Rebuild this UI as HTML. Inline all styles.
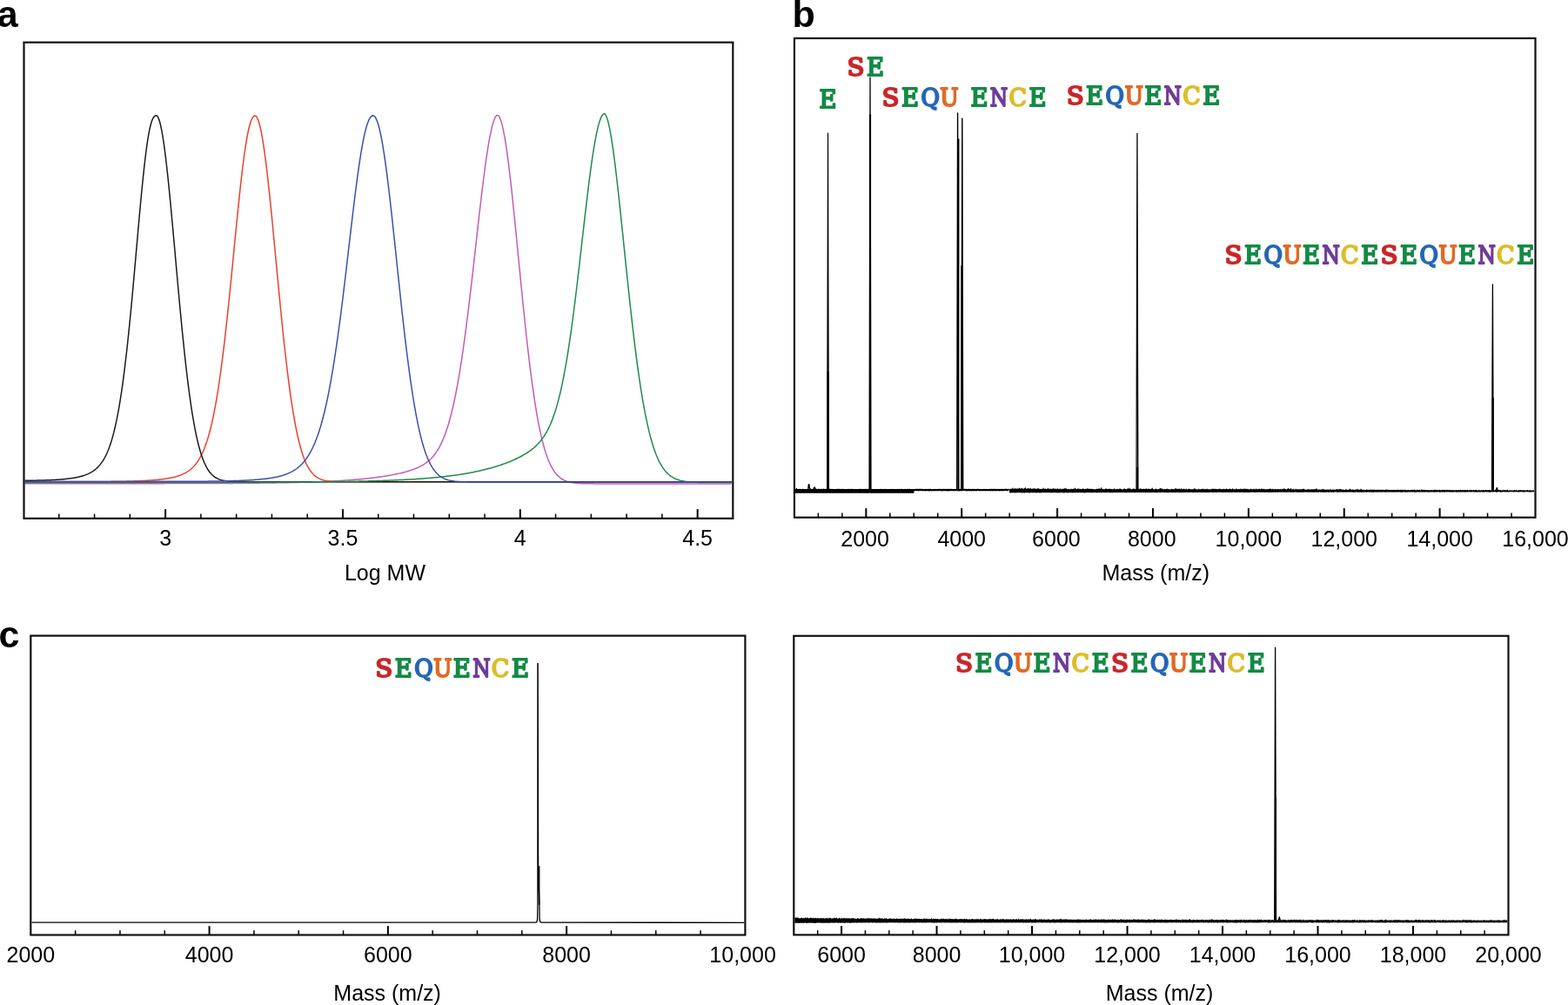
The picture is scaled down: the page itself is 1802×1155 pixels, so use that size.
<!DOCTYPE html>
<html><head><meta charset="utf-8"><title>Figure</title>
<style>html,body{margin:0;padding:0;background:#fff;width:1802px;height:1155px;overflow:hidden}svg{display:block}</style>
</head><body>
<svg width="1802" height="1155" viewBox="0 0 1802 1155"><text x="-3.2" y="30.8" font-family="'Liberation Sans', Arial, Helvetica, sans-serif" font-size="43" font-weight="bold" fill="#000">a</text>
<text x="910.5" y="30.8" font-family="'Liberation Sans', Arial, Helvetica, sans-serif" font-size="43" font-weight="bold" fill="#000">b</text>
<text x="-1.6" y="744" font-family="'Liberation Sans', Arial, Helvetica, sans-serif" font-size="43" font-weight="bold" fill="#000">c</text>
<path d="M28.7 555.7 L29.7 555.7 L30.7 555.7 L31.7 555.7 L32.7 555.7 L33.7 555.7 L34.7 555.7 L35.7 555.7 L36.7 555.7 L37.7 555.7 L38.7 555.7 L39.7 555.7 L40.7 555.7 L41.7 555.7 L42.7 555.7 L43.7 555.7 L44.7 555.69 L45.7 555.69 L46.7 555.69 L47.7 555.69 L48.7 555.69 L49.7 555.69 L50.7 555.69 L51.7 555.69 L52.7 555.69 L53.7 555.69 L54.7 555.69 L55.7 555.69 L56.7 555.69 L57.7 555.69 L58.7 555.69 L59.7 555.69 L60.7 555.69 L61.7 555.69 L62.7 555.69 L63.7 555.69 L64.7 555.69 L65.7 555.69 L66.7 555.69 L67.7 555.69 L68.7 555.69 L69.7 555.69 L70.7 555.69 L71.7 555.69 L72.7 555.69 L73.7 555.69 L74.7 555.69 L75.7 555.69 L76.7 555.69 L77.7 555.69 L78.7 555.69 L79.7 555.69 L80.7 555.69 L81.7 555.69 L82.7 555.69 L83.7 555.69 L84.7 555.69 L85.7 555.69 L86.7 555.69 L87.7 555.69 L88.7 555.69 L89.7 555.69 L90.7 555.69 L91.7 555.69 L92.7 555.69 L93.7 555.69 L94.7 555.69 L95.7 555.69 L96.7 555.69 L97.7 555.69 L98.7 555.69 L99.7 555.69 L100.7 555.69 L101.7 555.69 L102.7 555.69 L103.7 555.68 L104.7 555.68 L105.7 555.68 L106.7 555.68 L107.7 555.68 L108.7 555.68 L109.7 555.68 L110.7 555.68 L111.7 555.68 L112.7 555.68 L113.7 555.68 L114.7 555.68 L115.7 555.68 L116.7 555.68 L117.7 555.68 L118.7 555.68 L119.7 555.68 L120.7 555.68 L121.7 555.68 L122.7 555.68 L123.7 555.68 L124.7 555.68 L125.7 555.68 L126.7 555.68 L127.7 555.68 L128.7 555.68 L129.7 555.68 L130.7 555.67 L131.7 555.67 L132.7 555.67 L133.7 555.67 L134.7 555.67 L135.7 555.67 L136.7 555.67 L137.7 555.67 L138.7 555.67 L139.7 555.67 L140.7 555.67 L141.7 555.67 L142.7 555.67 L143.7 555.67 L144.7 555.67 L145.7 555.67 L146.7 555.67 L147.7 555.67 L148.7 555.66 L149.7 555.66 L150.7 555.66 L151.7 555.66 L152.7 555.66 L153.7 555.66 L154.7 555.66 L155.7 555.66 L156.7 555.66 L157.7 555.66 L158.7 555.66 L159.7 555.66 L160.7 555.66 L161.7 555.66 L162.7 555.65 L163.7 555.65 L164.7 555.65 L165.7 555.65 L166.7 555.65 L167.7 555.65 L168.7 555.65 L169.7 555.65 L170.7 555.65 L171.7 555.65 L172.7 555.65 L173.7 555.64 L174.7 555.64 L175.7 555.64 L176.7 555.64 L177.7 555.64 L178.7 555.64 L179.7 555.64 L180.7 555.64 L181.7 555.63 L182.7 555.63 L183.7 555.63 L184.7 555.63 L185.7 555.63 L186.7 555.63 L187.7 555.63 L188.7 555.63 L189.7 555.62 L190.7 555.62 L191.7 555.62 L192.7 555.62 L193.7 555.62 L194.7 555.62 L195.7 555.62 L196.7 555.61 L197.7 555.61 L198.7 555.61 L199.7 555.61 L200.7 555.61 L201.7 555.61 L202.7 555.6 L203.7 555.6 L204.7 555.6 L205.7 555.6 L206.7 555.6 L207.7 555.59 L208.7 555.59 L209.7 555.59 L210.7 555.59 L211.7 555.59 L212.7 555.58 L213.7 555.58 L214.7 555.58 L215.7 555.58 L216.7 555.57 L217.7 555.57 L218.7 555.57 L219.7 555.57 L220.7 555.57 L221.7 555.56 L222.7 555.56 L223.7 555.56 L224.7 555.55 L225.7 555.55 L226.7 555.55 L227.7 555.55 L228.7 555.54 L229.7 555.54 L230.7 555.54 L231.7 555.53 L232.7 555.53 L233.7 555.53 L234.7 555.52 L235.7 555.52 L236.7 555.52 L237.7 555.51 L238.7 555.51 L239.7 555.51 L240.7 555.5 L241.7 555.5 L242.7 555.5 L243.7 555.49 L244.7 555.49 L245.7 555.48 L246.7 555.48 L247.7 555.48 L248.7 555.47 L249.7 555.47 L250.7 555.46 L251.7 555.46 L252.7 555.45 L253.7 555.45 L254.7 555.45 L255.7 555.44 L256.7 555.44 L257.7 555.43 L258.7 555.43 L259.7 555.42 L260.7 555.42 L261.7 555.41 L262.7 555.4 L263.7 555.4 L264.7 555.39 L265.7 555.39 L266.7 555.38 L267.7 555.38 L268.7 555.37 L269.7 555.36 L270.7 555.36 L271.7 555.35 L272.7 555.34 L273.7 555.34 L274.7 555.33 L275.7 555.32 L276.7 555.32 L277.7 555.31 L278.7 555.3 L279.7 555.29 L280.7 555.29 L281.7 555.28 L282.7 555.27 L283.7 555.26 L284.7 555.25 L285.7 555.25 L286.7 555.24 L287.7 555.23 L288.7 555.22 L289.7 555.21 L290.7 555.2 L291.7 555.19 L292.7 555.18 L293.7 555.17 L294.7 555.16 L295.7 555.15 L296.7 555.14 L297.7 555.13 L298.7 555.12 L299.7 555.11 L300.7 555.1 L301.7 555.09 L302.7 555.08 L303.7 555.06 L304.7 555.05 L305.7 555.04 L306.7 555.03 L307.7 555.01 L308.7 555 L309.7 554.99 L310.7 554.97 L311.7 554.96 L312.7 554.95 L313.7 554.93 L314.7 554.92 L315.7 554.9 L316.7 554.89 L317.7 554.87 L318.7 554.86 L319.7 554.84 L320.7 554.83 L321.7 554.81 L322.7 554.79 L323.7 554.78 L324.7 554.76 L325.7 554.74 L326.7 554.72 L327.7 554.7 L328.7 554.69 L329.7 554.67 L330.7 554.65 L331.7 554.63 L332.7 554.61 L333.7 554.59 L334.7 554.56 L335.7 554.54 L336.7 554.52 L337.7 554.5 L338.7 554.48 L339.7 554.45 L340.7 554.43 L341.7 554.41 L342.7 554.38 L343.7 554.36 L344.7 554.33 L345.7 554.31 L346.7 554.28 L347.7 554.25 L348.7 554.23 L349.7 554.2 L350.7 554.17 L351.7 554.14 L352.7 554.11 L353.7 554.08 L354.7 554.05 L355.7 554.02 L356.7 553.99 L357.7 553.95 L358.7 553.92 L359.7 553.89 L360.7 553.85 L361.7 553.82 L362.7 553.78 L363.7 553.75 L364.7 553.71 L365.7 553.67 L366.7 553.64 L367.7 553.6 L368.7 553.56 L369.7 553.52 L370.7 553.47 L371.7 553.43 L372.7 553.39 L373.7 553.35 L374.7 553.3 L375.7 553.26 L376.7 553.21 L377.7 553.16 L378.7 553.12 L379.7 553.07 L380.7 553.02 L381.7 552.97 L382.7 552.92 L383.7 552.86 L384.7 552.81 L385.7 552.75 L386.7 552.7 L387.7 552.64 L388.7 552.59 L389.7 552.53 L390.7 552.47 L391.7 552.41 L392.7 552.34 L393.7 552.28 L394.7 552.22 L395.7 552.15 L396.7 552.08 L397.7 552.01 L398.7 551.95 L399.7 551.87 L400.7 551.8 L401.7 551.73 L402.7 551.65 L403.7 551.58 L404.7 551.5 L405.7 551.42 L406.7 551.34 L407.7 551.26 L408.7 551.17 L409.7 551.09 L410.7 551 L411.7 550.91 L412.7 550.82 L413.7 550.73 L414.7 550.64 L415.7 550.54 L416.7 550.44 L417.7 550.34 L418.7 550.24 L419.7 550.14 L420.7 550.04 L421.7 549.93 L422.7 549.82 L423.7 549.71 L424.7 549.6 L425.7 549.48 L426.7 549.36 L427.7 549.24 L428.7 549.12 L429.7 549 L430.7 548.87 L431.7 548.74 L432.7 548.61 L433.7 548.48 L434.7 548.34 L435.7 548.2 L436.7 548.06 L437.7 547.91 L438.7 547.77 L439.7 547.62 L440.7 547.46 L441.7 547.31 L442.7 547.15 L443.7 546.99 L444.7 546.82 L445.7 546.65 L446.7 546.48 L447.7 546.31 L448.7 546.13 L449.7 545.94 L450.7 545.76 L451.7 545.57 L452.7 545.37 L453.7 545.17 L454.7 544.97 L455.7 544.76 L456.7 544.55 L457.7 544.33 L458.7 544.11 L459.7 543.88 L460.7 543.65 L461.7 543.41 L462.7 543.17 L463.7 542.92 L464.7 542.66 L465.7 542.4 L466.7 542.12 L467.7 541.84 L468.7 541.55 L469.7 541.26 L470.7 540.95 L471.7 540.63 L472.7 540.3 L473.7 539.96 L474.7 539.61 L475.7 539.24 L476.7 538.86 L477.7 538.46 L478.7 538.05 L479.7 537.62 L480.7 537.17 L481.7 536.69 L482.7 536.2 L483.7 535.68 L484.7 535.14 L485.7 534.56 L486.7 533.96 L487.7 533.32 L488.7 532.65 L489.7 531.94 L490.7 531.19 L491.7 530.39 L492.7 529.55 L493.7 528.66 L494.7 527.71 L495.7 526.7 L496.7 525.63 L497.7 524.5 L498.7 523.29 L499.7 522.01 L500.7 520.64 L501.7 519.19 L502.7 517.65 L503.7 516.01 L504.7 514.26 L505.7 512.41 L506.7 510.44 L507.7 508.34 L508.7 506.12 L509.7 503.77 L510.7 501.27 L511.7 498.62 L512.7 495.82 L513.7 492.85 L514.7 489.72 L515.7 486.41 L516.7 482.92 L517.7 479.24 L518.7 475.37 L519.7 471.29 L520.7 467.01 L521.7 462.52 L522.7 457.81 L523.7 452.89 L524.7 447.74 L525.7 442.37 L526.7 436.76 L527.7 430.93 L528.7 424.87 L529.7 418.59 L530.7 412.07 L531.7 405.33 L532.7 398.37 L533.7 391.19 L534.7 383.81 L535.7 376.22 L536.7 368.44 L537.7 360.48 L538.7 352.34 L539.7 344.05 L540.7 335.61 L541.7 327.05 L542.7 318.37 L543.7 309.6 L544.7 300.76 L545.7 291.87 L546.7 282.96 L547.7 274.03 L548.7 265.13 L549.7 256.28 L550.7 247.5 L551.7 238.83 L552.7 230.28 L553.7 221.9 L554.7 213.71 L555.7 205.73 L556.7 198.01 L557.7 190.57 L558.7 183.45 L559.7 176.66 L560.7 170.25 L561.7 164.24 L562.7 158.65 L563.7 153.53 L564.7 148.89 L565.7 144.76 L566.7 141.17 L567.7 138.15 L568.7 135.72 L569.7 133.91 L570.7 132.78 L571.7 132.4 L572.7 132.89 L573.7 134.14 L574.7 136.11 L575.7 138.79 L576.7 142.15 L577.7 146.17 L578.7 150.82 L579.7 156.08 L580.7 161.91 L581.7 168.28 L582.7 175.17 L583.7 182.54 L584.7 190.36 L585.7 198.58 L586.7 207.17 L587.7 216.1 L588.7 225.32 L589.7 234.8 L590.7 244.49 L591.7 254.37 L592.7 264.39 L593.7 274.52 L594.7 284.72 L595.7 294.96 L596.7 305.2 L597.7 315.41 L598.7 325.56 L599.7 335.63 L600.7 345.58 L601.7 355.39 L602.7 365.03 L603.7 374.49 L604.7 383.75 L605.7 392.78 L606.7 401.58 L607.7 410.12 L608.7 418.4 L609.7 426.41 L610.7 434.14 L611.7 441.58 L612.7 448.72 L613.7 455.58 L614.7 462.13 L615.7 468.39 L616.7 474.36 L617.7 480.03 L618.7 485.42 L619.7 490.52 L620.7 495.35 L621.7 499.9 L622.7 504.19 L623.7 508.22 L624.7 512 L625.7 515.54 L626.7 518.85 L627.7 521.95 L628.7 524.83 L629.7 527.5 L630.7 529.99 L631.7 532.29 L632.7 534.42 L633.7 536.39 L634.7 538.21 L635.7 539.87 L636.7 541.41 L637.7 542.81 L638.7 544.1 L639.7 545.28 L640.7 546.35 L641.7 547.33 L642.7 548.22 L643.7 549.02 L644.7 549.75 L645.7 550.41 L646.7 551.01 L647.7 551.55 L648.7 552.04 L649.7 552.47 L650.7 552.86 L651.7 553.21 L652.7 553.53 L653.7 553.81 L654.7 554.06 L655.7 554.28 L656.7 554.48 L657.7 554.65 L658.7 554.81 L659.7 554.95 L660.7 555.07 L661.7 555.17 L662.7 555.27 L663.7 555.35 L664.7 555.42 L665.7 555.49 L666.7 555.54 L667.7 555.59 L668.7 555.63 L669.7 555.67 L670.7 555.7 L671.7 555.73 L672.7 555.75 L673.7 555.78 L674.7 555.79 L675.7 555.81 L676.7 555.82 L677.7 555.83 L678.7 555.84 L679.7 555.85 L680.7 555.86 L681.7 555.87 L682.7 555.87 L683.7 555.88 L684.7 555.88 L685.7 555.88 L686.7 555.89 L687.7 555.89 L688.7 555.89 L689.7 555.89 L690.7 555.89 L691.7 555.89 L692.7 555.9 L693.7 555.9 L694.7 555.9 L695.7 555.9 L696.7 555.9 L697.7 555.9 L698.7 555.9 L699.7 555.9 L700.7 555.9 L701.7 555.9 L702.7 555.9 L703.7 555.9 L704.7 555.9 L705.7 555.9 L706.7 555.9 L707.7 555.9 L708.7 555.9 L709.7 555.9 L710.7 555.9 L711.7 555.9 L712.7 555.9 L713.7 555.9 L714.7 555.9 L715.7 555.9 L716.7 555.9 L717.7 555.9 L718.7 555.9 L719.7 555.9 L720.7 555.9 L721.7 555.9 L722.7 555.9 L723.7 555.9 L724.7 555.9 L725.7 555.9 L726.7 555.9 L727.7 555.9 L728.7 555.9 L729.7 555.9 L730.7 555.9 L731.7 555.9 L732.7 555.9 L733.7 555.9 L734.7 555.9 L735.7 555.9 L736.7 555.9 L737.7 555.9 L738.7 555.9 L739.7 555.9 L740.7 555.9 L741.7 555.9 L742.7 555.9 L743.7 555.9 L744.7 555.9 L745.7 555.9 L746.7 555.9 L747.7 555.9 L748.7 555.9 L749.7 555.9 L750.7 555.9 L751.7 555.9 L752.7 555.9 L753.7 555.9 L754.7 555.9 L755.7 555.9 L756.7 555.9 L757.7 555.9 L758.7 555.9 L759.7 555.9 L760.7 555.9 L761.7 555.9 L762.7 555.9 L763.7 555.9 L764.7 555.9 L765.7 555.9 L766.7 555.9 L767.7 555.9 L768.7 555.9 L769.7 555.9 L770.7 555.9 L771.7 555.9 L772.7 555.9 L773.7 555.9 L774.7 555.9 L775.7 555.9 L776.7 555.9 L777.7 555.9 L778.7 555.9 L779.7 555.9 L780.7 555.9 L781.7 555.9 L782.7 555.9 L783.7 555.9 L784.7 555.9 L785.7 555.9 L786.7 555.9 L787.7 555.9 L788.7 555.9 L789.7 555.9 L790.7 555.9 L791.7 555.9 L792.7 555.9 L793.7 555.9 L794.7 555.9 L795.7 555.9 L796.7 555.9 L797.7 555.9 L798.7 555.9 L799.7 555.9 L800.7 555.9 L801.7 555.9 L802.7 555.9 L803.7 555.9 L804.7 555.9 L805.7 555.9 L806.7 555.9 L807.7 555.9 L808.7 555.9 L809.7 555.9 L810.7 555.9 L811.7 555.9 L812.7 555.9 L813.7 555.9 L814.7 555.9 L815.7 555.9 L816.7 555.9 L817.7 555.9 L818.7 555.9 L819.7 555.9 L820.7 555.9 L821.7 555.9 L822.7 555.9 L823.7 555.9 L824.7 555.9 L825.7 555.9 L826.7 555.9 L827.7 555.9 L828.7 555.9 L829.7 555.9 L830.7 555.9 L831.7 555.9 L832.7 555.9 L833.7 555.9 L834.7 555.9 L835.7 555.9 L836.7 555.9 L837.7 555.9 L838.7 555.9 L839.7 555.9 L840.7 555.9" fill="none" stroke="#c35bb5" stroke-width="1.5" stroke-linejoin="round" />
<path d="M28.7 553.6 L29.7 553.6 L30.7 553.6 L31.7 553.6 L32.7 553.6 L33.7 553.6 L34.7 553.6 L35.7 553.6 L36.7 553.6 L37.7 553.6 L38.7 553.59 L39.7 553.59 L40.7 553.59 L41.7 553.59 L42.7 553.59 L43.7 553.59 L44.7 553.59 L45.7 553.59 L46.7 553.59 L47.7 553.59 L48.7 553.59 L49.7 553.59 L50.7 553.59 L51.7 553.59 L52.7 553.59 L53.7 553.59 L54.7 553.59 L55.7 553.59 L56.7 553.59 L57.7 553.59 L58.7 553.59 L59.7 553.59 L60.7 553.59 L61.7 553.59 L62.7 553.59 L63.7 553.59 L64.7 553.58 L65.7 553.58 L66.7 553.58 L67.7 553.58 L68.7 553.58 L69.7 553.58 L70.7 553.58 L71.7 553.58 L72.7 553.58 L73.7 553.58 L74.7 553.58 L75.7 553.58 L76.7 553.57 L77.7 553.57 L78.7 553.57 L79.7 553.57 L80.7 553.57 L81.7 553.57 L82.7 553.57 L83.7 553.56 L84.7 553.56 L85.7 553.56 L86.7 553.56 L87.7 553.56 L88.7 553.56 L89.7 553.55 L90.7 553.55 L91.7 553.55 L92.7 553.55 L93.7 553.55 L94.7 553.54 L95.7 553.54 L96.7 553.54 L97.7 553.54 L98.7 553.53 L99.7 553.53 L100.7 553.53 L101.7 553.52 L102.7 553.52 L103.7 553.52 L104.7 553.51 L105.7 553.51 L106.7 553.51 L107.7 553.5 L108.7 553.5 L109.7 553.49 L110.7 553.49 L111.7 553.48 L112.7 553.48 L113.7 553.47 L114.7 553.47 L115.7 553.46 L116.7 553.46 L117.7 553.45 L118.7 553.44 L119.7 553.44 L120.7 553.43 L121.7 553.42 L122.7 553.41 L123.7 553.41 L124.7 553.4 L125.7 553.39 L126.7 553.38 L127.7 553.37 L128.7 553.36 L129.7 553.35 L130.7 553.34 L131.7 553.33 L132.7 553.32 L133.7 553.3 L134.7 553.29 L135.7 553.28 L136.7 553.26 L137.7 553.25 L138.7 553.23 L139.7 553.22 L140.7 553.2 L141.7 553.18 L142.7 553.16 L143.7 553.15 L144.7 553.13 L145.7 553.11 L146.7 553.08 L147.7 553.06 L148.7 553.04 L149.7 553.01 L150.7 552.99 L151.7 552.96 L152.7 552.93 L153.7 552.9 L154.7 552.87 L155.7 552.84 L156.7 552.81 L157.7 552.77 L158.7 552.74 L159.7 552.7 L160.7 552.66 L161.7 552.62 L162.7 552.58 L163.7 552.53 L164.7 552.49 L165.7 552.44 L166.7 552.39 L167.7 552.33 L168.7 552.28 L169.7 552.22 L170.7 552.16 L171.7 552.1 L172.7 552.03 L173.7 551.96 L174.7 551.89 L175.7 551.81 L176.7 551.74 L177.7 551.65 L178.7 551.57 L179.7 551.48 L180.7 551.38 L181.7 551.29 L182.7 551.18 L183.7 551.08 L184.7 550.96 L185.7 550.85 L186.7 550.72 L187.7 550.59 L188.7 550.46 L189.7 550.32 L190.7 550.17 L191.7 550.01 L192.7 549.85 L193.7 549.67 L194.7 549.49 L195.7 549.3 L196.7 549.1 L197.7 548.89 L198.7 548.66 L199.7 548.43 L200.7 548.18 L201.7 547.91 L202.7 547.64 L203.7 547.34 L204.7 547.03 L205.7 546.69 L206.7 546.34 L207.7 545.97 L208.7 545.57 L209.7 545.14 L210.7 544.69 L211.7 544.2 L212.7 543.69 L213.7 543.13 L214.7 542.54 L215.7 541.91 L216.7 541.23 L217.7 540.51 L218.7 539.73 L219.7 538.89 L220.7 538 L221.7 537.04 L222.7 536 L223.7 534.89 L224.7 533.7 L225.7 532.42 L226.7 531.04 L227.7 529.56 L228.7 527.97 L229.7 526.26 L230.7 524.43 L231.7 522.47 L232.7 520.36 L233.7 518.1 L234.7 515.68 L235.7 513.09 L236.7 510.33 L237.7 507.37 L238.7 504.22 L239.7 500.85 L240.7 497.27 L241.7 493.46 L242.7 489.41 L243.7 485.11 L244.7 480.55 L245.7 475.73 L246.7 470.64 L247.7 465.27 L248.7 459.61 L249.7 453.65 L250.7 447.41 L251.7 440.86 L252.7 434.01 L253.7 426.86 L254.7 419.41 L255.7 411.66 L256.7 403.63 L257.7 395.31 L258.7 386.71 L259.7 377.86 L260.7 368.75 L261.7 359.42 L262.7 349.88 L263.7 340.14 L264.7 330.25 L265.7 320.21 L266.7 310.07 L267.7 299.86 L268.7 289.6 L269.7 279.34 L270.7 269.12 L271.7 258.97 L272.7 248.94 L273.7 239.08 L274.7 229.42 L275.7 220.01 L276.7 210.89 L277.7 202.12 L278.7 193.73 L279.7 185.76 L280.7 178.26 L281.7 171.26 L282.7 164.79 L283.7 158.88 L284.7 153.56 L285.7 148.85 L286.7 144.76 L287.7 141.29 L288.7 138.44 L289.7 136.21 L290.7 134.58 L291.7 133.53 L292.7 133.03 L293.7 133.18 L294.7 134.05 L295.7 135.64 L296.7 137.94 L297.7 140.95 L298.7 144.64 L299.7 148.99 L300.7 153.99 L301.7 159.6 L302.7 165.81 L303.7 172.58 L304.7 179.87 L305.7 187.66 L306.7 195.9 L307.7 204.56 L308.7 213.59 L309.7 222.96 L310.7 232.63 L311.7 242.55 L312.7 252.69 L313.7 263 L314.7 273.43 L315.7 283.96 L316.7 294.54 L317.7 305.13 L318.7 315.71 L319.7 326.22 L320.7 336.64 L321.7 346.95 L322.7 357.1 L323.7 367.08 L324.7 376.86 L325.7 386.41 L326.7 395.72 L327.7 404.77 L328.7 413.54 L329.7 422.02 L330.7 430.21 L331.7 438.08 L332.7 445.64 L333.7 452.88 L334.7 459.8 L335.7 466.39 L336.7 472.66 L337.7 478.61 L338.7 484.25 L339.7 489.57 L340.7 494.59 L341.7 499.31 L342.7 503.74 L343.7 507.88 L344.7 511.76 L345.7 515.38 L346.7 518.74 L347.7 521.87 L348.7 524.77 L349.7 527.45 L350.7 529.92 L351.7 532.2 L352.7 534.29 L353.7 536.21 L354.7 537.97 L355.7 539.58 L356.7 541.05 L357.7 542.38 L358.7 543.6 L359.7 544.7 L360.7 545.69 L361.7 546.59 L362.7 547.4 L363.7 548.13 L364.7 548.78 L365.7 549.37 L366.7 549.9 L367.7 550.36 L368.7 550.78 L369.7 551.15 L370.7 551.48 L371.7 551.77 L372.7 552.03 L373.7 552.26 L374.7 552.46 L375.7 552.64 L376.7 552.79 L377.7 552.93 L378.7 553.05 L379.7 553.15 L380.7 553.24 L381.7 553.32 L382.7 553.39 L383.7 553.45 L384.7 553.5 L385.7 553.54 L386.7 553.58 L387.7 553.61 L388.7 553.64 L389.7 553.67 L390.7 553.69 L391.7 553.7 L392.7 553.72 L393.7 553.73 L394.7 553.74 L395.7 553.75 L396.7 553.76 L397.7 553.77 L398.7 553.77 L399.7 553.78 L400.7 553.78 L401.7 553.78 L402.7 553.79 L403.7 553.79 L404.7 553.79 L405.7 553.79 L406.7 553.79 L407.7 553.79 L408.7 553.8 L409.7 553.8 L410.7 553.8 L411.7 553.8 L412.7 553.8 L413.7 553.8 L414.7 553.8 L415.7 553.8 L416.7 553.8 L417.7 553.8 L418.7 553.8 L419.7 553.8 L420.7 553.8 L421.7 553.8 L422.7 553.8 L423.7 553.8 L424.7 553.8 L425.7 553.8 L426.7 553.8 L427.7 553.8 L428.7 553.8 L429.7 553.8 L430.7 553.8 L431.7 553.8 L432.7 553.8 L433.7 553.8 L434.7 553.8 L435.7 553.8 L436.7 553.8 L437.7 553.8 L438.7 553.8 L439.7 553.8 L440.7 553.8 L441.7 553.8 L442.7 553.8 L443.7 553.8 L444.7 553.8 L445.7 553.8 L446.7 553.8 L447.7 553.8 L448.7 553.8 L449.7 553.8 L450.7 553.8 L451.7 553.8 L452.7 553.8 L453.7 553.8 L454.7 553.8 L455.7 553.8 L456.7 553.8 L457.7 553.8 L458.7 553.8 L459.7 553.8 L460.7 553.8 L461.7 553.8 L462.7 553.8 L463.7 553.8 L464.7 553.8 L465.7 553.8 L466.7 553.8 L467.7 553.8 L468.7 553.8 L469.7 553.8 L470.7 553.8 L471.7 553.8 L472.7 553.8 L473.7 553.8 L474.7 553.8 L475.7 553.8 L476.7 553.8 L477.7 553.8 L478.7 553.8 L479.7 553.8 L480.7 553.8 L481.7 553.8 L482.7 553.8 L483.7 553.8 L484.7 553.8 L485.7 553.8 L486.7 553.8 L487.7 553.8 L488.7 553.8 L489.7 553.8 L490.7 553.8 L491.7 553.8 L492.7 553.8 L493.7 553.8 L494.7 553.8 L495.7 553.8 L496.7 553.8 L497.7 553.8 L498.7 553.8 L499.7 553.8 L500.7 553.8 L501.7 553.8 L502.7 553.8 L503.7 553.8 L504.7 553.8 L505.7 553.8 L506.7 553.8 L507.7 553.8 L508.7 553.8 L509.7 553.8 L510.7 553.8 L511.7 553.8 L512.7 553.8 L513.7 553.8 L514.7 553.8 L515.7 553.8 L516.7 553.8 L517.7 553.8 L518.7 553.8 L519.7 553.8 L520.7 553.8 L521.7 553.8 L522.7 553.8 L523.7 553.8 L524.7 553.8 L525.7 553.8 L526.7 553.8 L527.7 553.8 L528.7 553.8 L529.7 553.8 L530.7 553.8 L531.7 553.8 L532.7 553.8 L533.7 553.8 L534.7 553.8 L535.7 553.8 L536.7 553.8 L537.7 553.8 L538.7 553.8 L539.7 553.8 L540.7 553.8 L541.7 553.8 L542.7 553.8 L543.7 553.8 L544.7 553.8 L545.7 553.8 L546.7 553.8 L547.7 553.8 L548.7 553.8 L549.7 553.8 L550.7 553.8 L551.7 553.8 L552.7 553.8 L553.7 553.8 L554.7 553.8 L555.7 553.8 L556.7 553.8 L557.7 553.8 L558.7 553.8 L559.7 553.8 L560.7 553.8 L561.7 553.8 L562.7 553.8 L563.7 553.8 L564.7 553.8 L565.7 553.8 L566.7 553.8 L567.7 553.8 L568.7 553.8 L569.7 553.8 L570.7 553.8 L571.7 553.8 L572.7 553.8 L573.7 553.8 L574.7 553.8 L575.7 553.8 L576.7 553.8 L577.7 553.8 L578.7 553.8 L579.7 553.8 L580.7 553.8 L581.7 553.8 L582.7 553.8 L583.7 553.8 L584.7 553.8 L585.7 553.8 L586.7 553.8 L587.7 553.8 L588.7 553.8 L589.7 553.8 L590.7 553.8 L591.7 553.8 L592.7 553.8 L593.7 553.8 L594.7 553.8 L595.7 553.8 L596.7 553.8 L597.7 553.8 L598.7 553.8 L599.7 553.8 L600.7 553.8 L601.7 553.8 L602.7 553.8 L603.7 553.8 L604.7 553.8 L605.7 553.8 L606.7 553.8 L607.7 553.8 L608.7 553.8 L609.7 553.8 L610.7 553.8 L611.7 553.8 L612.7 553.8 L613.7 553.8 L614.7 553.8 L615.7 553.8 L616.7 553.8 L617.7 553.8 L618.7 553.8 L619.7 553.8 L620.7 553.8 L621.7 553.8 L622.7 553.8 L623.7 553.8 L624.7 553.8 L625.7 553.8 L626.7 553.8 L627.7 553.8 L628.7 553.8 L629.7 553.8 L630.7 553.8 L631.7 553.8 L632.7 553.8 L633.7 553.8 L634.7 553.8 L635.7 553.8 L636.7 553.8 L637.7 553.8 L638.7 553.8 L639.7 553.8 L640.7 553.8 L641.7 553.8 L642.7 553.8 L643.7 553.8 L644.7 553.8 L645.7 553.8 L646.7 553.8 L647.7 553.8 L648.7 553.8 L649.7 553.8 L650.7 553.8 L651.7 553.8 L652.7 553.8 L653.7 553.8 L654.7 553.8 L655.7 553.8 L656.7 553.8 L657.7 553.8 L658.7 553.8 L659.7 553.8 L660.7 553.8 L661.7 553.8 L662.7 553.8 L663.7 553.8 L664.7 553.8 L665.7 553.8 L666.7 553.8 L667.7 553.8 L668.7 553.8 L669.7 553.8 L670.7 553.8 L671.7 553.8 L672.7 553.8 L673.7 553.8 L674.7 553.8 L675.7 553.8 L676.7 553.8 L677.7 553.8 L678.7 553.8 L679.7 553.8 L680.7 553.8 L681.7 553.8 L682.7 553.8 L683.7 553.8 L684.7 553.8 L685.7 553.8 L686.7 553.8 L687.7 553.8 L688.7 553.8 L689.7 553.8 L690.7 553.8 L691.7 553.8 L692.7 553.8 L693.7 553.8 L694.7 553.8 L695.7 553.8 L696.7 553.8 L697.7 553.8 L698.7 553.8 L699.7 553.8 L700.7 553.8 L701.7 553.8 L702.7 553.8 L703.7 553.8 L704.7 553.8 L705.7 553.8 L706.7 553.8 L707.7 553.8 L708.7 553.8 L709.7 553.8 L710.7 553.8 L711.7 553.8 L712.7 553.8 L713.7 553.8 L714.7 553.8 L715.7 553.8 L716.7 553.8 L717.7 553.8 L718.7 553.8 L719.7 553.8 L720.7 553.8 L721.7 553.8 L722.7 553.8 L723.7 553.8 L724.7 553.8 L725.7 553.8 L726.7 553.8 L727.7 553.8 L728.7 553.8 L729.7 553.8 L730.7 553.8 L731.7 553.8 L732.7 553.8 L733.7 553.8 L734.7 553.8 L735.7 553.8 L736.7 553.8 L737.7 553.8 L738.7 553.8 L739.7 553.8 L740.7 553.8 L741.7 553.8 L742.7 553.8 L743.7 553.8 L744.7 553.8 L745.7 553.8 L746.7 553.8 L747.7 553.8 L748.7 553.8 L749.7 553.8 L750.7 553.8 L751.7 553.8 L752.7 553.8 L753.7 553.8 L754.7 553.8 L755.7 553.8 L756.7 553.8 L757.7 553.8 L758.7 553.8 L759.7 553.8 L760.7 553.8 L761.7 553.8 L762.7 553.8 L763.7 553.8 L764.7 553.8 L765.7 553.8 L766.7 553.8 L767.7 553.8 L768.7 553.8 L769.7 553.8 L770.7 553.8 L771.7 553.8 L772.7 553.8 L773.7 553.8 L774.7 553.8 L775.7 553.8 L776.7 553.8 L777.7 553.8 L778.7 553.8 L779.7 553.8 L780.7 553.8 L781.7 553.8 L782.7 553.8 L783.7 553.8 L784.7 553.8 L785.7 553.8 L786.7 553.8 L787.7 553.8 L788.7 553.8 L789.7 553.8 L790.7 553.8 L791.7 553.8 L792.7 553.8 L793.7 553.8 L794.7 553.8 L795.7 553.8 L796.7 553.8 L797.7 553.8 L798.7 553.8 L799.7 553.8 L800.7 553.8 L801.7 553.8 L802.7 553.8 L803.7 553.8 L804.7 553.8 L805.7 553.8 L806.7 553.8 L807.7 553.8 L808.7 553.8 L809.7 553.8 L810.7 553.8 L811.7 553.8 L812.7 553.8 L813.7 553.8 L814.7 553.8 L815.7 553.8 L816.7 553.8 L817.7 553.8 L818.7 553.8 L819.7 553.8 L820.7 553.8 L821.7 553.8 L822.7 553.8 L823.7 553.8 L824.7 553.8 L825.7 553.8 L826.7 553.8 L827.7 553.8 L828.7 553.8 L829.7 553.8 L830.7 553.8 L831.7 553.8 L832.7 553.8 L833.7 553.8 L834.7 553.8 L835.7 553.8 L836.7 553.8 L837.7 553.8 L838.7 553.8 L839.7 553.8 L840.7 553.8" fill="none" stroke="#e8412c" stroke-width="1.5" stroke-linejoin="round" />
<path d="M28.7 552.31 L29.7 552.3 L30.7 552.28 L31.7 552.27 L32.7 552.26 L33.7 552.25 L34.7 552.24 L35.7 552.22 L36.7 552.21 L37.7 552.19 L38.7 552.18 L39.7 552.16 L40.7 552.15 L41.7 552.13 L42.7 552.11 L43.7 552.09 L44.7 552.07 L45.7 552.04 L46.7 552.02 L47.7 552 L48.7 551.97 L49.7 551.94 L50.7 551.91 L51.7 551.88 L52.7 551.85 L53.7 551.82 L54.7 551.78 L55.7 551.75 L56.7 551.71 L57.7 551.67 L58.7 551.63 L59.7 551.58 L60.7 551.53 L61.7 551.48 L62.7 551.43 L63.7 551.38 L64.7 551.32 L65.7 551.26 L66.7 551.19 L67.7 551.13 L68.7 551.06 L69.7 550.98 L70.7 550.9 L71.7 550.82 L72.7 550.73 L73.7 550.64 L74.7 550.55 L75.7 550.45 L76.7 550.34 L77.7 550.23 L78.7 550.11 L79.7 549.98 L80.7 549.85 L81.7 549.71 L82.7 549.57 L83.7 549.41 L84.7 549.25 L85.7 549.08 L86.7 548.9 L87.7 548.7 L88.7 548.5 L89.7 548.29 L90.7 548.06 L91.7 547.82 L92.7 547.56 L93.7 547.29 L94.7 547 L95.7 546.69 L96.7 546.36 L97.7 546.02 L98.7 545.65 L99.7 545.25 L100.7 544.83 L101.7 544.38 L102.7 543.89 L103.7 543.38 L104.7 542.82 L105.7 542.23 L106.7 541.59 L107.7 540.9 L108.7 540.17 L109.7 539.37 L110.7 538.52 L111.7 537.6 L112.7 536.61 L113.7 535.54 L114.7 534.39 L115.7 533.15 L116.7 531.81 L117.7 530.36 L118.7 528.8 L119.7 527.11 L120.7 525.29 L121.7 523.33 L122.7 521.21 L123.7 518.93 L124.7 516.48 L125.7 513.83 L126.7 510.98 L127.7 507.92 L128.7 504.64 L129.7 501.11 L130.7 497.33 L131.7 493.29 L132.7 488.97 L133.7 484.36 L134.7 479.44 L135.7 474.21 L136.7 468.64 L137.7 462.75 L138.7 456.5 L139.7 449.9 L140.7 442.95 L141.7 435.62 L142.7 427.94 L143.7 419.88 L144.7 411.46 L145.7 402.69 L146.7 393.56 L147.7 384.1 L148.7 374.31 L149.7 364.22 L150.7 353.85 L151.7 343.23 L152.7 332.39 L153.7 321.36 L154.7 310.19 L155.7 298.91 L156.7 287.57 L157.7 276.23 L158.7 264.94 L159.7 253.75 L160.7 242.73 L161.7 231.93 L162.7 221.43 L163.7 211.28 L164.7 201.55 L165.7 192.3 L166.7 183.59 L167.7 175.47 L168.7 167.99 L169.7 161.2 L170.7 155.13 L171.7 149.82 L172.7 145.26 L173.7 141.48 L174.7 138.44 L175.7 136.13 L176.7 134.5 L177.7 133.46 L178.7 132.94 L179.7 132.81 L180.7 133.39 L181.7 134.89 L182.7 137.27 L183.7 140.48 L184.7 144.51 L185.7 149.31 L186.7 154.85 L187.7 161.1 L188.7 168.01 L189.7 175.54 L190.7 183.65 L191.7 192.28 L192.7 201.4 L193.7 210.95 L194.7 220.88 L195.7 231.14 L196.7 241.68 L197.7 252.45 L198.7 263.4 L199.7 274.48 L200.7 285.65 L201.7 296.85 L202.7 308.05 L203.7 319.2 L204.7 330.26 L205.7 341.2 L206.7 351.98 L207.7 362.57 L208.7 372.93 L209.7 383.06 L210.7 392.91 L211.7 402.48 L212.7 411.74 L213.7 420.68 L214.7 429.28 L215.7 437.54 L216.7 445.45 L217.7 453.01 L218.7 460.21 L219.7 467.06 L220.7 473.55 L221.7 479.69 L222.7 485.48 L223.7 490.94 L224.7 496.06 L225.7 500.86 L226.7 505.35 L227.7 509.54 L228.7 513.44 L229.7 517.06 L230.7 520.41 L231.7 523.52 L232.7 526.38 L233.7 529.02 L234.7 531.44 L235.7 533.66 L236.7 535.69 L237.7 537.54 L238.7 539.23 L239.7 540.77 L240.7 542.16 L241.7 543.42 L242.7 544.56 L243.7 545.59 L244.7 546.52 L245.7 547.35 L246.7 548.09 L247.7 548.76 L248.7 549.36 L249.7 549.89 L250.7 550.36 L251.7 550.77 L252.7 551.15 L253.7 551.47 L254.7 551.76 L255.7 552.02 L256.7 552.24 L257.7 552.44 L258.7 552.61 L259.7 552.76 L260.7 552.89 L261.7 553 L262.7 553.1 L263.7 553.19 L264.7 553.26 L265.7 553.33 L266.7 553.38 L267.7 553.43 L268.7 553.47 L269.7 553.51 L270.7 553.54 L271.7 553.56 L272.7 553.58 L273.7 553.6 L274.7 553.62 L275.7 553.63 L276.7 553.64 L277.7 553.65 L278.7 553.66 L279.7 553.67 L280.7 553.67 L281.7 553.68 L282.7 553.68 L283.7 553.68 L284.7 553.69 L285.7 553.69 L286.7 553.69 L287.7 553.69 L288.7 553.69 L289.7 553.7 L290.7 553.7 L291.7 553.7 L292.7 553.7 L293.7 553.7 L294.7 553.7 L295.7 553.7 L296.7 553.7 L297.7 553.7 L298.7 553.7 L299.7 553.7 L300.7 553.7 L301.7 553.7 L302.7 553.7 L303.7 553.7 L304.7 553.7 L305.7 553.7 L306.7 553.7 L307.7 553.7 L308.7 553.7 L309.7 553.7 L310.7 553.7 L311.7 553.7 L312.7 553.7 L313.7 553.7 L314.7 553.7 L315.7 553.7 L316.7 553.7 L317.7 553.7 L318.7 553.7 L319.7 553.7 L320.7 553.7 L321.7 553.7 L322.7 553.7 L323.7 553.7 L324.7 553.7 L325.7 553.7 L326.7 553.7 L327.7 553.7 L328.7 553.7 L329.7 553.7 L330.7 553.7 L331.7 553.7 L332.7 553.7 L333.7 553.7 L334.7 553.7 L335.7 553.7 L336.7 553.7 L337.7 553.7 L338.7 553.7 L339.7 553.7 L340.7 553.7 L341.7 553.7 L342.7 553.7 L343.7 553.7 L344.7 553.7 L345.7 553.7 L346.7 553.7 L347.7 553.7 L348.7 553.7 L349.7 553.7 L350.7 553.7 L351.7 553.7 L352.7 553.7 L353.7 553.7 L354.7 553.7 L355.7 553.7 L356.7 553.7 L357.7 553.7 L358.7 553.7 L359.7 553.7 L360.7 553.7 L361.7 553.7 L362.7 553.7 L363.7 553.7 L364.7 553.7 L365.7 553.7 L366.7 553.7 L367.7 553.7 L368.7 553.7 L369.7 553.7 L370.7 553.7 L371.7 553.7 L372.7 553.7 L373.7 553.7 L374.7 553.7 L375.7 553.7 L376.7 553.7 L377.7 553.7 L378.7 553.7 L379.7 553.7 L380.7 553.7 L381.7 553.7 L382.7 553.7 L383.7 553.7 L384.7 553.7 L385.7 553.7 L386.7 553.7 L387.7 553.7 L388.7 553.7 L389.7 553.7 L390.7 553.7 L391.7 553.7 L392.7 553.7 L393.7 553.7 L394.7 553.7 L395.7 553.7 L396.7 553.7 L397.7 553.7 L398.7 553.7 L399.7 553.7 L400.7 553.7 L401.7 553.7 L402.7 553.7 L403.7 553.7 L404.7 553.7 L405.7 553.7 L406.7 553.7 L407.7 553.7 L408.7 553.7 L409.7 553.7 L410.7 553.7 L411.7 553.7 L412.7 553.7 L413.7 553.7 L414.7 553.7 L415.7 553.7 L416.7 553.7 L417.7 553.7 L418.7 553.7 L419.7 553.7 L420.7 553.7 L421.7 553.7 L422.7 553.7 L423.7 553.7 L424.7 553.7 L425.7 553.7 L426.7 553.7 L427.7 553.7 L428.7 553.7 L429.7 553.7 L430.7 553.7 L431.7 553.7 L432.7 553.7 L433.7 553.7 L434.7 553.7 L435.7 553.7 L436.7 553.7 L437.7 553.7 L438.7 553.7 L439.7 553.7 L440.7 553.7 L441.7 553.7 L442.7 553.7 L443.7 553.7 L444.7 553.7 L445.7 553.7 L446.7 553.7 L447.7 553.7 L448.7 553.7 L449.7 553.7 L450.7 553.7 L451.7 553.7 L452.7 553.7 L453.7 553.7 L454.7 553.7 L455.7 553.7 L456.7 553.7 L457.7 553.7 L458.7 553.7 L459.7 553.7 L460.7 553.7 L461.7 553.7 L462.7 553.7 L463.7 553.7 L464.7 553.7 L465.7 553.7 L466.7 553.7 L467.7 553.7 L468.7 553.7 L469.7 553.7 L470.7 553.7 L471.7 553.7 L472.7 553.7 L473.7 553.7 L474.7 553.7 L475.7 553.7 L476.7 553.7 L477.7 553.7 L478.7 553.7 L479.7 553.7 L480.7 553.7 L481.7 553.7 L482.7 553.7 L483.7 553.7 L484.7 553.7 L485.7 553.7 L486.7 553.7 L487.7 553.7 L488.7 553.7 L489.7 553.7 L490.7 553.7 L491.7 553.7 L492.7 553.7 L493.7 553.7 L494.7 553.7 L495.7 553.7 L496.7 553.7 L497.7 553.7 L498.7 553.7 L499.7 553.7 L500.7 553.7 L501.7 553.7 L502.7 553.7 L503.7 553.7 L504.7 553.7 L505.7 553.7 L506.7 553.7 L507.7 553.7 L508.7 553.7 L509.7 553.7 L510.7 553.7 L511.7 553.7 L512.7 553.7 L513.7 553.7 L514.7 553.7 L515.7 553.7 L516.7 553.7 L517.7 553.7 L518.7 553.7 L519.7 553.7 L520.7 553.7 L521.7 553.7 L522.7 553.7 L523.7 553.7 L524.7 553.7 L525.7 553.7 L526.7 553.7 L527.7 553.7 L528.7 553.7 L529.7 553.7 L530.7 553.7 L531.7 553.7 L532.7 553.7 L533.7 553.7 L534.7 553.7 L535.7 553.7 L536.7 553.7 L537.7 553.7 L538.7 553.7 L539.7 553.7 L540.7 553.7 L541.7 553.7 L542.7 553.7 L543.7 553.7 L544.7 553.7 L545.7 553.7 L546.7 553.7 L547.7 553.7 L548.7 553.7 L549.7 553.7 L550.7 553.7 L551.7 553.7 L552.7 553.7 L553.7 553.7 L554.7 553.7 L555.7 553.7 L556.7 553.7 L557.7 553.7 L558.7 553.7 L559.7 553.7 L560.7 553.7 L561.7 553.7 L562.7 553.7 L563.7 553.7 L564.7 553.7 L565.7 553.7 L566.7 553.7 L567.7 553.7 L568.7 553.7 L569.7 553.7 L570.7 553.7 L571.7 553.7 L572.7 553.7 L573.7 553.7 L574.7 553.7 L575.7 553.7 L576.7 553.7 L577.7 553.7 L578.7 553.7 L579.7 553.7 L580.7 553.7 L581.7 553.7 L582.7 553.7 L583.7 553.7 L584.7 553.7 L585.7 553.7 L586.7 553.7 L587.7 553.7 L588.7 553.7 L589.7 553.7 L590.7 553.7 L591.7 553.7 L592.7 553.7 L593.7 553.7 L594.7 553.7 L595.7 553.7 L596.7 553.7 L597.7 553.7 L598.7 553.7 L599.7 553.7 L600.7 553.7 L601.7 553.7 L602.7 553.7 L603.7 553.7 L604.7 553.7 L605.7 553.7 L606.7 553.7 L607.7 553.7 L608.7 553.7 L609.7 553.7 L610.7 553.7 L611.7 553.7 L612.7 553.7 L613.7 553.7 L614.7 553.7 L615.7 553.7 L616.7 553.7 L617.7 553.7 L618.7 553.7 L619.7 553.7 L620.7 553.7 L621.7 553.7 L622.7 553.7 L623.7 553.7 L624.7 553.7 L625.7 553.7 L626.7 553.7 L627.7 553.7 L628.7 553.7 L629.7 553.7 L630.7 553.7 L631.7 553.7 L632.7 553.7 L633.7 553.7 L634.7 553.7 L635.7 553.7 L636.7 553.7 L637.7 553.7 L638.7 553.7 L639.7 553.7 L640.7 553.7 L641.7 553.7 L642.7 553.7 L643.7 553.7 L644.7 553.7 L645.7 553.7 L646.7 553.7 L647.7 553.7 L648.7 553.7 L649.7 553.7 L650.7 553.7 L651.7 553.7 L652.7 553.7 L653.7 553.7 L654.7 553.7 L655.7 553.7 L656.7 553.7 L657.7 553.7 L658.7 553.7 L659.7 553.7 L660.7 553.7 L661.7 553.7 L662.7 553.7 L663.7 553.7 L664.7 553.7 L665.7 553.7 L666.7 553.7 L667.7 553.7 L668.7 553.7 L669.7 553.7 L670.7 553.7 L671.7 553.7 L672.7 553.7 L673.7 553.7 L674.7 553.7 L675.7 553.7 L676.7 553.7 L677.7 553.7 L678.7 553.7 L679.7 553.7 L680.7 553.7 L681.7 553.7 L682.7 553.7 L683.7 553.7 L684.7 553.7 L685.7 553.7 L686.7 553.7 L687.7 553.7 L688.7 553.7 L689.7 553.7 L690.7 553.7 L691.7 553.7 L692.7 553.7 L693.7 553.7 L694.7 553.7 L695.7 553.7 L696.7 553.7 L697.7 553.7 L698.7 553.7 L699.7 553.7 L700.7 553.7 L701.7 553.7 L702.7 553.7 L703.7 553.7 L704.7 553.7 L705.7 553.7 L706.7 553.7 L707.7 553.7 L708.7 553.7 L709.7 553.7 L710.7 553.7 L711.7 553.7 L712.7 553.7 L713.7 553.7 L714.7 553.7 L715.7 553.7 L716.7 553.7 L717.7 553.7 L718.7 553.7 L719.7 553.7 L720.7 553.7 L721.7 553.7 L722.7 553.7 L723.7 553.7 L724.7 553.7 L725.7 553.7 L726.7 553.7 L727.7 553.7 L728.7 553.7 L729.7 553.7 L730.7 553.7 L731.7 553.7 L732.7 553.7 L733.7 553.7 L734.7 553.7 L735.7 553.7 L736.7 553.7 L737.7 553.7 L738.7 553.7 L739.7 553.7 L740.7 553.7 L741.7 553.7 L742.7 553.7 L743.7 553.7 L744.7 553.7 L745.7 553.7 L746.7 553.7 L747.7 553.7 L748.7 553.7 L749.7 553.7 L750.7 553.7 L751.7 553.7 L752.7 553.7 L753.7 553.7 L754.7 553.7 L755.7 553.7 L756.7 553.7 L757.7 553.7 L758.7 553.7 L759.7 553.7 L760.7 553.7 L761.7 553.7 L762.7 553.7 L763.7 553.7 L764.7 553.7 L765.7 553.7 L766.7 553.7 L767.7 553.7 L768.7 553.7 L769.7 553.7 L770.7 553.7 L771.7 553.7 L772.7 553.7 L773.7 553.7 L774.7 553.7 L775.7 553.7 L776.7 553.7 L777.7 553.7 L778.7 553.7 L779.7 553.7 L780.7 553.7 L781.7 553.7 L782.7 553.7 L783.7 553.7 L784.7 553.7 L785.7 553.7 L786.7 553.7 L787.7 553.7 L788.7 553.7 L789.7 553.7 L790.7 553.7 L791.7 553.7 L792.7 553.7 L793.7 553.7 L794.7 553.7 L795.7 553.7 L796.7 553.7 L797.7 553.7 L798.7 553.7 L799.7 553.7 L800.7 553.7 L801.7 553.7 L802.7 553.7 L803.7 553.7 L804.7 553.7 L805.7 553.7 L806.7 553.7 L807.7 553.7 L808.7 553.7 L809.7 553.7 L810.7 553.7 L811.7 553.7 L812.7 553.7 L813.7 553.7 L814.7 553.7 L815.7 553.7 L816.7 553.7 L817.7 553.7 L818.7 553.7 L819.7 553.7 L820.7 553.7 L821.7 553.7 L822.7 553.7 L823.7 553.7 L824.7 553.7 L825.7 553.7 L826.7 553.7 L827.7 553.7 L828.7 553.7 L829.7 553.7 L830.7 553.7 L831.7 553.7 L832.7 553.7 L833.7 553.7 L834.7 553.7 L835.7 553.7 L836.7 553.7 L837.7 553.7 L838.7 553.7 L839.7 553.7 L840.7 553.7" fill="none" stroke="#1a1a1a" stroke-width="1.5" stroke-linejoin="round" />
<path d="M28.7 554.4 L29.7 554.4 L30.7 554.4 L31.7 554.4 L32.7 554.4 L33.7 554.4 L34.7 554.4 L35.7 554.4 L36.7 554.4 L37.7 554.4 L38.7 554.4 L39.7 554.4 L40.7 554.4 L41.7 554.4 L42.7 554.4 L43.7 554.4 L44.7 554.4 L45.7 554.4 L46.7 554.4 L47.7 554.4 L48.7 554.4 L49.7 554.4 L50.7 554.4 L51.7 554.4 L52.7 554.4 L53.7 554.4 L54.7 554.4 L55.7 554.4 L56.7 554.4 L57.7 554.4 L58.7 554.4 L59.7 554.4 L60.7 554.4 L61.7 554.4 L62.7 554.4 L63.7 554.4 L64.7 554.4 L65.7 554.4 L66.7 554.4 L67.7 554.4 L68.7 554.4 L69.7 554.4 L70.7 554.4 L71.7 554.4 L72.7 554.4 L73.7 554.4 L74.7 554.4 L75.7 554.4 L76.7 554.4 L77.7 554.4 L78.7 554.4 L79.7 554.4 L80.7 554.4 L81.7 554.4 L82.7 554.4 L83.7 554.4 L84.7 554.4 L85.7 554.39 L86.7 554.39 L87.7 554.39 L88.7 554.39 L89.7 554.39 L90.7 554.39 L91.7 554.39 L92.7 554.39 L93.7 554.39 L94.7 554.39 L95.7 554.39 L96.7 554.39 L97.7 554.39 L98.7 554.39 L99.7 554.39 L100.7 554.39 L101.7 554.39 L102.7 554.39 L103.7 554.39 L104.7 554.39 L105.7 554.39 L106.7 554.39 L107.7 554.39 L108.7 554.39 L109.7 554.39 L110.7 554.39 L111.7 554.39 L112.7 554.39 L113.7 554.39 L114.7 554.39 L115.7 554.39 L116.7 554.39 L117.7 554.39 L118.7 554.39 L119.7 554.39 L120.7 554.39 L121.7 554.39 L122.7 554.39 L123.7 554.39 L124.7 554.39 L125.7 554.39 L126.7 554.39 L127.7 554.39 L128.7 554.39 L129.7 554.39 L130.7 554.39 L131.7 554.39 L132.7 554.39 L133.7 554.39 L134.7 554.39 L135.7 554.39 L136.7 554.39 L137.7 554.39 L138.7 554.39 L139.7 554.39 L140.7 554.39 L141.7 554.39 L142.7 554.39 L143.7 554.39 L144.7 554.39 L145.7 554.39 L146.7 554.39 L147.7 554.39 L148.7 554.39 L149.7 554.39 L150.7 554.38 L151.7 554.38 L152.7 554.38 L153.7 554.38 L154.7 554.38 L155.7 554.38 L156.7 554.38 L157.7 554.38 L158.7 554.38 L159.7 554.38 L160.7 554.38 L161.7 554.38 L162.7 554.38 L163.7 554.38 L164.7 554.38 L165.7 554.38 L166.7 554.38 L167.7 554.38 L168.7 554.38 L169.7 554.38 L170.7 554.38 L171.7 554.38 L172.7 554.38 L173.7 554.38 L174.7 554.38 L175.7 554.38 L176.7 554.38 L177.7 554.38 L178.7 554.38 L179.7 554.38 L180.7 554.37 L181.7 554.37 L182.7 554.37 L183.7 554.37 L184.7 554.37 L185.7 554.37 L186.7 554.37 L187.7 554.37 L188.7 554.37 L189.7 554.37 L190.7 554.37 L191.7 554.37 L192.7 554.37 L193.7 554.37 L194.7 554.37 L195.7 554.37 L196.7 554.37 L197.7 554.37 L198.7 554.37 L199.7 554.37 L200.7 554.36 L201.7 554.36 L202.7 554.36 L203.7 554.36 L204.7 554.36 L205.7 554.36 L206.7 554.36 L207.7 554.36 L208.7 554.36 L209.7 554.36 L210.7 554.36 L211.7 554.36 L212.7 554.36 L213.7 554.36 L214.7 554.36 L215.7 554.35 L216.7 554.35 L217.7 554.35 L218.7 554.35 L219.7 554.35 L220.7 554.35 L221.7 554.35 L222.7 554.35 L223.7 554.35 L224.7 554.35 L225.7 554.35 L226.7 554.35 L227.7 554.34 L228.7 554.34 L229.7 554.34 L230.7 554.34 L231.7 554.34 L232.7 554.34 L233.7 554.34 L234.7 554.34 L235.7 554.34 L236.7 554.34 L237.7 554.33 L238.7 554.33 L239.7 554.33 L240.7 554.33 L241.7 554.33 L242.7 554.33 L243.7 554.33 L244.7 554.33 L245.7 554.32 L246.7 554.32 L247.7 554.32 L248.7 554.32 L249.7 554.32 L250.7 554.32 L251.7 554.32 L252.7 554.31 L253.7 554.31 L254.7 554.31 L255.7 554.31 L256.7 554.31 L257.7 554.31 L258.7 554.31 L259.7 554.3 L260.7 554.3 L261.7 554.3 L262.7 554.3 L263.7 554.3 L264.7 554.3 L265.7 554.29 L266.7 554.29 L267.7 554.29 L268.7 554.29 L269.7 554.29 L270.7 554.28 L271.7 554.28 L272.7 554.28 L273.7 554.28 L274.7 554.28 L275.7 554.27 L276.7 554.27 L277.7 554.27 L278.7 554.27 L279.7 554.27 L280.7 554.26 L281.7 554.26 L282.7 554.26 L283.7 554.26 L284.7 554.25 L285.7 554.25 L286.7 554.25 L287.7 554.25 L288.7 554.24 L289.7 554.24 L290.7 554.24 L291.7 554.24 L292.7 554.23 L293.7 554.23 L294.7 554.23 L295.7 554.22 L296.7 554.22 L297.7 554.22 L298.7 554.21 L299.7 554.21 L300.7 554.21 L301.7 554.2 L302.7 554.2 L303.7 554.2 L304.7 554.19 L305.7 554.19 L306.7 554.19 L307.7 554.18 L308.7 554.18 L309.7 554.18 L310.7 554.17 L311.7 554.17 L312.7 554.16 L313.7 554.16 L314.7 554.16 L315.7 554.15 L316.7 554.15 L317.7 554.14 L318.7 554.14 L319.7 554.14 L320.7 554.13 L321.7 554.13 L322.7 554.12 L323.7 554.12 L324.7 554.11 L325.7 554.11 L326.7 554.1 L327.7 554.1 L328.7 554.09 L329.7 554.09 L330.7 554.08 L331.7 554.08 L332.7 554.07 L333.7 554.06 L334.7 554.06 L335.7 554.05 L336.7 554.05 L337.7 554.04 L338.7 554.04 L339.7 554.03 L340.7 554.02 L341.7 554.02 L342.7 554.01 L343.7 554 L344.7 554 L345.7 553.99 L346.7 553.98 L347.7 553.98 L348.7 553.97 L349.7 553.96 L350.7 553.95 L351.7 553.95 L352.7 553.94 L353.7 553.93 L354.7 553.92 L355.7 553.91 L356.7 553.91 L357.7 553.9 L358.7 553.89 L359.7 553.88 L360.7 553.87 L361.7 553.86 L362.7 553.85 L363.7 553.84 L364.7 553.83 L365.7 553.82 L366.7 553.81 L367.7 553.8 L368.7 553.79 L369.7 553.78 L370.7 553.77 L371.7 553.76 L372.7 553.75 L373.7 553.74 L374.7 553.73 L375.7 553.72 L376.7 553.71 L377.7 553.69 L378.7 553.68 L379.7 553.67 L380.7 553.66 L381.7 553.64 L382.7 553.63 L383.7 553.62 L384.7 553.61 L385.7 553.59 L386.7 553.58 L387.7 553.56 L388.7 553.55 L389.7 553.54 L390.7 553.52 L391.7 553.51 L392.7 553.49 L393.7 553.47 L394.7 553.46 L395.7 553.44 L396.7 553.43 L397.7 553.41 L398.7 553.39 L399.7 553.38 L400.7 553.36 L401.7 553.34 L402.7 553.32 L403.7 553.3 L404.7 553.29 L405.7 553.27 L406.7 553.25 L407.7 553.23 L408.7 553.21 L409.7 553.19 L410.7 553.17 L411.7 553.15 L412.7 553.12 L413.7 553.1 L414.7 553.08 L415.7 553.06 L416.7 553.03 L417.7 553.01 L418.7 552.99 L419.7 552.96 L420.7 552.94 L421.7 552.91 L422.7 552.89 L423.7 552.86 L424.7 552.84 L425.7 552.81 L426.7 552.78 L427.7 552.75 L428.7 552.73 L429.7 552.7 L430.7 552.67 L431.7 552.64 L432.7 552.61 L433.7 552.58 L434.7 552.55 L435.7 552.52 L436.7 552.48 L437.7 552.45 L438.7 552.42 L439.7 552.38 L440.7 552.35 L441.7 552.32 L442.7 552.28 L443.7 552.24 L444.7 552.21 L445.7 552.17 L446.7 552.13 L447.7 552.09 L448.7 552.05 L449.7 552.01 L450.7 551.97 L451.7 551.93 L452.7 551.89 L453.7 551.85 L454.7 551.8 L455.7 551.76 L456.7 551.71 L457.7 551.67 L458.7 551.62 L459.7 551.57 L460.7 551.53 L461.7 551.48 L462.7 551.43 L463.7 551.38 L464.7 551.32 L465.7 551.27 L466.7 551.22 L467.7 551.16 L468.7 551.11 L469.7 551.05 L470.7 551 L471.7 550.94 L472.7 550.88 L473.7 550.82 L474.7 550.76 L475.7 550.69 L476.7 550.63 L477.7 550.57 L478.7 550.5 L479.7 550.44 L480.7 550.37 L481.7 550.3 L482.7 550.23 L483.7 550.16 L484.7 550.09 L485.7 550.01 L486.7 549.94 L487.7 549.86 L488.7 549.78 L489.7 549.7 L490.7 549.62 L491.7 549.54 L492.7 549.46 L493.7 549.38 L494.7 549.29 L495.7 549.2 L496.7 549.11 L497.7 549.02 L498.7 548.93 L499.7 548.84 L500.7 548.74 L501.7 548.65 L502.7 548.55 L503.7 548.45 L504.7 548.35 L505.7 548.24 L506.7 548.14 L507.7 548.03 L508.7 547.92 L509.7 547.81 L510.7 547.7 L511.7 547.59 L512.7 547.47 L513.7 547.35 L514.7 547.23 L515.7 547.11 L516.7 546.99 L517.7 546.86 L518.7 546.73 L519.7 546.6 L520.7 546.47 L521.7 546.33 L522.7 546.19 L523.7 546.05 L524.7 545.91 L525.7 545.77 L526.7 545.62 L527.7 545.47 L528.7 545.32 L529.7 545.16 L530.7 545 L531.7 544.84 L532.7 544.68 L533.7 544.51 L534.7 544.35 L535.7 544.17 L536.7 544 L537.7 543.82 L538.7 543.64 L539.7 543.46 L540.7 543.27 L541.7 543.08 L542.7 542.89 L543.7 542.69 L544.7 542.49 L545.7 542.29 L546.7 542.08 L547.7 541.87 L548.7 541.66 L549.7 541.44 L550.7 541.22 L551.7 541 L552.7 540.77 L553.7 540.53 L554.7 540.3 L555.7 540.06 L556.7 539.81 L557.7 539.56 L558.7 539.31 L559.7 539.05 L560.7 538.79 L561.7 538.52 L562.7 538.25 L563.7 537.98 L564.7 537.7 L565.7 537.41 L566.7 537.12 L567.7 536.83 L568.7 536.53 L569.7 536.22 L570.7 535.91 L571.7 535.6 L572.7 535.28 L573.7 534.95 L574.7 534.62 L575.7 534.28 L576.7 533.93 L577.7 533.58 L578.7 533.23 L579.7 532.86 L580.7 532.5 L581.7 532.12 L582.7 531.74 L583.7 531.35 L584.7 530.95 L585.7 530.55 L586.7 530.14 L587.7 529.72 L588.7 529.29 L589.7 528.86 L590.7 528.41 L591.7 527.96 L592.7 527.5 L593.7 527.02 L594.7 526.54 L595.7 526.05 L596.7 525.55 L597.7 525.03 L598.7 524.51 L599.7 523.97 L600.7 523.41 L601.7 522.84 L602.7 522.26 L603.7 521.66 L604.7 521.04 L605.7 520.41 L606.7 519.75 L607.7 519.08 L608.7 518.38 L609.7 517.65 L610.7 516.9 L611.7 516.12 L612.7 515.31 L613.7 514.47 L614.7 513.59 L615.7 512.67 L616.7 511.71 L617.7 510.71 L618.7 509.65 L619.7 508.55 L620.7 507.39 L621.7 506.17 L622.7 504.88 L623.7 503.53 L624.7 502.1 L625.7 500.58 L626.7 498.99 L627.7 497.3 L628.7 495.51 L629.7 493.62 L630.7 491.61 L631.7 489.49 L632.7 487.25 L633.7 484.87 L634.7 482.35 L635.7 479.68 L636.7 476.85 L637.7 473.87 L638.7 470.71 L639.7 467.37 L640.7 463.85 L641.7 460.13 L642.7 456.22 L643.7 452.1 L644.7 447.76 L645.7 443.21 L646.7 438.43 L647.7 433.43 L648.7 428.19 L649.7 422.72 L650.7 417.01 L651.7 411.06 L652.7 404.88 L653.7 398.46 L654.7 391.81 L655.7 384.93 L656.7 377.83 L657.7 370.51 L658.7 362.98 L659.7 355.26 L660.7 347.35 L661.7 339.27 L662.7 331.03 L663.7 322.65 L664.7 314.15 L665.7 305.55 L666.7 296.86 L667.7 288.12 L668.7 279.35 L669.7 270.57 L670.7 261.81 L671.7 253.09 L672.7 244.45 L673.7 235.92 L674.7 227.53 L675.7 219.3 L676.7 211.26 L677.7 203.46 L678.7 195.91 L679.7 188.65 L680.7 181.71 L681.7 175.11 L682.7 168.88 L683.7 163.05 L684.7 157.64 L685.7 152.68 L686.7 148.18 L687.7 144.16 L688.7 140.64 L689.7 137.63 L690.7 135.15 L691.7 133.2 L692.7 131.8 L693.7 130.96 L694.7 130.71 L695.7 131.51 L696.7 133.29 L697.7 135.91 L698.7 139.31 L699.7 143.41 L700.7 148.16 L701.7 153.53 L702.7 159.45 L703.7 165.9 L704.7 172.82 L705.7 180.18 L706.7 187.94 L707.7 196.06 L708.7 204.5 L709.7 213.22 L710.7 222.18 L711.7 231.35 L712.7 240.69 L713.7 250.17 L714.7 259.75 L715.7 269.4 L716.7 279.1 L717.7 288.81 L718.7 298.51 L719.7 308.16 L720.7 317.75 L721.7 327.25 L722.7 336.64 L723.7 345.89 L724.7 355 L725.7 363.94 L726.7 372.7 L727.7 381.27 L728.7 389.62 L729.7 397.77 L730.7 405.68 L731.7 413.36 L732.7 420.8 L733.7 428 L734.7 434.95 L735.7 441.64 L736.7 448.08 L737.7 454.27 L738.7 460.21 L739.7 465.9 L740.7 471.33 L741.7 476.52 L742.7 481.47 L743.7 486.18 L744.7 490.66 L745.7 494.91 L746.7 498.94 L747.7 502.75 L748.7 506.36 L749.7 509.76 L750.7 512.97 L751.7 515.99 L752.7 518.83 L753.7 521.49 L754.7 523.99 L755.7 526.33 L756.7 528.52 L757.7 530.57 L758.7 532.48 L759.7 534.25 L760.7 535.91 L761.7 537.45 L762.7 538.87 L763.7 540.2 L764.7 541.42 L765.7 542.56 L766.7 543.61 L767.7 544.57 L768.7 545.46 L769.7 546.28 L770.7 547.04 L771.7 547.73 L772.7 548.37 L773.7 548.95 L774.7 549.48 L775.7 549.97 L776.7 550.42 L777.7 550.82 L778.7 551.19 L779.7 551.53 L780.7 551.84 L781.7 552.12 L782.7 552.37 L783.7 552.6 L784.7 552.8 L785.7 552.99 L786.7 553.16 L787.7 553.31 L788.7 553.45 L789.7 553.57 L790.7 553.69 L791.7 553.79 L792.7 553.88 L793.7 553.96 L794.7 554.03 L795.7 554.09 L796.7 554.15 L797.7 554.2 L798.7 554.25 L799.7 554.29 L800.7 554.33 L801.7 554.36 L802.7 554.39 L803.7 554.41 L804.7 554.43 L805.7 554.45 L806.7 554.47 L807.7 554.49 L808.7 554.5 L809.7 554.51 L810.7 554.52 L811.7 554.53 L812.7 554.54 L813.7 554.55 L814.7 554.56 L815.7 554.56 L816.7 554.57 L817.7 554.57 L818.7 554.58 L819.7 554.58 L820.7 554.58 L821.7 554.58 L822.7 554.59 L823.7 554.59 L824.7 554.59 L825.7 554.59 L826.7 554.59 L827.7 554.59 L828.7 554.59 L829.7 554.6 L830.7 554.6 L831.7 554.6 L832.7 554.6 L833.7 554.6 L834.7 554.6 L835.7 554.6 L836.7 554.6 L837.7 554.6 L838.7 554.6 L839.7 554.6 L840.7 554.6" fill="none" stroke="#1f8a4c" stroke-width="1.5" stroke-linejoin="round" />
<path d="M28.7 553.4 L29.7 553.4 L30.7 553.4 L31.7 553.4 L32.7 553.4 L33.7 553.4 L34.7 553.4 L35.7 553.4 L36.7 553.4 L37.7 553.4 L38.7 553.4 L39.7 553.4 L40.7 553.4 L41.7 553.4 L42.7 553.4 L43.7 553.4 L44.7 553.4 L45.7 553.4 L46.7 553.4 L47.7 553.4 L48.7 553.4 L49.7 553.4 L50.7 553.4 L51.7 553.4 L52.7 553.4 L53.7 553.4 L54.7 553.4 L55.7 553.4 L56.7 553.4 L57.7 553.4 L58.7 553.4 L59.7 553.4 L60.7 553.4 L61.7 553.4 L62.7 553.4 L63.7 553.4 L64.7 553.4 L65.7 553.4 L66.7 553.4 L67.7 553.4 L68.7 553.4 L69.7 553.4 L70.7 553.4 L71.7 553.4 L72.7 553.4 L73.7 553.4 L74.7 553.4 L75.7 553.4 L76.7 553.4 L77.7 553.4 L78.7 553.4 L79.7 553.4 L80.7 553.4 L81.7 553.4 L82.7 553.4 L83.7 553.4 L84.7 553.4 L85.7 553.4 L86.7 553.4 L87.7 553.4 L88.7 553.4 L89.7 553.4 L90.7 553.4 L91.7 553.4 L92.7 553.4 L93.7 553.4 L94.7 553.4 L95.7 553.4 L96.7 553.4 L97.7 553.4 L98.7 553.4 L99.7 553.4 L100.7 553.4 L101.7 553.4 L102.7 553.4 L103.7 553.4 L104.7 553.4 L105.7 553.4 L106.7 553.4 L107.7 553.4 L108.7 553.4 L109.7 553.4 L110.7 553.4 L111.7 553.4 L112.7 553.4 L113.7 553.4 L114.7 553.4 L115.7 553.4 L116.7 553.4 L117.7 553.4 L118.7 553.4 L119.7 553.4 L120.7 553.4 L121.7 553.4 L122.7 553.4 L123.7 553.4 L124.7 553.4 L125.7 553.4 L126.7 553.4 L127.7 553.4 L128.7 553.4 L129.7 553.4 L130.7 553.39 L131.7 553.39 L132.7 553.39 L133.7 553.39 L134.7 553.39 L135.7 553.39 L136.7 553.39 L137.7 553.39 L138.7 553.39 L139.7 553.39 L140.7 553.39 L141.7 553.39 L142.7 553.39 L143.7 553.39 L144.7 553.39 L145.7 553.39 L146.7 553.39 L147.7 553.39 L148.7 553.39 L149.7 553.39 L150.7 553.39 L151.7 553.39 L152.7 553.39 L153.7 553.39 L154.7 553.39 L155.7 553.39 L156.7 553.39 L157.7 553.39 L158.7 553.39 L159.7 553.39 L160.7 553.38 L161.7 553.38 L162.7 553.38 L163.7 553.38 L164.7 553.38 L165.7 553.38 L166.7 553.38 L167.7 553.38 L168.7 553.38 L169.7 553.38 L170.7 553.38 L171.7 553.38 L172.7 553.38 L173.7 553.38 L174.7 553.37 L175.7 553.37 L176.7 553.37 L177.7 553.37 L178.7 553.37 L179.7 553.37 L180.7 553.37 L181.7 553.37 L182.7 553.37 L183.7 553.36 L184.7 553.36 L185.7 553.36 L186.7 553.36 L187.7 553.36 L188.7 553.36 L189.7 553.36 L190.7 553.35 L191.7 553.35 L192.7 553.35 L193.7 553.35 L194.7 553.35 L195.7 553.34 L196.7 553.34 L197.7 553.34 L198.7 553.34 L199.7 553.34 L200.7 553.33 L201.7 553.33 L202.7 553.33 L203.7 553.33 L204.7 553.32 L205.7 553.32 L206.7 553.32 L207.7 553.31 L208.7 553.31 L209.7 553.31 L210.7 553.3 L211.7 553.3 L212.7 553.3 L213.7 553.29 L214.7 553.29 L215.7 553.28 L216.7 553.28 L217.7 553.28 L218.7 553.27 L219.7 553.27 L220.7 553.26 L221.7 553.26 L222.7 553.25 L223.7 553.24 L224.7 553.24 L225.7 553.23 L226.7 553.23 L227.7 553.22 L228.7 553.21 L229.7 553.21 L230.7 553.2 L231.7 553.19 L232.7 553.18 L233.7 553.18 L234.7 553.17 L235.7 553.16 L236.7 553.15 L237.7 553.14 L238.7 553.13 L239.7 553.12 L240.7 553.11 L241.7 553.1 L242.7 553.09 L243.7 553.08 L244.7 553.06 L245.7 553.05 L246.7 553.04 L247.7 553.02 L248.7 553.01 L249.7 553 L250.7 552.98 L251.7 552.96 L252.7 552.95 L253.7 552.93 L254.7 552.91 L255.7 552.9 L256.7 552.88 L257.7 552.86 L258.7 552.84 L259.7 552.82 L260.7 552.79 L261.7 552.77 L262.7 552.75 L263.7 552.72 L264.7 552.7 L265.7 552.67 L266.7 552.64 L267.7 552.62 L268.7 552.59 L269.7 552.56 L270.7 552.52 L271.7 552.49 L272.7 552.46 L273.7 552.42 L274.7 552.39 L275.7 552.35 L276.7 552.31 L277.7 552.27 L278.7 552.22 L279.7 552.18 L280.7 552.13 L281.7 552.09 L282.7 552.04 L283.7 551.98 L284.7 551.93 L285.7 551.88 L286.7 551.82 L287.7 551.76 L288.7 551.7 L289.7 551.63 L290.7 551.56 L291.7 551.49 L292.7 551.42 L293.7 551.35 L294.7 551.27 L295.7 551.19 L296.7 551.1 L297.7 551.01 L298.7 550.92 L299.7 550.82 L300.7 550.73 L301.7 550.62 L302.7 550.51 L303.7 550.4 L304.7 550.28 L305.7 550.16 L306.7 550.03 L307.7 549.9 L308.7 549.76 L309.7 549.61 L310.7 549.46 L311.7 549.3 L312.7 549.14 L313.7 548.96 L314.7 548.78 L315.7 548.59 L316.7 548.39 L317.7 548.18 L318.7 547.96 L319.7 547.73 L320.7 547.49 L321.7 547.24 L322.7 546.97 L323.7 546.69 L324.7 546.4 L325.7 546.09 L326.7 545.76 L327.7 545.42 L328.7 545.06 L329.7 544.67 L330.7 544.27 L331.7 543.84 L332.7 543.39 L333.7 542.92 L334.7 542.42 L335.7 541.89 L336.7 541.33 L337.7 540.73 L338.7 540.1 L339.7 539.44 L340.7 538.74 L341.7 537.99 L342.7 537.2 L343.7 536.36 L344.7 535.48 L345.7 534.54 L346.7 533.54 L347.7 532.49 L348.7 531.37 L349.7 530.19 L350.7 528.94 L351.7 527.61 L352.7 526.2 L353.7 524.72 L354.7 523.14 L355.7 521.48 L356.7 519.71 L357.7 517.85 L358.7 515.88 L359.7 513.8 L360.7 511.6 L361.7 509.29 L362.7 506.84 L363.7 504.26 L364.7 501.55 L365.7 498.69 L366.7 495.68 L367.7 492.52 L368.7 489.2 L369.7 485.71 L370.7 482.06 L371.7 478.23 L372.7 474.21 L373.7 470.02 L374.7 465.63 L375.7 461.06 L376.7 456.29 L377.7 451.31 L378.7 446.14 L379.7 440.76 L380.7 435.18 L381.7 429.39 L382.7 423.4 L383.7 417.2 L384.7 410.79 L385.7 404.19 L386.7 397.39 L387.7 390.39 L388.7 383.21 L389.7 375.84 L390.7 368.3 L391.7 360.6 L392.7 352.74 L393.7 344.74 L394.7 336.61 L395.7 328.36 L396.7 320.01 L397.7 311.58 L398.7 303.08 L399.7 294.53 L400.7 285.96 L401.7 277.38 L402.7 268.82 L403.7 260.3 L404.7 251.85 L405.7 243.5 L406.7 235.26 L407.7 227.16 L408.7 219.24 L409.7 211.53 L410.7 204.04 L411.7 196.8 L412.7 189.85 L413.7 183.21 L414.7 176.9 L415.7 170.95 L416.7 165.38 L417.7 160.22 L418.7 155.47 L419.7 151.15 L420.7 147.29 L421.7 143.88 L422.7 140.93 L423.7 138.45 L424.7 136.42 L425.7 134.85 L426.7 133.73 L427.7 133.04 L428.7 132.8 L429.7 133.13 L430.7 134.01 L431.7 135.44 L432.7 137.43 L433.7 139.98 L434.7 143.07 L435.7 146.69 L436.7 150.82 L437.7 155.47 L438.7 160.6 L439.7 166.2 L440.7 172.25 L441.7 178.72 L442.7 185.59 L443.7 192.83 L444.7 200.43 L445.7 208.34 L446.7 216.55 L447.7 225.02 L448.7 233.72 L449.7 242.63 L450.7 251.71 L451.7 260.93 L452.7 270.28 L453.7 279.7 L454.7 289.19 L455.7 298.71 L456.7 308.22 L457.7 317.72 L458.7 327.17 L459.7 336.54 L460.7 345.82 L461.7 354.99 L462.7 364.01 L463.7 372.89 L464.7 381.59 L465.7 390.11 L466.7 398.42 L467.7 406.52 L468.7 414.4 L469.7 422.04 L470.7 429.44 L471.7 436.59 L472.7 443.49 L473.7 450.12 L474.7 456.5 L475.7 462.62 L476.7 468.47 L477.7 474.06 L478.7 479.4 L479.7 484.47 L480.7 489.29 L481.7 493.86 L482.7 498.19 L483.7 502.28 L484.7 506.14 L485.7 509.78 L486.7 513.19 L487.7 516.4 L488.7 519.4 L489.7 522.21 L490.7 524.83 L491.7 527.28 L492.7 529.55 L493.7 531.66 L494.7 533.62 L495.7 535.43 L496.7 537.11 L497.7 538.66 L498.7 540.08 L499.7 541.39 L500.7 542.6 L501.7 543.7 L502.7 544.71 L503.7 545.63 L504.7 546.47 L505.7 547.24 L506.7 547.94 L507.7 548.57 L508.7 549.15 L509.7 549.67 L510.7 550.13 L511.7 550.56 L512.7 550.94 L513.7 551.28 L514.7 551.59 L515.7 551.87 L516.7 552.11 L517.7 552.34 L518.7 552.53 L519.7 552.71 L520.7 552.86 L521.7 553 L522.7 553.13 L523.7 553.24 L524.7 553.33 L525.7 553.42 L526.7 553.49 L527.7 553.56 L528.7 553.62 L529.7 553.67 L530.7 553.71 L531.7 553.75 L532.7 553.78 L533.7 553.81 L534.7 553.84 L535.7 553.86 L536.7 553.88 L537.7 553.9 L538.7 553.91 L539.7 553.93 L540.7 553.94 L541.7 553.95 L542.7 553.95 L543.7 553.96 L544.7 553.97 L545.7 553.97 L546.7 553.98 L547.7 553.98 L548.7 553.98 L549.7 553.99 L550.7 553.99 L551.7 553.99 L552.7 553.99 L553.7 553.99 L554.7 553.99 L555.7 553.99 L556.7 554 L557.7 554 L558.7 554 L559.7 554 L560.7 554 L561.7 554 L562.7 554 L563.7 554 L564.7 554 L565.7 554 L566.7 554 L567.7 554 L568.7 554 L569.7 554 L570.7 554 L571.7 554 L572.7 554 L573.7 554 L574.7 554 L575.7 554 L576.7 554 L577.7 554 L578.7 554 L579.7 554 L580.7 554 L581.7 554 L582.7 554 L583.7 554 L584.7 554 L585.7 554 L586.7 554 L587.7 554 L588.7 554 L589.7 554 L590.7 554 L591.7 554 L592.7 554 L593.7 554 L594.7 554 L595.7 554 L596.7 554 L597.7 554 L598.7 554 L599.7 554 L600.7 554 L601.7 554 L602.7 554 L603.7 554 L604.7 554 L605.7 554 L606.7 554 L607.7 554 L608.7 554 L609.7 554 L610.7 554 L611.7 554 L612.7 554 L613.7 554 L614.7 554 L615.7 554 L616.7 554 L617.7 554 L618.7 554 L619.7 554 L620.7 554 L621.7 554 L622.7 554 L623.7 554 L624.7 554 L625.7 554 L626.7 554 L627.7 554 L628.7 554 L629.7 554 L630.7 554 L631.7 554 L632.7 554 L633.7 554 L634.7 554 L635.7 554 L636.7 554 L637.7 554 L638.7 554 L639.7 554 L640.7 554 L641.7 554 L642.7 554 L643.7 554 L644.7 554 L645.7 554 L646.7 554 L647.7 554 L648.7 554 L649.7 554 L650.7 554 L651.7 554 L652.7 554 L653.7 554 L654.7 554 L655.7 554 L656.7 554 L657.7 554 L658.7 554 L659.7 554 L660.7 554 L661.7 554 L662.7 554 L663.7 554 L664.7 554 L665.7 554 L666.7 554 L667.7 554 L668.7 554 L669.7 554 L670.7 554 L671.7 554 L672.7 554 L673.7 554 L674.7 554 L675.7 554 L676.7 554 L677.7 554 L678.7 554 L679.7 554 L680.7 554 L681.7 554 L682.7 554 L683.7 554 L684.7 554 L685.7 554 L686.7 554 L687.7 554 L688.7 554 L689.7 554 L690.7 554 L691.7 554 L692.7 554 L693.7 554 L694.7 554 L695.7 554 L696.7 554 L697.7 554 L698.7 554 L699.7 554 L700.7 554 L701.7 554 L702.7 554 L703.7 554 L704.7 554 L705.7 554 L706.7 554 L707.7 554 L708.7 554 L709.7 554 L710.7 554 L711.7 554 L712.7 554 L713.7 554 L714.7 554 L715.7 554 L716.7 554 L717.7 554 L718.7 554 L719.7 554 L720.7 554 L721.7 554 L722.7 554 L723.7 554 L724.7 554 L725.7 554 L726.7 554 L727.7 554 L728.7 554 L729.7 554 L730.7 554 L731.7 554 L732.7 554 L733.7 554 L734.7 554 L735.7 554 L736.7 554 L737.7 554 L738.7 554 L739.7 554 L740.7 554 L741.7 554 L742.7 554 L743.7 554 L744.7 554 L745.7 554 L746.7 554 L747.7 554 L748.7 554 L749.7 554 L750.7 554 L751.7 554 L752.7 554 L753.7 554 L754.7 554 L755.7 554 L756.7 554 L757.7 554 L758.7 554 L759.7 554 L760.7 554 L761.7 554 L762.7 554 L763.7 554 L764.7 554 L765.7 554 L766.7 554 L767.7 554 L768.7 554 L769.7 554 L770.7 554 L771.7 554 L772.7 554 L773.7 554 L774.7 554 L775.7 554 L776.7 554 L777.7 554 L778.7 554 L779.7 554 L780.7 554 L781.7 554 L782.7 554 L783.7 554 L784.7 554 L785.7 554 L786.7 554 L787.7 554 L788.7 554 L789.7 554 L790.7 554 L791.7 554 L792.7 554 L793.7 554 L794.7 554 L795.7 554 L796.7 554 L797.7 554 L798.7 554 L799.7 554 L800.7 554 L801.7 554 L802.7 554 L803.7 554 L804.7 554 L805.7 554 L806.7 554 L807.7 554 L808.7 554 L809.7 554 L810.7 554 L811.7 554 L812.7 554 L813.7 554 L814.7 554 L815.7 554 L816.7 554 L817.7 554 L818.7 554 L819.7 554 L820.7 554 L821.7 554 L822.7 554 L823.7 554 L824.7 554 L825.7 554 L826.7 554 L827.7 554 L828.7 554 L829.7 554 L830.7 554 L831.7 554 L832.7 554 L833.7 554 L834.7 554 L835.7 554 L836.7 554 L837.7 554 L838.7 554 L839.7 554 L840.7 554" fill="none" stroke="#3a4fa8" stroke-width="1.5" stroke-linejoin="round" />
<rect x="27.5" y="48.7" width="814.8" height="547.1" fill="none" stroke="#111" stroke-width="2.2"/>
<line x1="67.79" y1="595.8" x2="67.79" y2="590.6" stroke="#000" stroke-width="1.5"/>
<line x1="108.56" y1="595.8" x2="108.56" y2="590.6" stroke="#000" stroke-width="1.5"/>
<line x1="149.33" y1="595.8" x2="149.33" y2="590.6" stroke="#000" stroke-width="1.5"/>
<line x1="190.1" y1="595.8" x2="190.1" y2="585.2" stroke="#000" stroke-width="2.0"/>
<line x1="230.87" y1="595.8" x2="230.87" y2="590.6" stroke="#000" stroke-width="1.5"/>
<line x1="271.64" y1="595.8" x2="271.64" y2="590.6" stroke="#000" stroke-width="1.5"/>
<line x1="312.41" y1="595.8" x2="312.41" y2="590.6" stroke="#000" stroke-width="1.5"/>
<line x1="353.18" y1="595.8" x2="353.18" y2="590.6" stroke="#000" stroke-width="1.5"/>
<line x1="393.95" y1="595.8" x2="393.95" y2="585.2" stroke="#000" stroke-width="2.0"/>
<line x1="434.72" y1="595.8" x2="434.72" y2="590.6" stroke="#000" stroke-width="1.5"/>
<line x1="475.49" y1="595.8" x2="475.49" y2="590.6" stroke="#000" stroke-width="1.5"/>
<line x1="516.26" y1="595.8" x2="516.26" y2="590.6" stroke="#000" stroke-width="1.5"/>
<line x1="557.03" y1="595.8" x2="557.03" y2="590.6" stroke="#000" stroke-width="1.5"/>
<line x1="597.8" y1="595.8" x2="597.8" y2="585.2" stroke="#000" stroke-width="2.0"/>
<line x1="638.57" y1="595.8" x2="638.57" y2="590.6" stroke="#000" stroke-width="1.5"/>
<line x1="679.34" y1="595.8" x2="679.34" y2="590.6" stroke="#000" stroke-width="1.5"/>
<line x1="720.11" y1="595.8" x2="720.11" y2="590.6" stroke="#000" stroke-width="1.5"/>
<line x1="760.88" y1="595.8" x2="760.88" y2="590.6" stroke="#000" stroke-width="1.5"/>
<line x1="801.65" y1="595.8" x2="801.65" y2="585.2" stroke="#000" stroke-width="2.0"/>
<text transform="translate(190.1,627.4) scale(1,1.035)" font-family="'Liberation Sans', Arial, Helvetica, sans-serif" font-size="25" font-weight="normal" text-anchor="middle" fill="#000">3</text>
<text transform="translate(393.95,627.4) scale(1,1.035)" font-family="'Liberation Sans', Arial, Helvetica, sans-serif" font-size="25" font-weight="normal" text-anchor="middle" fill="#000">3.5</text>
<text transform="translate(597.8,627.4) scale(1,1.035)" font-family="'Liberation Sans', Arial, Helvetica, sans-serif" font-size="25" font-weight="normal" text-anchor="middle" fill="#000">4</text>
<text transform="translate(801.65,627.4) scale(1,1.035)" font-family="'Liberation Sans', Arial, Helvetica, sans-serif" font-size="25" font-weight="normal" text-anchor="middle" fill="#000">4.5</text>
<text transform="translate(442.5,667.1) scale(1,1.035)" font-family="'Liberation Sans', Arial, Helvetica, sans-serif" font-size="25" font-weight="normal" text-anchor="middle" fill="#000">Log MW</text>
<rect x="912.9" y="44" width="851.6" height="550.7" fill="none" stroke="#111" stroke-width="2.2"/>
<line x1="940.37" y1="594.7" x2="940.37" y2="589.5" stroke="#000" stroke-width="1.5"/>
<line x1="967.84" y1="594.7" x2="967.84" y2="589.5" stroke="#000" stroke-width="1.5"/>
<line x1="995.31" y1="594.7" x2="995.31" y2="584.1" stroke="#000" stroke-width="2.0"/>
<line x1="1022.78" y1="594.7" x2="1022.78" y2="589.5" stroke="#000" stroke-width="1.5"/>
<line x1="1050.25" y1="594.7" x2="1050.25" y2="589.5" stroke="#000" stroke-width="1.5"/>
<line x1="1077.73" y1="594.7" x2="1077.73" y2="589.5" stroke="#000" stroke-width="1.5"/>
<line x1="1105.2" y1="594.7" x2="1105.2" y2="584.1" stroke="#000" stroke-width="2.0"/>
<line x1="1132.67" y1="594.7" x2="1132.67" y2="589.5" stroke="#000" stroke-width="1.5"/>
<line x1="1160.14" y1="594.7" x2="1160.14" y2="589.5" stroke="#000" stroke-width="1.5"/>
<line x1="1187.61" y1="594.7" x2="1187.61" y2="589.5" stroke="#000" stroke-width="1.5"/>
<line x1="1215.08" y1="594.7" x2="1215.08" y2="584.1" stroke="#000" stroke-width="2.0"/>
<line x1="1242.55" y1="594.7" x2="1242.55" y2="589.5" stroke="#000" stroke-width="1.5"/>
<line x1="1270.02" y1="594.7" x2="1270.02" y2="589.5" stroke="#000" stroke-width="1.5"/>
<line x1="1297.49" y1="594.7" x2="1297.49" y2="589.5" stroke="#000" stroke-width="1.5"/>
<line x1="1324.96" y1="594.7" x2="1324.96" y2="584.1" stroke="#000" stroke-width="2.0"/>
<line x1="1352.44" y1="594.7" x2="1352.44" y2="589.5" stroke="#000" stroke-width="1.5"/>
<line x1="1379.91" y1="594.7" x2="1379.91" y2="589.5" stroke="#000" stroke-width="1.5"/>
<line x1="1407.38" y1="594.7" x2="1407.38" y2="589.5" stroke="#000" stroke-width="1.5"/>
<line x1="1434.85" y1="594.7" x2="1434.85" y2="584.1" stroke="#000" stroke-width="2.0"/>
<line x1="1462.32" y1="594.7" x2="1462.32" y2="589.5" stroke="#000" stroke-width="1.5"/>
<line x1="1489.79" y1="594.7" x2="1489.79" y2="589.5" stroke="#000" stroke-width="1.5"/>
<line x1="1517.26" y1="594.7" x2="1517.26" y2="589.5" stroke="#000" stroke-width="1.5"/>
<line x1="1544.73" y1="594.7" x2="1544.73" y2="584.1" stroke="#000" stroke-width="2.0"/>
<line x1="1572.2" y1="594.7" x2="1572.2" y2="589.5" stroke="#000" stroke-width="1.5"/>
<line x1="1599.67" y1="594.7" x2="1599.67" y2="589.5" stroke="#000" stroke-width="1.5"/>
<line x1="1627.15" y1="594.7" x2="1627.15" y2="589.5" stroke="#000" stroke-width="1.5"/>
<line x1="1654.62" y1="594.7" x2="1654.62" y2="584.1" stroke="#000" stroke-width="2.0"/>
<line x1="1682.09" y1="594.7" x2="1682.09" y2="589.5" stroke="#000" stroke-width="1.5"/>
<line x1="1709.56" y1="594.7" x2="1709.56" y2="589.5" stroke="#000" stroke-width="1.5"/>
<line x1="1737.03" y1="594.7" x2="1737.03" y2="589.5" stroke="#000" stroke-width="1.5"/>
<text transform="translate(994.11,627.5) scale(1,1.035)" font-family="'Liberation Sans', Arial, Helvetica, sans-serif" font-size="25" font-weight="normal" text-anchor="middle" fill="#000">2000</text>
<text transform="translate(1105.2,627.5) scale(1,1.035)" font-family="'Liberation Sans', Arial, Helvetica, sans-serif" font-size="25" font-weight="normal" text-anchor="middle" fill="#000">4000</text>
<text transform="translate(1213.88,627.5) scale(1,1.035)" font-family="'Liberation Sans', Arial, Helvetica, sans-serif" font-size="25" font-weight="normal" text-anchor="middle" fill="#000">6000</text>
<text transform="translate(1323.76,627.5) scale(1,1.035)" font-family="'Liberation Sans', Arial, Helvetica, sans-serif" font-size="25" font-weight="normal" text-anchor="middle" fill="#000">8000</text>
<text transform="translate(1434.85,627.5) scale(1,1.035)" font-family="'Liberation Sans', Arial, Helvetica, sans-serif" font-size="25" font-weight="normal" text-anchor="middle" fill="#000">10,000</text>
<text transform="translate(1544.73,627.5) scale(1,1.035)" font-family="'Liberation Sans', Arial, Helvetica, sans-serif" font-size="25" font-weight="normal" text-anchor="middle" fill="#000">12,000</text>
<text transform="translate(1654.62,627.5) scale(1,1.035)" font-family="'Liberation Sans', Arial, Helvetica, sans-serif" font-size="25" font-weight="normal" text-anchor="middle" fill="#000">14,000</text>
<text transform="translate(1764.5,627.5) scale(1,1.035)" font-family="'Liberation Sans', Arial, Helvetica, sans-serif" font-size="25" font-weight="normal" text-anchor="middle" fill="#000">16,000</text>
<text transform="translate(1328.2,667.1) scale(1,1.035)" font-family="'Liberation Sans', Arial, Helvetica, sans-serif" font-size="25" font-weight="normal" text-anchor="middle" fill="#000">Mass (m/z)</text>
<rect x="35.3" y="730.6" width="821.1" height="343.9" fill="none" stroke="#111" stroke-width="2.2"/>
<line x1="86.62" y1="1074.5" x2="86.62" y2="1069.3" stroke="#000" stroke-width="1.5"/>
<line x1="137.94" y1="1074.5" x2="137.94" y2="1069.3" stroke="#000" stroke-width="1.5"/>
<line x1="189.26" y1="1074.5" x2="189.26" y2="1069.3" stroke="#000" stroke-width="1.5"/>
<line x1="240.57" y1="1074.5" x2="240.57" y2="1064.2" stroke="#000" stroke-width="2.0"/>
<line x1="291.89" y1="1074.5" x2="291.89" y2="1069.3" stroke="#000" stroke-width="1.5"/>
<line x1="343.21" y1="1074.5" x2="343.21" y2="1069.3" stroke="#000" stroke-width="1.5"/>
<line x1="394.53" y1="1074.5" x2="394.53" y2="1069.3" stroke="#000" stroke-width="1.5"/>
<line x1="445.85" y1="1074.5" x2="445.85" y2="1064.2" stroke="#000" stroke-width="2.0"/>
<line x1="497.17" y1="1074.5" x2="497.17" y2="1069.3" stroke="#000" stroke-width="1.5"/>
<line x1="548.49" y1="1074.5" x2="548.49" y2="1069.3" stroke="#000" stroke-width="1.5"/>
<line x1="599.81" y1="1074.5" x2="599.81" y2="1069.3" stroke="#000" stroke-width="1.5"/>
<line x1="651.12" y1="1074.5" x2="651.12" y2="1064.2" stroke="#000" stroke-width="2.0"/>
<line x1="702.44" y1="1074.5" x2="702.44" y2="1069.3" stroke="#000" stroke-width="1.5"/>
<line x1="753.76" y1="1074.5" x2="753.76" y2="1069.3" stroke="#000" stroke-width="1.5"/>
<line x1="805.08" y1="1074.5" x2="805.08" y2="1069.3" stroke="#000" stroke-width="1.5"/>
<text transform="translate(35.3,1106.2) scale(1,1.035)" font-family="'Liberation Sans', Arial, Helvetica, sans-serif" font-size="25" font-weight="normal" text-anchor="middle" fill="#000">2000</text>
<text transform="translate(240.57,1106.2) scale(1,1.035)" font-family="'Liberation Sans', Arial, Helvetica, sans-serif" font-size="25" font-weight="normal" text-anchor="middle" fill="#000">4000</text>
<text transform="translate(445.85,1106.2) scale(1,1.035)" font-family="'Liberation Sans', Arial, Helvetica, sans-serif" font-size="25" font-weight="normal" text-anchor="middle" fill="#000">6000</text>
<text transform="translate(651.12,1106.2) scale(1,1.035)" font-family="'Liberation Sans', Arial, Helvetica, sans-serif" font-size="25" font-weight="normal" text-anchor="middle" fill="#000">8000</text>
<text transform="translate(853.6,1106.2) scale(1,1.035)" font-family="'Liberation Sans', Arial, Helvetica, sans-serif" font-size="25" font-weight="normal" text-anchor="middle" fill="#000">10,000</text>
<text transform="translate(445.1,1149.5) scale(1,1.035)" font-family="'Liberation Sans', Arial, Helvetica, sans-serif" font-size="25" font-weight="normal" text-anchor="middle" fill="#000">Mass (m/z)</text>
<rect x="912.3" y="730.8" width="821.2" height="343.6" fill="none" stroke="#111" stroke-width="2.2"/>
<line x1="939.67" y1="1074.4" x2="939.67" y2="1069.2" stroke="#000" stroke-width="1.5"/>
<line x1="967.05" y1="1074.4" x2="967.05" y2="1064.1" stroke="#000" stroke-width="2.0"/>
<line x1="994.42" y1="1074.4" x2="994.42" y2="1069.2" stroke="#000" stroke-width="1.5"/>
<line x1="1021.79" y1="1074.4" x2="1021.79" y2="1069.2" stroke="#000" stroke-width="1.5"/>
<line x1="1049.17" y1="1074.4" x2="1049.17" y2="1069.2" stroke="#000" stroke-width="1.5"/>
<line x1="1076.54" y1="1074.4" x2="1076.54" y2="1064.1" stroke="#000" stroke-width="2.0"/>
<line x1="1103.91" y1="1074.4" x2="1103.91" y2="1069.2" stroke="#000" stroke-width="1.5"/>
<line x1="1131.29" y1="1074.4" x2="1131.29" y2="1069.2" stroke="#000" stroke-width="1.5"/>
<line x1="1158.66" y1="1074.4" x2="1158.66" y2="1069.2" stroke="#000" stroke-width="1.5"/>
<line x1="1186.03" y1="1074.4" x2="1186.03" y2="1064.1" stroke="#000" stroke-width="2.0"/>
<line x1="1213.41" y1="1074.4" x2="1213.41" y2="1069.2" stroke="#000" stroke-width="1.5"/>
<line x1="1240.78" y1="1074.4" x2="1240.78" y2="1069.2" stroke="#000" stroke-width="1.5"/>
<line x1="1268.15" y1="1074.4" x2="1268.15" y2="1069.2" stroke="#000" stroke-width="1.5"/>
<line x1="1295.53" y1="1074.4" x2="1295.53" y2="1064.1" stroke="#000" stroke-width="2.0"/>
<line x1="1322.9" y1="1074.4" x2="1322.9" y2="1069.2" stroke="#000" stroke-width="1.5"/>
<line x1="1350.27" y1="1074.4" x2="1350.27" y2="1069.2" stroke="#000" stroke-width="1.5"/>
<line x1="1377.65" y1="1074.4" x2="1377.65" y2="1069.2" stroke="#000" stroke-width="1.5"/>
<line x1="1405.02" y1="1074.4" x2="1405.02" y2="1064.1" stroke="#000" stroke-width="2.0"/>
<line x1="1432.39" y1="1074.4" x2="1432.39" y2="1069.2" stroke="#000" stroke-width="1.5"/>
<line x1="1459.77" y1="1074.4" x2="1459.77" y2="1069.2" stroke="#000" stroke-width="1.5"/>
<line x1="1487.14" y1="1074.4" x2="1487.14" y2="1069.2" stroke="#000" stroke-width="1.5"/>
<line x1="1514.51" y1="1074.4" x2="1514.51" y2="1064.1" stroke="#000" stroke-width="2.0"/>
<line x1="1541.89" y1="1074.4" x2="1541.89" y2="1069.2" stroke="#000" stroke-width="1.5"/>
<line x1="1569.26" y1="1074.4" x2="1569.26" y2="1069.2" stroke="#000" stroke-width="1.5"/>
<line x1="1596.63" y1="1074.4" x2="1596.63" y2="1069.2" stroke="#000" stroke-width="1.5"/>
<line x1="1624.01" y1="1074.4" x2="1624.01" y2="1064.1" stroke="#000" stroke-width="2.0"/>
<line x1="1651.38" y1="1074.4" x2="1651.38" y2="1069.2" stroke="#000" stroke-width="1.5"/>
<line x1="1678.75" y1="1074.4" x2="1678.75" y2="1069.2" stroke="#000" stroke-width="1.5"/>
<line x1="1706.13" y1="1074.4" x2="1706.13" y2="1069.2" stroke="#000" stroke-width="1.5"/>
<text transform="translate(967.05,1106.2) scale(1,1.035)" font-family="'Liberation Sans', Arial, Helvetica, sans-serif" font-size="25" font-weight="normal" text-anchor="middle" fill="#000">6000</text>
<text transform="translate(1076.54,1106.2) scale(1,1.035)" font-family="'Liberation Sans', Arial, Helvetica, sans-serif" font-size="25" font-weight="normal" text-anchor="middle" fill="#000">8000</text>
<text transform="translate(1186.03,1106.2) scale(1,1.035)" font-family="'Liberation Sans', Arial, Helvetica, sans-serif" font-size="25" font-weight="normal" text-anchor="middle" fill="#000">10,000</text>
<text transform="translate(1295.53,1106.2) scale(1,1.035)" font-family="'Liberation Sans', Arial, Helvetica, sans-serif" font-size="25" font-weight="normal" text-anchor="middle" fill="#000">12,000</text>
<text transform="translate(1405.02,1106.2) scale(1,1.035)" font-family="'Liberation Sans', Arial, Helvetica, sans-serif" font-size="25" font-weight="normal" text-anchor="middle" fill="#000">14,000</text>
<text transform="translate(1514.51,1106.2) scale(1,1.035)" font-family="'Liberation Sans', Arial, Helvetica, sans-serif" font-size="25" font-weight="normal" text-anchor="middle" fill="#000">16,000</text>
<text transform="translate(1624.01,1106.2) scale(1,1.035)" font-family="'Liberation Sans', Arial, Helvetica, sans-serif" font-size="25" font-weight="normal" text-anchor="middle" fill="#000">18,000</text>
<text transform="translate(1733.5,1106.2) scale(1,1.035)" font-family="'Liberation Sans', Arial, Helvetica, sans-serif" font-size="25" font-weight="normal" text-anchor="middle" fill="#000">20,000</text>
<text transform="translate(1332.5,1149.5) scale(1,1.035)" font-family="'Liberation Sans', Arial, Helvetica, sans-serif" font-size="25" font-weight="normal" text-anchor="middle" fill="#000">Mass (m/z)</text>
<line x1="914" y1="564.95" x2="1050.4" y2="564.95" stroke="#000" stroke-width="3.7"/>
<path d="M914.1 563.35 L914.6 563.68 L915.1 563.53 L915.6 562.87 L916.1 562.96 L916.6 563.65 L917.1 562.61 L917.6 563.59 L918.1 563.56 L918.6 563.16 L919.1 562.96 L919.6 562.93 L920.1 562.91 L920.6 563.13 L921.1 563.21 L921.6 563.26 L922.1 563.79 L922.6 563.55 L923.1 563.35 L923.6 563.79 L924.1 562.86 L924.6 562.79 L925.1 563.34 L925.6 562.65 L926.1 562.64 L926.6 563.22 L927.1 563.16 L927.6 563.7 L928.1 563.36 L928.6 563.22 L929.1 563.2 L929.6 562.9 L930.1 562.61 L930.6 562.83 L931.1 563.43 L931.6 562.84 L932.1 563.04 L932.6 562.6 L933.1 563.6 L933.6 562.79 L934.1 562.92 L934.6 563.66 L935.1 563.21 L935.6 563.62 L936.1 563.37 L936.6 563.49 L937.1 562.71 L937.6 563.25 L938.1 563.21 L938.6 563.65 L939.1 563.03 L939.6 563.32 L940.1 562.67 L940.6 563.07 L941.1 562.99 L941.6 562.78 L942.1 563.58 L942.6 563.06 L943.1 563.77 L943.6 563.31 L944.1 563.33 L944.6 563.37 L945.1 563.41 L945.6 562.78 L946.1 563.13 L946.6 562.89 L947.1 563.08 L947.6 562.72 L948.1 563.76 L948.6 562.86 L949.1 563.41 L949.6 562.96 L950.1 563.65 L950.6 563.39 L951.1 562.76 L951.6 563.61 L952.1 563.73 L952.6 563.68 L953.1 563.28 L953.6 562.77 L954.1 562.83 L954.6 563.71 L955.1 563.26 L955.6 562.82 L956.1 563.66 L956.6 563.37 L957.1 563.28 L957.6 563.05 L958.1 563.09 L958.6 562.89 L959.1 562.65 L959.6 563.65 L960.1 563.16 L960.6 563.26 L961.1 562.99 L961.6 563.5 L962.1 562.63 L962.6 563.05 L963.1 562.64 L963.6 562.75 L964.1 563.76 L964.6 563.39 L965.1 563.11 L965.6 563.23 L966.1 563.65 L966.6 563.01 L967.1 563.31 L967.6 563.42 L968.1 563.03 L968.6 563.22 L969.1 563.52 L969.6 563.69 L970.1 562.78 L970.6 563.72 L971.1 562.61 L971.6 563.5 L972.1 563.57 L972.6 562.76 L973.1 563.1 L973.6 563.58 L974.1 562.62 L974.6 563.35 L975.1 563.55 L975.6 563.22 L976.1 563.47 L976.6 562.87 L977.1 562.84 L977.6 563.04 L978.1 562.82 L978.6 563.02 L979.1 563.74 L979.6 563.29 L980.1 563.01 L980.6 562.93 L981.1 563.74 L981.6 563.13 L982.1 563.78 L982.6 563.22 L983.1 563.23 L983.6 563.68 L984.1 563.49 L984.6 563.3 L985.1 563.11 L985.6 563.65 L986.1 563.09 L986.6 563.71 L987.1 562.68 L987.6 563.12 L988.1 563.22 L988.6 563.74 L989.1 562.9 L989.6 563.57 L990.1 563.41 L990.6 563.46 L991.1 563.36 L991.6 563.77 L992.1 563 L992.6 563.08 L993.1 562.84 L993.6 562.66 L994.1 562.86 L994.6 563.7 L995.1 563.61 L995.6 562.73 L996.1 563.32 L996.6 563.18 L997.1 563.31 L997.6 563.39 L998.1 562.97 L998.6 563.75 L999.1 563.16 L999.6 563.35 L1000.1 563.36 L1000.6 562.82 L1001.1 562.67 L1001.6 563.09 L1002.1 563.52 L1002.6 563.58 L1003.1 563.48 L1003.6 562.74 L1004.1 563.7 L1004.6 563.56 L1005.1 563.65 L1005.6 563.23 L1006.1 563.7 L1006.6 562.66 L1007.1 562.64 L1007.6 562.62 L1008.1 562.9 L1008.6 562.9 L1009.1 562.83 L1009.6 563.28 L1010.1 562.65 L1010.6 563.31 L1011.1 562.8 L1011.6 563.41 L1012.1 562.63 L1012.6 562.97 L1013.1 563.73 L1013.6 563.25 L1014.1 563.57 L1014.6 563.39 L1015.1 563.33 L1015.6 562.83 L1016.1 563.29 L1016.6 562.65 L1017.1 563.56 L1017.6 563.75 L1018.1 563.62 L1018.6 562.66 L1019.1 563.01 L1019.6 562.98 L1020.1 562.74 L1020.6 563.35 L1021.1 563.56 L1021.6 562.98 L1022.1 563.64 L1022.6 563.56 L1023.1 562.75 L1023.6 563.52 L1024.1 563.66 L1024.6 562.84 L1025.1 563.29 L1025.6 563.37 L1026.1 563.33 L1026.6 562.72 L1027.1 563.39 L1027.6 563.36 L1028.1 563.59 L1028.6 563.56 L1029.1 562.99 L1029.6 563.47 L1030.1 563.64 L1030.6 563.67 L1031.1 562.79 L1031.6 562.63 L1032.1 563.38 L1032.6 562.86 L1033.1 563.28 L1033.6 563.73 L1034.1 563.06 L1034.6 562.9 L1035.1 563.15 L1035.6 563.39 L1036.1 562.72 L1036.6 563.06 L1037.1 562.76 L1037.6 563.39 L1038.1 563.6 L1038.6 563.05 L1039.1 563.05 L1039.6 563.25 L1040.1 562.86 L1040.6 562.9 L1041.1 563 L1041.6 563.15 L1042.1 562.7 L1042.6 563.5 L1043.1 563.29 L1043.6 562.96 L1044.1 562.69 L1044.6 563.52 L1045.1 562.76 L1045.6 562.76 L1046.1 562.76 L1046.6 562.7 L1047.1 563.69 L1047.6 562.92 L1048.1 562.97 L1048.6 563.6 L1049.1 563.34 L1049.6 562.82 L1050.1 563.12" fill="none" stroke="#000" stroke-width="1.4" stroke-linejoin="round" />
<path d="M914.1 563.29 L914.6 563.04 L915.1 563.21 L915.6 562.9 L916.1 563.21 L916.6 563.24 L917.1 563.26 L917.6 563.19 L918.1 563.04 L918.6 562.88 L919.1 563.11 L919.6 563.23 L920.1 562.95 L920.6 562.98 L921.1 563.12 L921.6 563.22 L922.1 563.3 L922.6 562.91 L923.1 562.94 L923.6 563.25 L924.1 563.17 L924.6 563.21 L925.1 563.35 L925.6 563.32 L926.1 563.27 L926.6 563.24 L927.1 563.05 L927.6 563.17 L928.1 562.94 L928.6 563.23 L929.1 563.23 L929.6 563.21 L930.1 563.07 L930.6 563.04 L931.1 563.06 L931.6 562.87 L932.1 563.27 L932.6 563.12 L933.1 563.04 L933.6 563.12 L934.1 563.21 L934.6 563.04 L935.1 563.27 L935.6 563.31 L936.1 563.04 L936.6 562.92 L937.1 563.23 L937.6 563.35 L938.1 562.92 L938.6 563.21 L939.1 563.26 L939.6 563.31 L940.1 562.91 L940.6 562.9 L941.1 563.34 L941.6 562.91 L942.1 562.94 L942.6 563.14 L943.1 563.07 L943.6 563.23 L944.1 562.95 L944.6 563.31 L945.1 562.96 L945.6 563.23 L946.1 562.88 L946.6 563.09 L947.1 562.87 L947.6 563.01 L948.1 563.01 L948.6 563.21 L949.1 563.08 L949.6 562.88 L950.1 563.35 L950.6 563.29 L951.1 563.31 L951.6 562.97 L952.1 563.05 L952.6 562.96 L953.1 562.91 L953.6 562.87 L954.1 563.1 L954.6 562.91 L955.1 562.94 L955.6 563.28 L956.1 563.09 L956.6 562.94 L957.1 563.18 L957.6 562.98 L958.1 563.11 L958.6 562.99 L959.1 563.11 L959.6 563.16 L960.1 563.12 L960.6 563.05 L961.1 563.25 L961.6 563.29 L962.1 562.94 L962.6 562.92 L963.1 562.91 L963.6 563.34 L964.1 563.32 L964.6 562.97 L965.1 563.33 L965.6 562.95 L966.1 563.1 L966.6 563.1 L967.1 563.31 L967.6 562.87 L968.1 563.01 L968.6 563.15 L969.1 562.88 L969.6 562.97 L970.1 563.08 L970.6 563.29 L971.1 563.23 L971.6 563.26 L972.1 563.23 L972.6 563.2 L973.1 563.27 L973.6 563.19 L974.1 563.22 L974.6 563 L975.1 562.93 L975.6 563.23 L976.1 562.93 L976.6 563.31 L977.1 563.15 L977.6 563.01 L978.1 563.32 L978.6 562.93 L979.1 563.11 L979.6 562.9 L980.1 563.33 L980.6 563.14 L981.1 563.25 L981.6 562.99 L982.1 563.25 L982.6 563.2 L983.1 563.17 L983.6 563.33 L984.1 563.07 L984.6 563.06 L985.1 563.2 L985.6 563.27 L986.1 563.02 L986.6 563.18 L987.1 562.95 L987.6 563.13 L988.1 563.23 L988.6 562.88 L989.1 563.21 L989.6 562.86 L990.1 563.33 L990.6 563.08 L991.1 563.05 L991.6 563.21 L992.1 563.11 L992.6 563.22 L993.1 562.89 L993.6 563.13 L994.1 563.13 L994.6 563.32 L995.1 562.87 L995.6 563.08 L996.1 563.17 L996.6 563.13 L997.1 562.89 L997.6 563.15 L998.1 562.96 L998.6 562.95 L999.1 563.29 L999.6 562.95 L1000.1 563.08 L1000.6 563.23 L1001.1 563.2 L1001.6 563.13 L1002.1 563.25 L1002.6 563.08 L1003.1 563.16 L1003.6 563.26 L1004.1 563.19 L1004.6 563.17 L1005.1 563.05 L1005.6 563.13 L1006.1 563.05 L1006.6 563.22 L1007.1 563.04 L1007.6 563.08 L1008.1 563.23 L1008.6 563.1 L1009.1 563.02 L1009.6 563.26 L1010.1 563.04 L1010.6 563.27 L1011.1 563.24 L1011.6 563.07 L1012.1 563.21 L1012.6 562.87 L1013.1 563.04 L1013.6 563.28 L1014.1 563.14 L1014.6 563.13 L1015.1 563.18 L1015.6 563.19 L1016.1 563.14 L1016.6 563.06 L1017.1 562.94 L1017.6 563 L1018.1 563 L1018.6 563.07 L1019.1 563.35 L1019.6 563.03 L1020.1 563.07 L1020.6 563.04 L1021.1 563.14 L1021.6 563.32 L1022.1 563.29 L1022.6 563.04 L1023.1 562.98 L1023.6 563.29 L1024.1 563.1 L1024.6 563.19 L1025.1 562.89 L1025.6 563.28 L1026.1 563.01 L1026.6 563.1 L1027.1 562.95 L1027.6 563.06 L1028.1 563.26 L1028.6 563.26 L1029.1 563.09 L1029.6 563.23 L1030.1 563.08 L1030.6 563.04 L1031.1 563.12 L1031.6 562.95 L1032.1 563.01 L1032.6 563.2 L1033.1 563.24 L1033.6 562.88 L1034.1 563.22 L1034.6 563.26 L1035.1 563.07 L1035.6 562.88 L1036.1 563.19 L1036.6 562.97 L1037.1 563.17 L1037.6 563.04 L1038.1 563.17 L1038.6 562.98 L1039.1 563.09 L1039.6 563.11 L1040.1 563.17 L1040.6 562.95 L1041.1 563.33 L1041.6 562.99 L1042.1 563 L1042.6 562.98 L1043.1 562.88 L1043.6 563.06 L1044.1 563.24 L1044.6 563.2 L1045.1 562.95 L1045.6 562.92 L1046.1 563.01 L1046.6 563.23 L1047.1 563.09 L1047.6 563.31 L1048.1 563.18 L1048.6 563.16 L1049.1 563.23 L1049.6 563.23 L1050.1 563.02 L1050.6 562.98 L1051.1 563.07 L1051.6 563.09 L1052.1 562.92 L1052.6 563.07 L1053.1 563.17 L1053.6 562.92 L1054.1 562.92 L1054.6 562.94 L1055.1 562.99 L1055.6 563.33 L1056.1 562.86 L1056.6 562.94 L1057.1 562.93 L1057.6 563.09 L1058.1 562.86 L1058.6 563.08 L1059.1 562.93 L1059.6 562.98 L1060.1 563.25 L1060.6 562.94 L1061.1 563.16 L1061.6 563.05 L1062.1 563.06 L1062.6 563.26 L1063.1 562.93 L1063.6 563.31 L1064.1 563.3 L1064.6 563.18 L1065.1 562.87 L1065.6 563.18 L1066.1 563.15 L1066.6 563.24 L1067.1 562.96 L1067.6 563.33 L1068.1 563.29 L1068.6 562.91 L1069.1 563.01 L1069.6 562.87 L1070.1 563.27 L1070.6 563.31 L1071.1 563.34 L1071.6 563.16 L1072.1 563.18 L1072.6 563.19 L1073.1 563.14 L1073.6 563.33 L1074.1 563.15 L1074.6 563.02 L1075.1 563.11 L1075.6 562.86 L1076.1 563.21 L1076.6 563.2 L1077.1 563.06 L1077.6 563.28 L1078.1 563.23 L1078.6 563.02 L1079.1 562.89 L1079.6 562.92 L1080.1 562.94 L1080.6 563 L1081.1 563.07 L1081.6 563.31 L1082.1 562.99 L1082.6 563.3 L1083.1 563.19 L1083.6 563.28 L1084.1 563.05 L1084.6 562.85 L1085.1 563.24 L1085.6 562.97 L1086.1 562.92 L1086.6 563.25 L1087.1 563.19 L1087.6 562.96 L1088.1 562.98 L1088.6 563.32 L1089.1 562.98 L1089.6 563.2 L1090.1 562.91 L1090.6 563.26 L1091.1 562.91 L1091.6 563.11 L1092.1 562.87 L1092.6 563.13 L1093.1 563.27 L1093.6 562.89 L1094.1 562.99 L1094.6 563.23 L1095.1 563.15 L1095.6 563.01 L1096.1 563.16 L1096.6 563.08 L1097.1 563.28 L1097.6 563 L1098.1 563.23 L1098.6 563.17 L1099.1 563.22 L1099.6 563.04 L1100.1 563.21 L1100.6 563.2 L1101.1 563.04 L1101.6 562.86 L1102.1 563.33 L1102.6 563.21 L1103.1 562.95 L1103.6 563.22 L1104.1 562.99 L1104.6 563.08 L1105.1 563.28 L1105.6 563.07 L1106.1 562.99 L1106.6 563 L1107.1 562.89 L1107.6 562.96 L1108.1 562.99 L1108.6 562.94 L1109.1 562.88 L1109.6 563.08 L1110.1 562.96 L1110.6 563.22 L1111.1 563.31 L1111.6 562.99 L1112.1 563.14 L1112.6 563.1 L1113.1 562.89 L1113.6 562.91 L1114.1 563.29 L1114.6 563.09 L1115.1 563.25 L1115.6 562.88 L1116.1 563.15 L1116.6 563.28 L1117.1 563.28 L1117.6 562.85 L1118.1 563.11 L1118.6 563.03 L1119.1 563.23 L1119.6 562.89 L1120.1 562.98 L1120.6 563.26 L1121.1 563.08 L1121.6 563.08 L1122.1 563.33 L1122.6 563.01 L1123.1 562.87 L1123.6 563.05 L1124.1 562.93 L1124.6 562.89 L1125.1 563.13 L1125.6 563.33 L1126.1 563.14 L1126.6 563.17 L1127.1 563.01 L1127.6 563.14 L1128.1 563.23 L1128.6 563.14 L1129.1 563.25 L1129.6 563.13 L1130.1 562.95 L1130.6 563.14 L1131.1 563.1 L1131.6 562.93 L1132.1 563.16 L1132.6 563.26 L1133.1 562.92 L1133.6 563.12 L1134.1 563.22 L1134.6 563.05 L1135.1 562.99 L1135.6 563.04 L1136.1 563.12 L1136.6 563.19 L1137.1 563.13 L1137.6 562.9 L1138.1 563.26 L1138.6 563.31 L1139.1 562.9 L1139.6 562.97 L1140.1 562.94 L1140.6 563.27 L1141.1 563.31 L1141.6 562.87 L1142.1 563.02 L1142.6 562.95 L1143.1 563.08 L1143.6 563.31 L1144.1 562.89 L1144.6 562.94 L1145.1 563.09 L1145.6 563.11 L1146.1 563.22 L1146.6 563.07 L1147.1 562.92 L1147.6 563.03 L1148.1 563.34 L1148.6 563.23 L1149.1 562.91 L1149.6 563.25 L1150.1 563.01 L1150.6 563.24 L1151.1 562.86 L1151.6 563.29 L1152.1 562.93 L1152.6 563.08 L1153.1 563.18 L1153.6 563.1 L1154.1 562.93 L1154.6 562.92 L1155.1 562.99 L1155.6 562.88 L1156.1 562.96 L1156.6 562.92 L1157.1 563.08 L1157.6 563.03 L1158.1 563.14 L1158.6 562.99 L1159.1 562.87 L1159.6 563.02" fill="none" stroke="#000" stroke-width="2.2" stroke-linejoin="round" />
<path d="M1160 561.95 L1160.5 561.94 L1161 561.73 L1161.5 561.92 L1162 561.6 L1162.5 561.94 L1163 560.99 L1163.5 561.67 L1164 559.86 L1164.5 561.97 L1165 561.81 L1165.5 561.54 L1166 561.38 L1166.5 561 L1167 561.86 L1167.5 561.19 L1168 561.81 L1168.5 561.95 L1169 560.6 L1169.5 561.44 L1170 562 L1170.5 561.59 L1171 560.69 L1171.5 560.26 L1172 561.47 L1172.5 561.6 L1173 561.48 L1173.5 561.54 L1174 560.81 L1174.5 560.64 L1175 561.42 L1175.5 561.85 L1176 561.51 L1176.5 561.63 L1177 561.28 L1177.5 560.21 L1178 561.8 L1178.5 558.92 L1179 561.55 L1179.5 561.81 L1180 561.87 L1180.5 560.7 L1181 561.98 L1181.5 560.76 L1182 561.48 L1182.5 561.33 L1183 561.06 L1183.5 561.79 L1184 561.6 L1184.5 560.38 L1185 561.56 L1185.5 562.1 L1186 561.88 L1186.5 562.12 L1187 560.47 L1187.5 562.19 L1188 561.1 L1188.5 560.71 L1189 561.88 L1189.5 561.86 L1190 560.92 L1190.5 562.09 L1191 562.01 L1191.5 562.06 L1192 561.03 L1192.5 560.78 L1193 562.17 L1193.5 561.17 L1194 560.73 L1194.5 562.02 L1195 562.2 L1195.5 561.64 L1196 562.21 L1196.5 561.72 L1197 561.8 L1197.5 561.65 L1198 562.27 L1198.5 561.43 L1199 560.02 L1199.5 561.42 L1200 561.91 L1200.5 561.58 L1201 561.63 L1201.5 561.31 L1202 561.91 L1202.5 562.31 L1203 561.48 L1203.5 561.5 L1204 561.93 L1204.5 560.5 L1205 561.08 L1205.5 562 L1206 562.24 L1206.5 562.21 L1207 560.82 L1207.5 561.97 L1208 561.68 L1208.5 561.9 L1209 562.32 L1209.5 561.62 L1210 561.85 L1210.5 560.84 L1211 561.38 L1211.5 561.7 L1212 561.14 L1212.5 562.21 L1213 561.39 L1213.5 561.99 L1214 561.59 L1214.5 561.88 L1215 562.27 L1215.5 560.25 L1216 561.74 L1216.5 561.97 L1217 562.33 L1217.5 562.13 L1218 561.36 L1218.5 561.99 L1219 560.91 L1219.5 562.17 L1220 562.4 L1220.5 562.31 L1221 561.28 L1221.5 562.14 L1222 561.72 L1222.5 561.47 L1223 561.67 L1223.5 560.63 L1224 561.75 L1224.5 560.2 L1225 562.28 L1225.5 560.9 L1226 561.63 L1226.5 562.32 L1227 562.03 L1227.5 561.79 L1228 562.05 L1228.5 562.16 L1229 562.18 L1229.5 562.31 L1230 562.31 L1230.5 561.46 L1231 562.4 L1231.5 561.68 L1232 561.61 L1232.5 562.22 L1233 561.86 L1233.5 561.53 L1234 562.27 L1234.5 561.54 L1235 561.48 L1235.5 560.5 L1236 560.74 L1236.5 562.24 L1237 561.81 L1237.5 562.32 L1238 562.34 L1238.5 561.15 L1239 561.34 L1239.5 561.56 L1240 562.38 L1240.5 561.27 L1241 562.27 L1241.5 561.87 L1242 562.2 L1242.5 561.82 L1243 562.4 L1243.5 562.03 L1244 562 L1244.5 560.69 L1245 561.7 L1245.5 561.86 L1246 562.31 L1246.5 562.37 L1247 561.59 L1247.5 562.06 L1248 561.86 L1248.5 562.28 L1249 561.47 L1249.5 561.31 L1250 561.47 L1250.5 561.92 L1251 561.55 L1251.5 561.42 L1252 562.36 L1252.5 561.39 L1253 562.15 L1253.5 561.69 L1254 561.48 L1254.5 562.1 L1255 562.11 L1255.5 561.87 L1256 561.93 L1256.5 562.16 L1257 562.41 L1257.5 562.01 L1258 562.05 L1258.5 562.39 L1259 562.42 L1259.5 561.99 L1260 562.11 L1260.5 561.57 L1261 562.27 L1261.5 561.75 L1262 561.5 L1262.5 561.98 L1263 560.67 L1263.5 561.8 L1264 561.81 L1264.5 562.2 L1265 561 L1265.5 559.43 L1266 560.93 L1266.5 561.69 L1267 561.93 L1267.5 561.84 L1268 561.88 L1268.5 562.39 L1269 562.1 L1269.5 561.95 L1270 562.39 L1270.5 561.66 L1271 560.71 L1271.5 561.96 L1272 561.66 L1272.5 561.72 L1273 562.28 L1273.5 561.77 L1274 562.17 L1274.5 561.76 L1275 561.76 L1275.5 561.26 L1276 562.43 L1276.5 562.08 L1277 561.68 L1277.5 562.35 L1278 561.66 L1278.5 562.44 L1279 562.39 L1279.5 562.02 L1280 561.66 L1280.5 560.44 L1281 562.28 L1281.5 562.34 L1282 562.4 L1282.5 561.79 L1283 561.69 L1283.5 562.16 L1284 562.12 L1284.5 561.85 L1285 562.19 L1285.5 562.17 L1286 562.15 L1286.5 560.96 L1287 562.19 L1287.5 561.15 L1288 561.75 L1288.5 561.98 L1289 562.18 L1289.5 562.14 L1290 562.42 L1290.5 562.43 L1291 562.26 L1291.5 561.14 L1292 562.3 L1292.5 560.84 L1293 562.2 L1293.5 561.94 L1294 561.95 L1294.5 562.31 L1295 562.27 L1295.5 561.43 L1296 561.2 L1296.5 561.7 L1297 560.99 L1297.5 561.77 L1298 559.73 L1298.5 561.71 L1299 562 L1299.5 561.49 L1300 562.26 L1300.5 562.25 L1301 562.43 L1301.5 562.07 L1302 561.21 L1302.5 562.34 L1303 560.83 L1303.5 561.78 L1304 562.06 L1304.5 562.3 L1305 561.88 L1305.5 562.45 L1306 561.23 L1306.5 561.06 L1307 562.27 L1307.5 561.85 L1308 562.23 L1308.5 561.92 L1309 562.29 L1309.5 561.5 L1310 562.4 L1310.5 560.74 L1311 561.67 L1311.5 561.69 L1312 561.86 L1312.5 562.2 L1313 561.77 L1313.5 561.9 L1314 561.99 L1314.5 561.86 L1315 561.87 L1315.5 562.22 L1316 561.69 L1316.5 561.39 L1317 561.99 L1317.5 560.9 L1318 561.96 L1318.5 562.04 L1319 562.15 L1319.5 561.16 L1320 561.66 L1320.5 561.68 L1321 561.88 L1321.5 561.67 L1322 561.96 L1322.5 561.82 L1323 562.42 L1323.5 561.36 L1324 560.35 L1324.5 560.79 L1325 561.71 L1325.5 562.31 L1326 562.34 L1326.5 562.38 L1327 562.31 L1327.5 562.35 L1328 561.7 L1328.5 560.99 L1329 562.5 L1329.5 562 L1330 562.41 L1330.5 562.34 L1331 561.86 L1331.5 562.05 L1332 561.94 L1332.5 562.26 L1333 560.54 L1333.5 561.07 L1334 560.88 L1334.5 561.48 L1335 562.29 L1335.5 560.74 L1336 561.96 L1336.5 562.35 L1337 562.36 L1337.5 562.13 L1338 562.36 L1338.5 562.12 L1339 561.99 L1339.5 562.23 L1340 562.2 L1340.5 561.67 L1341 562.47 L1341.5 561.11 L1342 562.38 L1342.5 561.78 L1343 562.26 L1343.5 562.16 L1344 562.26 L1344.5 562.47 L1345 562.42 L1345.5 562.3 L1346 561.98 L1346.5 561.76 L1347 561.58 L1347.5 562.49 L1348 561.99 L1348.5 562.18 L1349 562.05 L1349.5 562.4 L1350 562.02 L1350.5 560.39 L1351 561.98 L1351.5 560.94 L1352 562.01 L1352.5 561.13 L1353 562.49 L1353.5 561.79 L1354 562.07 L1354.5 561.59 L1355 561.99 L1355.5 561.29 L1356 562.3 L1356.5 562.52 L1357 561.79 L1357.5 560.83 L1358 561.63 L1358.5 562.43 L1359 562.28 L1359.5 562.1 L1360 562.1 L1360.5 561.17 L1361 562.49 L1361.5 561.87 L1362 562.48 L1362.5 562.46 L1363 560.92 L1363.5 561.94 L1364 562.44 L1364.5 562.42 L1365 562.23 L1365.5 561.81 L1366 562.19 L1366.5 561.97 L1367 561.41 L1367.5 561.9 L1368 562.16 L1368.5 562.5 L1369 561.84 L1369.5 562.28 L1370 562.51 L1370.5 562.19 L1371 562.13 L1371.5 562.36 L1372 561.29 L1372.5 561.75 L1373 561.43 L1373.5 561.04 L1374 562.31 L1374.5 562.39 L1375 562.28 L1375.5 561.99 L1376 562.5 L1376.5 562.54 L1377 562.48 L1377.5 561.26 L1378 562.44 L1378.5 561.96 L1379 562.17 L1379.5 562.39 L1380 562.11 L1380.5 561.93 L1381 562.21 L1381.5 561.92 L1382 561.75 L1382.5 561.77 L1383 561.6 L1383.5 562.45 L1384 562.43 L1384.5 561.99 L1385 561.62 L1385.5 562.4 L1386 562.19 L1386.5 562.3 L1387 561.37 L1387.5 561.95 L1388 562.53 L1388.5 561.95 L1389 561.88 L1389.5 562.5 L1390 562.42 L1390.5 561.99 L1391 562.28 L1391.5 562.38 L1392 562.14 L1392.5 561.37 L1393 562.53 L1393.5 561.55 L1394 561.98 L1394.5 561.58 L1395 561.75 L1395.5 561.68 L1396 562.4 L1396.5 561.54 L1397 562.12 L1397.5 561.71 L1398 562.32 L1398.5 562.1 L1399 562.33 L1399.5 562.37 L1400 562.13 L1400.5 561.77 L1401 561.75 L1401.5 561.77 L1402 561.65 L1402.5 562.12 L1403 561.54 L1403.5 562.47 L1404 562.35 L1404.5 562.31 L1405 561.96 L1405.5 562.32 L1406 561.95 L1406.5 561.6 L1407 562.12 L1407.5 562.42 L1408 561.95 L1408.5 561.86 L1409 562.34 L1409.5 560.94 L1410 562.12 L1410.5 562.26 L1411 561.92 L1411.5 562.44 L1412 561.78 L1412.5 562.25 L1413 561.82 L1413.5 561.23 L1414 562.27 L1414.5 561.76 L1415 562.41 L1415.5 562.29 L1416 562.11 L1416.5 560.44 L1417 562.25 L1417.5 561.96 L1418 562.46 L1418.5 562.07 L1419 562.16 L1419.5 562.36 L1420 562.51 L1420.5 560.72 L1421 562.11 L1421.5 561.67 L1422 562.54 L1422.5 562.49 L1423 562.1 L1423.5 561.99 L1424 561.75 L1424.5 562.36 L1425 562.19 L1425.5 562.23 L1426 560.74 L1426.5 562.2 L1427 561.67 L1427.5 562.31 L1428 561.89 L1428.5 561.59 L1429 562.47 L1429.5 561.61 L1430 561.81 L1430.5 561.65 L1431 561.55 L1431.5 562.03 L1432 561.78 L1432.5 562.2 L1433 561.47 L1433.5 561.93 L1434 562.52 L1434.5 561.74 L1435 562.53 L1435.5 562.47 L1436 562.24 L1436.5 562.57 L1437 561.54 L1437.5 561.48 L1438 562.42 L1438.5 562 L1439 562.47 L1439.5 562.05 L1440 562.55 L1440.5 562.09 L1441 561.56 L1441.5 561.88 L1442 562.2 L1442.5 562.19 L1443 562.48 L1443.5 560.92 L1444 562.11 L1444.5 562.45 L1445 561.59 L1445.5 562.41 L1446 562.43 L1446.5 561.69 L1447 561.68 L1447.5 561.43 L1448 562.58 L1448.5 562.46 L1449 561.56 L1449.5 562.03 L1450 560.86 L1450.5 562.14 L1451 561.79 L1451.5 562.26 L1452 561.98 L1452.5 561.76 L1453 561.82 L1453.5 562.48 L1454 562.44 L1454.5 562.06 L1455 562.36 L1455.5 562.38 L1456 562.14 L1456.5 561.81 L1457 562.6 L1457.5 562.18 L1458 561.81 L1458.5 561.83 L1459 562.33 L1459.5 561.47 L1460 561.79 L1460.5 561.61 L1461 562.54 L1461.5 562.4 L1462 561.38 L1462.5 561.71 L1463 562.23 L1463.5 562.09 L1464 562.53 L1464.5 562.46 L1465 561.59 L1465.5 562.46 L1466 561.95 L1466.5 561.85 L1467 562.47 L1467.5 562.49 L1468 561.82 L1468.5 562.07 L1469 562.36 L1469.5 562.33 L1470 562.29 L1470.5 562.31 L1471 562.34 L1471.5 561.58 L1472 562.51 L1472.5 562.45 L1473 562.35 L1473.5 561.37 L1474 562.54 L1474.5 562.25 L1475 561.73 L1475.5 561.35 L1476 561.09 L1476.5 562.02 L1477 562.13 L1477.5 561.96 L1478 562.12 L1478.5 562.65 L1479 562.02 L1479.5 562.35 L1480 560.98 L1480.5 561.17 L1481 560.98 L1481.5 562.31 L1482 561.62 L1482.5 562.19 L1483 561.85 L1483.5 560.39 L1484 561.8 L1484.5 562.76 L1485 562.02 L1485.5 562.67 L1486 561.41 L1486.5 561.72 L1487 562.73 L1487.5 562.17 L1488 562.69 L1488.5 562.16 L1489 561.59 L1489.5 561.99 L1490 562.77 L1490.5 562.05 L1491 562.32 L1491.5 562.6 L1492 562.24 L1492.5 562.04 L1493 562.64 L1493.5 562 L1494 562.75 L1494.5 561.81 L1495 562.36 L1495.5 562.69 L1496 562.27 L1496.5 562.12 L1497 562.07 L1497.5 561.94 L1498 561.38 L1498.5 561.45 L1499 562.4 L1499.5 562.41 L1500 562.64 L1500.5 562.36 L1501 562.68 L1501.5 562.69 L1502 562.49 L1502.5 562.51 L1503 562.62 L1503.5 561.81 L1504 562.6 L1504.5 562 L1505 562.79 L1505.5 562.29 L1506 562.82 L1506.5 562.6 L1507 562.01 L1507.5 562.39 L1508 562.31 L1508.5 562.44 L1509 561.85 L1509.5 562.38 L1510 562.69 L1510.5 562.01 L1511 561.98 L1511.5 561.99 L1512 562.51 L1512.5 561.22 L1513 561.3 L1513.5 561.96 L1514 562.29 L1514.5 562.82 L1515 562.79 L1515.5 562.87 L1516 562.03 L1516.5 562.52 L1517 562.65 L1517.5 562.8 L1518 562.21 L1518.5 562.89 L1519 561.52 L1519.5 562.51 L1520 562.79 L1520.5 561.79 L1521 562.2 L1521.5 562.15 L1522 562.39 L1522.5 562.64 L1523 562.93 L1523.5 562.34 L1524 562.76 L1524.5 562.66 L1525 562.68 L1525.5 562.52 L1526 562.59 L1526.5 562.63 L1527 562.44 L1527.5 562.82 L1528 562.93 L1528.5 562.37 L1529 561.4 L1529.5 562.49 L1530 562.98 L1530.5 562.9 L1531 562.49 L1531.5 562.46 L1532 562.41 L1532.5 562.78 L1533 562.76 L1533.5 562.57 L1534 562.78 L1534.5 562.9 L1535 562.3 L1535.5 562.04 L1536 562.73 L1536.5 561.96 L1537 561.64 L1537.5 562.15 L1538 562.89 L1538.5 562.61 L1539 561.43 L1539.5 562.32 L1540 562.35 L1540.5 562.04 L1541 561.69 L1541.5 562.6 L1542 562.3 L1542.5 562.66 L1543 562.82 L1543.5 562.54 L1544 562.66 L1544.5 562.7 L1545 562.99 L1545.5 562.99 L1546 562.81 L1546.5 562.22 L1547 561.88 L1547.5 562.39 L1548 562.65 L1548.5 562.88 L1549 563.04 L1549.5 562.77 L1550 562.85 L1550.5 562.09 L1551 562.66 L1551.5 561.34 L1552 561.99 L1552.5 562.51 L1553 562.89 L1553.5 563.05 L1554 562.29 L1554.5 562.41 L1555 563.03 L1555.5 562.24 L1556 563.01 L1556.5 562.88 L1557 563.07 L1557.5 562.87 L1558 562.21 L1558.5 562.6 L1559 562.62 L1559.5 562.39 L1560 561.39 L1560.5 563.09 L1561 561.6 L1561.5 563.15 L1562 562.52 L1562.5 562.9 L1563 562.24 L1563.5 562.5 L1564 561.34 L1564.5 562.31 L1565 563.11 L1565.5 562.25 L1566 562.99 L1566.5 562.65 L1567 563.15 L1567.5 562.45 L1568 562.63 L1568.5 563.19 L1569 563.17 L1569.5 563.13 L1570 562.85 L1570.5 562.05 L1571 563.2 L1571.5 562.53 L1572 562.93 L1572.5 562.78 L1573 562.83 L1573.5 563.14 L1574 562.82 L1574.5 563.21 L1575 562.23 L1575.5 562.45 L1576 562.76 L1576.5 562.95 L1577 563.01 L1577.5 562.52 L1578 562.85 L1578.5 563.23 L1579 561.98 L1579.5 562.85 L1580 563.04 L1580.5 562.82 L1581 563.01 L1581.5 562.75 L1582 563.22 L1582.5 563.17 L1583 562.1 L1583.5 563.17 L1584 563.1 L1584.5 563.01 L1585 562.31 L1585.5 563.07 L1586 563.26 L1586.5 563.22 L1587 562.62 L1587.5 562.92 L1588 562.58 L1588.5 563.16 L1589 562.53 L1589.5 562.89 L1590 563 L1590.5 562.67 L1591 563.08 L1591.5 563.13 L1592 563.18 L1592.5 562.7 L1593 562.03 L1593.5 562.83 L1594 562.73 L1594.5 562.69 L1595 562.83 L1595.5 562.84 L1596 563.15 L1596.5 562.82 L1597 563.26 L1597.5 563.1 L1598 562.92 L1598.5 563.27 L1599 562.4 L1599.5 563.16 L1600 562.98 L1600.5 563.31 L1601 562.83 L1601.5 563.2 L1602 562.86 L1602.5 562.89 L1603 563.24 L1603.5 562.73 L1604 563.08 L1604.5 563.26 L1605 562.79 L1605.5 562.91 L1606 563.09 L1606.5 562.16 L1607 563.16 L1607.5 563.09 L1608 563.07 L1608.5 563.3 L1609 563.03 L1609.5 563.29 L1610 562.25 L1610.5 563.28 L1611 562.6 L1611.5 563.25 L1612 563.07 L1612.5 562.61 L1613 563.34 L1613.5 563.38 L1614 563.28 L1614.5 562.22 L1615 562.93 L1615.5 563.21 L1616 563.19 L1616.5 563.29 L1617 563.31 L1617.5 563.21 L1618 562.73 L1618.5 562.93 L1619 563.28 L1619.5 563.37 L1620 563.24 L1620.5 563.13 L1621 562.99 L1621.5 563.43 L1622 562.81 L1622.5 562.88 L1623 562.62 L1623.5 563 L1624 563.22 L1624.5 563.04 L1625 562.67 L1625.5 562.52 L1626 562.77 L1626.5 563.26 L1627 563.31 L1627.5 563.2 L1628 563.44 L1628.5 562.32 L1629 563.22 L1629.5 562.72 L1630 563.14 L1630.5 563.28 L1631 562.87 L1631.5 562.75 L1632 562.96 L1632.5 563.51 L1633 563.19 L1633.5 562.56 L1634 562.01 L1634.5 563.09 L1635 563.02 L1635.5 563.28 L1636 562.42 L1636.5 562.86 L1637 563.27 L1637.5 563.11 L1638 563.35 L1638.5 562.98 L1639 563.36 L1639.5 562.97 L1640 563.48 L1640.5 562.88 L1641 562.88 L1641.5 563.5 L1642 562.78 L1642.5 563.47 L1643 563.52 L1643.5 563.07 L1644 563.41 L1644.5 563.15 L1645 562.86 L1645.5 563.23 L1646 563.39 L1646.5 563.43 L1647 562.39 L1647.5 563.53 L1648 563.24 L1648.5 562.22 L1649 563.55 L1649.5 562.31 L1650 563.24 L1650.5 563.24 L1651 563.13 L1651.5 562.61 L1652 563.23 L1652.5 563.47 L1653 563.17 L1653.5 563.11 L1654 563.27 L1654.5 562.4 L1655 563.16 L1655.5 563.23 L1656 563.46 L1656.5 563.06 L1657 562.97 L1657.5 562.68 L1658 563.23 L1658.5 562.68 L1659 562.98 L1659.5 563.02 L1660 562.71 L1660.5 562.99 L1661 563.15 L1661.5 563.52 L1662 562.87 L1662.5 562.86 L1663 563.09 L1663.5 563.25 L1664 562.4 L1664.5 563.57 L1665 563.27 L1665.5 563.19 L1666 562.66 L1666.5 563.36 L1667 562.97 L1667.5 563.42 L1668 562.89 L1668.5 563.35 L1669 563.21 L1669.5 563.08 L1670 563.54 L1670.5 563.03 L1671 563.42 L1671.5 563.22 L1672 563.46 L1672.5 563.56 L1673 563.01 L1673.5 563.25 L1674 562.8 L1674.5 563.41 L1675 563.15 L1675.5 563.38 L1676 563.08 L1676.5 563.33 L1677 563.12 L1677.5 563.14 L1678 563.07 L1678.5 562.49 L1679 563.09 L1679.5 563.25 L1680 563.47 L1680.5 562.89 L1681 562.93 L1681.5 563.02 L1682 563.44 L1682.5 563.43 L1683 562.43 L1683.5 563.24 L1684 563.01 L1684.5 563.07 L1685 563.28 L1685.5 563.59 L1686 562.83 L1686.5 562.67 L1687 563.18 L1687.5 563.5 L1688 563.53 L1688.5 562.9 L1689 563.4 L1689.5 563.11 L1690 562.7 L1690.5 563.05 L1691 563.24 L1691.5 563.45 L1692 562.66 L1692.5 563.47 L1693 563.58 L1693.5 562.48 L1694 563.45 L1694.5 563.22 L1695 563.26 L1695.5 563.03 L1696 563.06 L1696.5 563.02 L1697 563.35 L1697.5 563.32 L1698 563.55 L1698.5 563.63 L1699 563.14 L1699.5 563.35 L1700 562.59 L1700.5 563.42 L1701 563.44 L1701.5 563.5 L1702 563.49 L1702.5 563.02 L1703 563.34 L1703.5 563.55 L1704 563.31 L1704.5 562.95 L1705 563.04 L1705.5 563.46 L1706 563.16 L1706.5 563.62 L1707 563.11 L1707.5 563.12 L1708 562.86 L1708.5 563.5 L1709 563.1 L1709.5 563.13 L1710 563.49 L1710.5 563.08 L1711 562.92 L1711.5 563.05 L1712 563.22 L1712.5 562.72 L1713 563.4 L1713.5 563.45 L1714 563.54 L1714.5 563.54 L1715 563.16 L1715.5 563.4 L1716 562.78 L1716.5 563.6 L1717 563.16 L1717.5 563.61 L1718 563.53 L1718.5 562.02 L1719 563.5 L1719.5 563.02 L1720 563.3 L1720.5 563.5 L1721 562.58 L1721.5 563.56 L1722 563.19 L1722.5 563.16 L1723 563.49 L1723.5 563.33 L1724 562.76 L1724.5 563.32 L1725 563.36 L1725.5 563.51 L1726 563.16 L1726.5 563.66 L1727 563.54 L1727.5 562.51 L1728 563.37 L1728.5 563.4 L1729 563.45 L1729.5 563 L1730 562.93 L1730.5 563.54 L1731 563.16 L1731.5 562.97 L1732 563.41 L1732.5 562.29 L1733 563.55 L1733.5 563.64 L1734 563.63 L1734.5 563.67 L1735 563.12 L1735.5 563.61 L1736 563.6 L1736.5 563.54 L1737 563.51 L1737.5 563.23 L1738 563.43 L1738.5 563.65 L1739 563.4 L1739.5 563.62 L1740 563.38 L1740.5 562.69 L1741 563.02 L1741.5 563.46 L1742 563.65 L1742.5 562.6 L1743 563.52 L1743.5 563.64 L1744 563.53 L1744.5 563.53 L1745 562.99 L1745.5 563.67 L1746 562.66 L1746.5 563.25 L1747 563.34 L1747.5 563.19 L1748 562.8 L1748.5 563.52 L1749 563.66 L1749.5 563.24 L1750 563.07 L1750.5 563.15 L1751 563.52 L1751.5 563.01 L1752 563.62 L1752.5 563.64 L1753 563.52 L1753.5 563.36 L1754 563.5 L1754.5 563.33 L1755 563.43 L1755.5 562.96 L1756 562.76 L1756.5 563.64 L1757 563.49 L1757.5 563.46 L1758 563.23 L1758.5 563.62 L1759 563.19 L1759.5 563.36 L1760 563.65 L1760.5 563.62 L1761 563.52 L1761.5 563.58 L1762 562.95 L1762.5 563.41 L1763 563.56 L1763 565.25 L1762.5 565.48 L1762 565.2 L1761.5 565.3 L1761 565.31 L1760.5 565.39 L1760 565.44 L1759.5 565.22 L1759 565.63 L1758.5 565.5 L1758 565.29 L1757.5 565.56 L1757 565.6 L1756.5 565.2 L1756 565.49 L1755.5 565.22 L1755 565.18 L1754.5 565.2 L1754 565.18 L1753.5 565.33 L1753 565.28 L1752.5 565.41 L1752 565.19 L1751.5 565.64 L1751 565.63 L1750.5 565.3 L1750 565.37 L1749.5 565.39 L1749 565.26 L1748.5 565.3 L1748 565.45 L1747.5 565.35 L1747 565.2 L1746.5 565.24 L1746 565.47 L1745.5 565.44 L1745 565.46 L1744.5 565.52 L1744 565.48 L1743.5 565.19 L1743 565.19 L1742.5 565.57 L1742 565.32 L1741.5 565.58 L1741 565.2 L1740.5 565.37 L1740 565.67 L1739.5 565.57 L1739 565.58 L1738.5 565.28 L1738 565.21 L1737.5 565.58 L1737 565.25 L1736.5 565.31 L1736 565.25 L1735.5 565.33 L1735 565.33 L1734.5 565.61 L1734 565.6 L1733.5 565.6 L1733 565.51 L1732.5 565.35 L1732 565.52 L1731.5 565.27 L1731 565.64 L1730.5 565.37 L1730 565.41 L1729.5 565.23 L1729 565.61 L1728.5 565.4 L1728 565.26 L1727.5 565.26 L1727 565.36 L1726.5 565.61 L1726 565.63 L1725.5 565.33 L1725 565.58 L1724.5 565.66 L1724 565.66 L1723.5 565.23 L1723 565.29 L1722.5 565.36 L1722 565.26 L1721.5 565.21 L1721 565.6 L1720.5 565.7 L1720 565.66 L1719.5 565.7 L1719 565.21 L1718.5 565.6 L1718 565.24 L1717.5 565.25 L1717 565.39 L1716.5 565.42 L1716 565.34 L1715.5 565.5 L1715 565.43 L1714.5 565.26 L1714 565.5 L1713.5 565.33 L1713 565.65 L1712.5 565.64 L1712 565.65 L1711.5 565.38 L1711 565.26 L1710.5 565.72 L1710 565.59 L1709.5 565.34 L1709 565.55 L1708.5 565.46 L1708 565.59 L1707.5 565.28 L1707 565.37 L1706.5 565.28 L1706 565.63 L1705.5 565.42 L1705 565.65 L1704.5 565.43 L1704 565.63 L1703.5 565.48 L1703 565.27 L1702.5 565.34 L1702 565.69 L1701.5 565.33 L1701 565.67 L1700.5 565.43 L1700 565.37 L1699.5 565.67 L1699 565.3 L1698.5 565.49 L1698 565.58 L1697.5 565.66 L1697 565.57 L1696.5 565.48 L1696 565.41 L1695.5 565.59 L1695 565.67 L1694.5 565.56 L1694 565.47 L1693.5 565.49 L1693 565.31 L1692.5 565.33 L1692 565.48 L1691.5 565.33 L1691 565.66 L1690.5 565.51 L1690 565.33 L1689.5 565.58 L1689 565.47 L1688.5 565.36 L1688 565.6 L1687.5 565.26 L1687 565.6 L1686.5 565.44 L1686 565.7 L1685.5 565.32 L1685 565.45 L1684.5 565.41 L1684 565.66 L1683.5 565.38 L1683 565.7 L1682.5 565.6 L1682 565.44 L1681.5 565.45 L1681 565.32 L1680.5 565.39 L1680 565.38 L1679.5 565.76 L1679 565.34 L1678.5 565.63 L1678 565.44 L1677.5 565.38 L1677 565.41 L1676.5 565.51 L1676 565.53 L1675.5 565.4 L1675 565.51 L1674.5 565.71 L1674 565.57 L1673.5 565.51 L1673 565.69 L1672.5 565.3 L1672 565.41 L1671.5 565.37 L1671 565.33 L1670.5 565.71 L1670 565.46 L1669.5 565.49 L1669 565.51 L1668.5 565.76 L1668 565.38 L1667.5 565.52 L1667 565.75 L1666.5 565.31 L1666 565.72 L1665.5 565.51 L1665 565.28 L1664.5 565.48 L1664 565.46 L1663.5 565.31 L1663 565.5 L1662.5 565.4 L1662 565.53 L1661.5 565.3 L1661 565.72 L1660.5 565.74 L1660 565.53 L1659.5 565.65 L1659 565.29 L1658.5 565.7 L1658 565.34 L1657.5 565.74 L1657 565.6 L1656.5 565.3 L1656 565.48 L1655.5 565.76 L1655 565.71 L1654.5 565.72 L1654 565.43 L1653.5 565.39 L1653 565.33 L1652.5 565.31 L1652 565.77 L1651.5 565.3 L1651 565.77 L1650.5 565.48 L1650 565.49 L1649.5 565.45 L1649 565.52 L1648.5 565.41 L1648 565.67 L1647.5 565.65 L1647 565.57 L1646.5 565.37 L1646 565.6 L1645.5 565.54 L1645 565.48 L1644.5 565.32 L1644 565.7 L1643.5 565.58 L1643 565.55 L1642.5 565.4 L1642 565.73 L1641.5 565.51 L1641 565.65 L1640.5 565.48 L1640 565.73 L1639.5 565.32 L1639 565.35 L1638.5 565.53 L1638 565.57 L1637.5 565.46 L1637 565.75 L1636.5 565.55 L1636 565.4 L1635.5 565.59 L1635 565.43 L1634.5 565.66 L1634 565.42 L1633.5 565.53 L1633 565.34 L1632.5 565.44 L1632 565.66 L1631.5 565.43 L1631 565.44 L1630.5 565.38 L1630 565.42 L1629.5 565.42 L1629 565.45 L1628.5 565.61 L1628 565.49 L1627.5 565.73 L1627 565.77 L1626.5 565.69 L1626 565.67 L1625.5 565.75 L1625 565.48 L1624.5 565.62 L1624 565.35 L1623.5 565.47 L1623 565.63 L1622.5 565.47 L1622 565.36 L1621.5 565.52 L1621 565.57 L1620.5 565.76 L1620 565.42 L1619.5 565.62 L1619 565.5 L1618.5 565.34 L1618 565.8 L1617.5 565.47 L1617 565.57 L1616.5 565.53 L1616 565.65 L1615.5 565.68 L1615 565.68 L1614.5 565.4 L1614 565.48 L1613.5 565.38 L1613 565.42 L1612.5 565.48 L1612 565.68 L1611.5 565.84 L1611 565.67 L1610.5 565.8 L1610 565.7 L1609.5 565.66 L1609 565.62 L1608.5 565.55 L1608 565.57 L1607.5 565.62 L1607 565.38 L1606.5 565.75 L1606 565.62 L1605.5 565.38 L1605 565.74 L1604.5 565.6 L1604 565.62 L1603.5 565.62 L1603 565.44 L1602.5 565.83 L1602 565.51 L1601.5 565.73 L1601 565.51 L1600.5 565.42 L1600 565.76 L1599.5 565.44 L1599 565.51 L1598.5 565.62 L1598 565.59 L1597.5 565.72 L1597 565.43 L1596.5 565.38 L1596 565.82 L1595.5 565.39 L1595 565.49 L1594.5 565.49 L1594 565.62 L1593.5 565.58 L1593 565.74 L1592.5 565.69 L1592 565.38 L1591.5 565.81 L1591 565.51 L1590.5 565.56 L1590 565.38 L1589.5 565.41 L1589 565.59 L1588.5 565.43 L1588 565.74 L1587.5 565.67 L1587 565.4 L1586.5 565.51 L1586 565.68 L1585.5 565.53 L1585 565.45 L1584.5 565.53 L1584 565.49 L1583.5 565.82 L1583 565.49 L1582.5 565.73 L1582 565.41 L1581.5 565.61 L1581 565.79 L1580.5 565.64 L1580 565.61 L1579.5 565.53 L1579 565.5 L1578.5 565.88 L1578 565.67 L1577.5 565.86 L1577 565.84 L1576.5 565.66 L1576 565.4 L1575.5 565.72 L1575 565.55 L1574.5 565.74 L1574 565.62 L1573.5 565.54 L1573 565.64 L1572.5 565.47 L1572 565.45 L1571.5 565.5 L1571 565.85 L1570.5 565.65 L1570 565.69 L1569.5 565.53 L1569 565.4 L1568.5 565.82 L1568 565.41 L1567.5 565.48 L1567 565.5 L1566.5 565.71 L1566 565.68 L1565.5 565.71 L1565 565.63 L1564.5 565.7 L1564 565.86 L1563.5 565.64 L1563 565.48 L1562.5 565.63 L1562 565.71 L1561.5 565.85 L1561 565.43 L1560.5 565.69 L1560 565.8 L1559.5 565.48 L1559 565.58 L1558.5 565.48 L1558 565.51 L1557.5 565.69 L1557 565.85 L1556.5 565.56 L1556 565.9 L1555.5 565.79 L1555 565.72 L1554.5 565.83 L1554 565.7 L1553.5 565.55 L1553 565.8 L1552.5 565.53 L1552 565.48 L1551.5 565.6 L1551 565.85 L1550.5 565.54 L1550 565.54 L1549.5 565.85 L1549 565.62 L1548.5 565.79 L1548 565.5 L1547.5 565.5 L1547 565.79 L1546.5 565.67 L1546 565.77 L1545.5 565.59 L1545 565.6 L1544.5 565.89 L1544 565.6 L1543.5 565.72 L1543 565.7 L1542.5 565.55 L1542 565.84 L1541.5 565.6 L1541 565.62 L1540.5 565.54 L1540 565.7 L1539.5 565.51 L1539 565.77 L1538.5 565.72 L1538 565.52 L1537.5 565.92 L1537 565.89 L1536.5 565.7 L1536 565.57 L1535.5 565.61 L1535 565.52 L1534.5 565.57 L1534 565.58 L1533.5 565.54 L1533 565.63 L1532.5 565.9 L1532 565.73 L1531.5 565.63 L1531 565.5 L1530.5 565.81 L1530 565.92 L1529.5 565.74 L1529 565.83 L1528.5 565.56 L1528 565.72 L1527.5 565.49 L1527 565.86 L1526.5 565.9 L1526 565.5 L1525.5 565.59 L1525 565.55 L1524.5 565.78 L1524 565.83 L1523.5 565.92 L1523 565.59 L1522.5 565.91 L1522 565.82 L1521.5 565.6 L1521 565.95 L1520.5 565.76 L1520 565.5 L1519.5 565.64 L1519 565.66 L1518.5 565.51 L1518 565.93 L1517.5 565.78 L1517 565.57 L1516.5 565.62 L1516 565.62 L1515.5 565.72 L1515 565.91 L1514.5 565.82 L1514 565.8 L1513.5 565.52 L1513 565.59 L1512.5 565.91 L1512 565.48 L1511.5 565.52 L1511 565.78 L1510.5 565.91 L1510 565.57 L1509.5 565.97 L1509 565.82 L1508.5 565.64 L1508 565.56 L1507.5 565.66 L1507 565.61 L1506.5 565.69 L1506 565.48 L1505.5 565.68 L1505 565.65 L1504.5 565.66 L1504 565.76 L1503.5 565.61 L1503 565.92 L1502.5 565.49 L1502 565.82 L1501.5 565.77 L1501 565.55 L1500.5 565.77 L1500 565.49 L1499.5 565.5 L1499 565.51 L1498.5 565.96 L1498 565.88 L1497.5 565.52 L1497 565.52 L1496.5 565.94 L1496 565.73 L1495.5 565.78 L1495 565.99 L1494.5 565.75 L1494 565.65 L1493.5 565.75 L1493 565.81 L1492.5 565.9 L1492 565.79 L1491.5 565.73 L1491 565.76 L1490.5 565.9 L1490 565.54 L1489.5 565.6 L1489 565.54 L1488.5 565.84 L1488 565.51 L1487.5 565.63 L1487 565.63 L1486.5 565.67 L1486 565.8 L1485.5 565.64 L1485 565.86 L1484.5 565.84 L1484 565.55 L1483.5 565.94 L1483 565.58 L1482.5 565.78 L1482 565.54 L1481.5 565.81 L1481 565.53 L1480.5 565.74 L1480 565.53 L1479.5 565.8 L1479 565.94 L1478.5 565.87 L1478 565.78 L1477.5 565.76 L1477 565.93 L1476.5 565.74 L1476 565.79 L1475.5 565.62 L1475 565.6 L1474.5 565.66 L1474 565.61 L1473.5 565.56 L1473 565.65 L1472.5 565.85 L1472 565.7 L1471.5 565.85 L1471 565.58 L1470.5 565.8 L1470 565.54 L1469.5 565.85 L1469 565.55 L1468.5 566 L1468 565.8 L1467.5 565.56 L1467 565.6 L1466.5 566.01 L1466 565.8 L1465.5 565.71 L1465 565.64 L1464.5 565.84 L1464 565.6 L1463.5 565.73 L1463 565.89 L1462.5 565.87 L1462 565.66 L1461.5 565.95 L1461 565.86 L1460.5 565.72 L1460 565.82 L1459.5 565.96 L1459 565.93 L1458.5 565.71 L1458 565.65 L1457.5 565.66 L1457 565.95 L1456.5 565.71 L1456 565.78 L1455.5 565.76 L1455 565.7 L1454.5 565.8 L1454 565.78 L1453.5 565.88 L1453 565.76 L1452.5 565.9 L1452 565.62 L1451.5 565.64 L1451 565.79 L1450.5 565.63 L1450 565.68 L1449.5 565.71 L1449 565.6 L1448.5 565.83 L1448 565.99 L1447.5 565.61 L1447 565.79 L1446.5 565.65 L1446 565.74 L1445.5 565.74 L1445 565.7 L1444.5 565.67 L1444 565.74 L1443.5 565.81 L1443 565.94 L1442.5 566 L1442 565.8 L1441.5 565.95 L1441 565.77 L1440.5 565.86 L1440 565.67 L1439.5 565.61 L1439 565.78 L1438.5 565.86 L1438 565.67 L1437.5 565.59 L1437 565.6 L1436.5 566.06 L1436 565.91 L1435.5 566.03 L1435 565.92 L1434.5 565.92 L1434 565.7 L1433.5 566.06 L1433 565.67 L1432.5 565.94 L1432 566.02 L1431.5 565.76 L1431 565.99 L1430.5 566.05 L1430 566.04 L1429.5 565.93 L1429 565.84 L1428.5 565.74 L1428 565.79 L1427.5 565.89 L1427 565.71 L1426.5 565.67 L1426 566.07 L1425.5 565.95 L1425 565.81 L1424.5 565.9 L1424 565.84 L1423.5 565.72 L1423 565.73 L1422.5 565.9 L1422 565.61 L1421.5 566.1 L1421 565.68 L1420.5 566.06 L1420 565.99 L1419.5 565.81 L1419 565.89 L1418.5 566.04 L1418 565.71 L1417.5 565.7 L1417 565.85 L1416.5 565.82 L1416 565.96 L1415.5 565.75 L1415 565.96 L1414.5 565.79 L1414 565.85 L1413.5 566.08 L1413 565.66 L1412.5 565.99 L1412 565.84 L1411.5 565.78 L1411 565.8 L1410.5 565.66 L1410 565.97 L1409.5 566.04 L1409 565.83 L1408.5 566.08 L1408 565.67 L1407.5 565.65 L1407 565.63 L1406.5 566.09 L1406 565.84 L1405.5 566.13 L1405 565.65 L1404.5 565.97 L1404 565.87 L1403.5 565.8 L1403 565.79 L1402.5 565.86 L1402 565.79 L1401.5 565.73 L1401 565.78 L1400.5 565.7 L1400 565.86 L1399.5 565.67 L1399 565.68 L1398.5 565.97 L1398 565.96 L1397.5 565.81 L1397 566.12 L1396.5 565.82 L1396 566.12 L1395.5 565.68 L1395 565.7 L1394.5 565.94 L1394 565.91 L1393.5 566.06 L1393 565.86 L1392.5 565.79 L1392 565.82 L1391.5 565.8 L1391 565.71 L1390.5 565.77 L1390 566.15 L1389.5 565.93 L1389 565.7 L1388.5 566.04 L1388 565.91 L1387.5 565.72 L1387 566.1 L1386.5 566.15 L1386 565.99 L1385.5 566.08 L1385 565.86 L1384.5 565.87 L1384 566.07 L1383.5 565.72 L1383 566.13 L1382.5 565.84 L1382 565.99 L1381.5 566.07 L1381 566.02 L1380.5 565.88 L1380 565.93 L1379.5 565.97 L1379 565.82 L1378.5 565.87 L1378 565.88 L1377.5 565.82 L1377 565.9 L1376.5 565.99 L1376 565.9 L1375.5 565.85 L1375 565.99 L1374.5 565.94 L1374 565.85 L1373.5 565.78 L1373 566.16 L1372.5 565.7 L1372 565.97 L1371.5 566.14 L1371 566.02 L1370.5 565.84 L1370 565.98 L1369.5 565.82 L1369 565.76 L1368.5 565.86 L1368 565.76 L1367.5 565.9 L1367 565.84 L1366.5 566.09 L1366 565.74 L1365.5 565.88 L1365 566.2 L1364.5 565.83 L1364 566.01 L1363.5 565.74 L1363 566.11 L1362.5 566.02 L1362 565.76 L1361.5 565.78 L1361 566.18 L1360.5 566.12 L1360 566.05 L1359.5 565.8 L1359 565.95 L1358.5 566.09 L1358 566.15 L1357.5 566.1 L1357 566 L1356.5 566.2 L1356 566.04 L1355.5 565.9 L1355 566 L1354.5 566.14 L1354 566.12 L1353.5 565.79 L1353 565.86 L1352.5 565.99 L1352 566.21 L1351.5 565.86 L1351 565.91 L1350.5 566.13 L1350 566.13 L1349.5 566.06 L1349 566 L1348.5 565.82 L1348 566.22 L1347.5 565.89 L1347 566.04 L1346.5 566.04 L1346 566.21 L1345.5 565.96 L1345 565.83 L1344.5 565.82 L1344 566.17 L1343.5 566.15 L1343 566.12 L1342.5 565.89 L1342 565.93 L1341.5 566.17 L1341 565.94 L1340.5 566.04 L1340 566.01 L1339.5 565.89 L1339 565.9 L1338.5 565.77 L1338 566.14 L1337.5 566.07 L1337 565.79 L1336.5 565.84 L1336 565.94 L1335.5 565.97 L1335 565.81 L1334.5 565.83 L1334 566.05 L1333.5 566.25 L1333 566.22 L1332.5 565.79 L1332 565.88 L1331.5 565.82 L1331 566.11 L1330.5 566.1 L1330 566.1 L1329.5 566.24 L1329 566.09 L1328.5 566.25 L1328 565.98 L1327.5 566.06 L1327 566.2 L1326.5 566.23 L1326 566.07 L1325.5 565.8 L1325 565.88 L1324.5 565.92 L1324 566.16 L1323.5 565.85 L1323 565.9 L1322.5 566.24 L1322 566.19 L1321.5 565.88 L1321 566.19 L1320.5 566.01 L1320 565.98 L1319.5 565.95 L1319 566.2 L1318.5 565.91 L1318 565.99 L1317.5 565.94 L1317 565.82 L1316.5 566.14 L1316 565.92 L1315.5 566.03 L1315 565.95 L1314.5 565.92 L1314 566.18 L1313.5 565.91 L1313 565.95 L1312.5 566.05 L1312 565.99 L1311.5 565.98 L1311 565.8 L1310.5 565.95 L1310 565.85 L1309.5 566.26 L1309 565.8 L1308.5 565.93 L1308 566.09 L1307.5 566.14 L1307 565.81 L1306.5 566 L1306 565.88 L1305.5 566.05 L1305 565.93 L1304.5 566.18 L1304 566.28 L1303.5 565.95 L1303 566.23 L1302.5 565.85 L1302 566.3 L1301.5 565.91 L1301 565.97 L1300.5 565.89 L1300 566.26 L1299.5 565.87 L1299 566.28 L1298.5 565.88 L1298 565.92 L1297.5 565.93 L1297 566.14 L1296.5 565.87 L1296 566.3 L1295.5 565.91 L1295 566.24 L1294.5 566.19 L1294 566.02 L1293.5 566.28 L1293 566.31 L1292.5 566.28 L1292 566.03 L1291.5 565.94 L1291 566.26 L1290.5 565.83 L1290 566.03 L1289.5 566.14 L1289 566 L1288.5 565.87 L1288 566.32 L1287.5 565.93 L1287 565.97 L1286.5 566.1 L1286 565.89 L1285.5 566.1 L1285 566.1 L1284.5 565.9 L1284 566.22 L1283.5 566.14 L1283 565.91 L1282.5 565.99 L1282 565.99 L1281.5 566.26 L1281 566.14 L1280.5 565.91 L1280 565.95 L1279.5 566.23 L1279 565.97 L1278.5 566.14 L1278 566.13 L1277.5 566.26 L1277 566.02 L1276.5 566.15 L1276 566.13 L1275.5 566.35 L1275 565.88 L1274.5 565.86 L1274 566.24 L1273.5 566.3 L1273 566.1 L1272.5 566.03 L1272 565.94 L1271.5 566.05 L1271 566.2 L1270.5 565.93 L1270 566.32 L1269.5 566.26 L1269 566.04 L1268.5 566.21 L1268 566.06 L1267.5 565.87 L1267 566.18 L1266.5 566 L1266 566.34 L1265.5 566.33 L1265 565.89 L1264.5 565.95 L1264 566.23 L1263.5 566.29 L1263 566.33 L1262.5 566 L1262 566.07 L1261.5 566.26 L1261 566.13 L1260.5 566.19 L1260 566.22 L1259.5 566.22 L1259 566.23 L1258.5 566.12 L1258 566.09 L1257.5 566.34 L1257 566.01 L1256.5 566.08 L1256 566.27 L1255.5 566.35 L1255 566.33 L1254.5 566.35 L1254 565.89 L1253.5 566.29 L1253 566.26 L1252.5 566.16 L1252 566.21 L1251.5 565.94 L1251 565.93 L1250.5 566.02 L1250 566.3 L1249.5 565.96 L1249 566 L1248.5 566.34 L1248 566.23 L1247.5 566.22 L1247 565.9 L1246.5 566.39 L1246 566.38 L1245.5 566.38 L1245 565.98 L1244.5 566.26 L1244 566.17 L1243.5 566.04 L1243 566.33 L1242.5 566 L1242 566.34 L1241.5 566.16 L1241 566.17 L1240.5 565.91 L1240 565.96 L1239.5 566.17 L1239 566.17 L1238.5 566.1 L1238 566.36 L1237.5 566.31 L1237 566.15 L1236.5 565.94 L1236 565.93 L1235.5 566.23 L1235 566.4 L1234.5 566.29 L1234 566.11 L1233.5 566.17 L1233 566.42 L1232.5 566.42 L1232 566.34 L1231.5 566.32 L1231 566.33 L1230.5 566.38 L1230 566.11 L1229.5 566.36 L1229 566.11 L1228.5 566.22 L1228 566.3 L1227.5 566.25 L1227 566.19 L1226.5 566.31 L1226 566.39 L1225.5 566.29 L1225 565.99 L1224.5 566.03 L1224 566.28 L1223.5 566.16 L1223 566.38 L1222.5 566.4 L1222 566.28 L1221.5 566.27 L1221 566.11 L1220.5 566.32 L1220 566.06 L1219.5 566.34 L1219 566.04 L1218.5 566.24 L1218 565.97 L1217.5 566.43 L1217 566.33 L1216.5 566.25 L1216 566.41 L1215.5 566.35 L1215 566.44 L1214.5 566.14 L1214 566.27 L1213.5 566.13 L1213 566.02 L1212.5 566.06 L1212 566.37 L1211.5 566.33 L1211 566.05 L1210.5 566.12 L1210 566.29 L1209.5 566.25 L1209 566.44 L1208.5 566.34 L1208 566.03 L1207.5 566.35 L1207 566.33 L1206.5 566.14 L1206 566.34 L1205.5 566.02 L1205 566.39 L1204.5 566.06 L1204 566.15 L1203.5 566.06 L1203 566.13 L1202.5 566.34 L1202 566.22 L1201.5 566.03 L1201 566.19 L1200.5 566.03 L1200 566.09 L1199.5 566.26 L1199 566.42 L1198.5 566.08 L1198 566.18 L1197.5 566.03 L1197 566.4 L1196.5 566.2 L1196 566.48 L1195.5 566.21 L1195 566.15 L1194.5 566.46 L1194 566.24 L1193.5 566.2 L1193 566.06 L1192.5 566.3 L1192 566.4 L1191.5 566.15 L1191 566.29 L1190.5 566.41 L1190 566.15 L1189.5 566.27 L1189 566.12 L1188.5 566.19 L1188 566.37 L1187.5 566.39 L1187 566.01 L1186.5 566.36 L1186 566.21 L1185.5 566.11 L1185 566.33 L1184.5 566.15 L1184 566.18 L1183.5 566.47 L1183 566.46 L1182.5 566.25 L1182 566.25 L1181.5 566.22 L1181 566.16 L1180.5 566.26 L1180 566.02 L1179.5 566.03 L1179 566.47 L1178.5 566.12 L1178 566.43 L1177.5 566.43 L1177 566.25 L1176.5 566.31 L1176 566.41 L1175.5 566.22 L1175 566.45 L1174.5 566.51 L1174 566.12 L1173.5 566.47 L1173 566.15 L1172.5 566.27 L1172 566.12 L1171.5 566.19 L1171 566.25 L1170.5 566.24 L1170 566.35 L1169.5 566.04 L1169 566.07 L1168.5 566.27 L1168 566.46 L1167.5 566.35 L1167 566.51 L1166.5 566.19 L1166 566.42 L1165.5 566.33 L1165 566.3 L1164.5 566.13 L1164 566.12 L1163.5 566.48 L1163 566.05 L1162.5 566.37 L1162 566.38 L1161.5 566.43 L1161 566.37 L1160.5 566.28 L1160 566.53Z" fill="#000"/>
<path d="M950.6 564.5 L951.5 153.1 L952.4 564.5" fill="none" stroke="#000" stroke-width="1.2" stroke-linejoin="round" />
<line x1="951.6" y1="427" x2="951.6" y2="564" stroke="#000" stroke-width="2.0"/>
<path d="M999.1 564.5 L1000 89.1 L1000.9 564.5" fill="none" stroke="#000" stroke-width="1.3" stroke-linejoin="round" />
<line x1="1000" y1="131.5" x2="1000" y2="564" stroke="#000" stroke-width="2.2"/>
<path d="M1099.7 563 L1100.6 129.9 L1101.5 563" fill="none" stroke="#000" stroke-width="1.4" stroke-linejoin="round" />
<line x1="1101.5" y1="159.4" x2="1101.5" y2="563" stroke="#000" stroke-width="1.8"/>
<path d="M1104.9 563 L1105.8 136.1 L1106.7 563" fill="none" stroke="#000" stroke-width="1.4" stroke-linejoin="round" />
<line x1="1105" y1="305.2" x2="1105" y2="563" stroke="#000" stroke-width="1.4"/>
<path d="M1306 563.7 L1306.9 153.4 L1307.8 563.7" fill="none" stroke="#000" stroke-width="1.3" stroke-linejoin="round" />
<line x1="1307.2" y1="537" x2="1307.2" y2="564" stroke="#000" stroke-width="2.0"/>
<path d="M1714.5 564.2 L1715.4 326.8 L1716.3 564.2" fill="none" stroke="#000" stroke-width="1.3" stroke-linejoin="round" />
<line x1="1715.8" y1="457" x2="1715.8" y2="564" stroke="#000" stroke-width="2.0"/>
<path d="M928.7 563.8 L929.3 556.8 L929.9 557 L930.3 560.5 L931.3 562.4 L932.6 563.3" fill="none" stroke="#000" stroke-width="1.4" stroke-linejoin="round" />
<path d="M934.4 563.6 L935.3 560.8 L936.2 559.9 L936.9 561.5 L938.2 563.3" fill="none" stroke="#000" stroke-width="1.4" stroke-linejoin="round" />
<path d="M914.8 563.5 L915.4 561.2 L916 563.5" fill="none" stroke="#000" stroke-width="1.1" stroke-linejoin="round" />
<path d="M1719 564 L1720.3 560.4 L1721.6 564" fill="none" stroke="#000" stroke-width="1.2" stroke-linejoin="round" />
<path d="M36.5 1060.2 L615.9 1060.2 L617 1059.2 L617.6 1056.5 L617.9 1040 L617.95 762.3 L618.2 762.3 L618.6 1000 L619.9 1040 L620.1 1056.5 L620.8 1059.3 L621.9 1060.2 L855.2 1060.3" fill="none" stroke="#000" stroke-width="1.3" stroke-linejoin="round" />
<line x1="619.6" y1="995.3" x2="619.6" y2="1040" stroke="#000" stroke-width="1.6"/>
<path d="M913.4 1054.88 L913.9 1054.37 L914.4 1054.39 L914.9 1054.82 L915.4 1054.46 L915.9 1054.45 L916.4 1054.61 L916.9 1054.55 L917.4 1054.66 L917.9 1055.46 L918.4 1055.03 L918.9 1055.49 L919.4 1055.08 L919.9 1055.52 L920.4 1054.83 L920.9 1054.69 L921.4 1055.34 L921.9 1053.8 L922.4 1055.48 L922.9 1055.34 L923.4 1054.69 L923.9 1055.31 L924.4 1055.46 L924.9 1054.89 L925.4 1054.01 L925.9 1054.82 L926.4 1054.9 L926.9 1055.42 L927.4 1054.11 L927.9 1054.97 L928.4 1054.43 L928.9 1054.85 L929.4 1055.47 L929.9 1055.41 L930.4 1054.84 L930.9 1055.06 L931.4 1054.79 L931.9 1053.92 L932.4 1055.24 L932.9 1054.85 L933.4 1055.24 L933.9 1055.15 L934.4 1054.56 L934.9 1055.11 L935.4 1055.53 L935.9 1055.14 L936.4 1055.05 L936.9 1054.62 L937.4 1055.55 L937.9 1054.77 L938.4 1055.62 L938.9 1055.14 L939.4 1054.73 L939.9 1055.34 L940.4 1055.05 L940.9 1055.63 L941.4 1054.77 L941.9 1055.68 L942.4 1055.34 L942.9 1055.54 L943.4 1054.28 L943.9 1055.42 L944.4 1055.38 L944.9 1055.53 L945.4 1054.92 L945.9 1054.76 L946.4 1055.38 L946.9 1055.22 L947.4 1055.62 L947.9 1055.48 L948.4 1055.28 L948.9 1055.28 L949.4 1055.64 L949.9 1054.88 L950.4 1054.71 L950.9 1055.39 L951.4 1055.67 L951.9 1054.58 L952.4 1055.12 L952.9 1055.73 L953.4 1054.72 L953.9 1055.08 L954.4 1055.25 L954.9 1054.49 L955.4 1055.66 L955.9 1055.49 L956.4 1055.55 L956.9 1055.53 L957.4 1055.58 L957.9 1054.62 L958.4 1054.82 L958.9 1055.69 L959.4 1055.09 L959.9 1054.44 L960.4 1055.39 L960.9 1055.03 L961.4 1054.55 L961.9 1055.14 L962.4 1055.66 L962.9 1055.55 L963.4 1055.52 L963.9 1055.65 L964.4 1054.56 L964.9 1054.74 L965.4 1055.8 L965.9 1055.13 L966.4 1055.63 L966.9 1055.57 L967.4 1054.4 L967.9 1055.27 L968.4 1055.5 L968.9 1055.86 L969.4 1055.13 L969.9 1054.44 L970.4 1055.22 L970.9 1055.33 L971.4 1055.49 L971.9 1055.61 L972.4 1055.21 L972.9 1055.15 L973.4 1055.83 L973.9 1054.38 L974.4 1055.47 L974.9 1055.46 L975.4 1054.9 L975.9 1055.87 L976.4 1055.12 L976.9 1055.47 L977.4 1055.75 L977.9 1055.92 L978.4 1054.76 L978.9 1055.53 L979.4 1054.93 L979.9 1055.62 L980.4 1055.03 L980.9 1055.16 L981.4 1055.73 L981.9 1055.48 L982.4 1055.84 L982.9 1055.37 L983.4 1055.86 L983.9 1055.89 L984.4 1055.96 L984.9 1055.48 L985.4 1054.79 L985.9 1055.8 L986.4 1055.38 L986.9 1055.19 L987.4 1055.97 L987.9 1055.73 L988.4 1055.69 L988.9 1055.37 L989.4 1054.54 L989.9 1055.94 L990.4 1054.85 L990.9 1055.53 L991.4 1055.18 L991.9 1056.01 L992.4 1055.12 L992.9 1055.32 L993.4 1055.65 L993.9 1055.5 L994.4 1055.57 L994.9 1055.86 L995.4 1055.94 L995.9 1054.97 L996.4 1055.82 L996.9 1055.13 L997.4 1054.79 L997.9 1055.98 L998.4 1055.02 L998.9 1055.74 L999.4 1055.57 L999.9 1054.72 L1000.4 1055.56 L1000.9 1055.85 L1001.4 1054.74 L1001.9 1055.95 L1002.4 1056.04 L1002.9 1055 L1003.4 1055.26 L1003.9 1055.87 L1004.4 1056 L1004.9 1054.78 L1005.4 1055.61 L1005.9 1055.58 L1006.4 1055.74 L1006.9 1056.12 L1007.4 1055.94 L1007.9 1055.61 L1008.4 1056.12 L1008.9 1055.16 L1009.4 1055.98 L1009.9 1054.33 L1010.4 1055.85 L1010.9 1054.62 L1011.4 1055.65 L1011.9 1054.51 L1012.4 1056.05 L1012.9 1055.66 L1013.4 1055.2 L1013.9 1054.95 L1014.4 1055.98 L1014.9 1055.91 L1015.4 1055.81 L1015.9 1055.7 L1016.4 1055.69 L1016.9 1055.12 L1017.4 1055.92 L1017.9 1055.8 L1018.4 1055.26 L1018.9 1055.02 L1019.4 1055.89 L1019.9 1056.21 L1020.4 1056.14 L1020.9 1055.85 L1021.4 1056.02 L1021.9 1055.78 L1022.4 1055.25 L1022.9 1056.08 L1023.4 1055.23 L1023.9 1055.52 L1024.4 1055.92 L1024.9 1055.88 L1025.4 1056.18 L1025.9 1054.92 L1026.4 1056.24 L1026.9 1055.99 L1027.4 1055.14 L1027.9 1055.9 L1028.4 1055.84 L1028.9 1056.23 L1029.4 1056.1 L1029.9 1055.81 L1030.4 1055.29 L1030.9 1055.63 L1031.4 1055.99 L1031.9 1056.18 L1032.4 1055.53 L1032.9 1055.99 L1033.4 1055.96 L1033.9 1056.1 L1034.4 1055.22 L1034.9 1056.29 L1035.4 1056.18 L1035.9 1055.72 L1036.4 1055.31 L1036.9 1055.92 L1037.4 1056.11 L1037.9 1056.03 L1038.4 1055.91 L1038.9 1054.91 L1039.4 1055.64 L1039.9 1055.24 L1040.4 1055.59 L1040.9 1055.99 L1041.4 1056.02 L1041.9 1055.68 L1042.4 1055.86 L1042.9 1056.09 L1043.4 1056.26 L1043.9 1055.15 L1044.4 1055.71 L1044.9 1056.17 L1045.4 1056.08 L1045.9 1055.68 L1046.4 1056.24 L1046.9 1056.26 L1047.4 1054.73 L1047.9 1056.17 L1048.4 1056.22 L1048.9 1056.39 L1049.4 1056.07 L1049.9 1056.01 L1050.4 1055.89 L1050.9 1056.38 L1051.4 1055.35 L1051.9 1055.49 L1052.4 1056.25 L1052.9 1055.45 L1053.4 1056.15 L1053.9 1055.47 L1054.4 1055.65 L1054.9 1056.14 L1055.4 1055.71 L1055.9 1056.01 L1056.4 1055.82 L1056.9 1055.64 L1057.4 1056.33 L1057.9 1056.14 L1058.4 1055.79 L1058.9 1056.21 L1059.4 1055.85 L1059.9 1056.45 L1060.4 1056.42 L1060.9 1056.06 L1061.4 1056.18 L1061.9 1054.82 L1062.4 1055.69 L1062.9 1056.31 L1063.4 1055.62 L1063.9 1056.02 L1064.4 1056.09 L1064.9 1055.48 L1065.4 1055.8 L1065.9 1055.94 L1066.4 1056.25 L1066.9 1056.09 L1067.4 1056.17 L1067.9 1056.32 L1068.4 1056.35 L1068.9 1055.87 L1069.4 1056.45 L1069.9 1055.92 L1070.4 1054.2 L1070.9 1056.15 L1071.4 1056.5 L1071.9 1055.92 L1072.4 1055.95 L1072.9 1055.56 L1073.4 1056.05 L1073.9 1056.37 L1074.4 1055.83 L1074.9 1055.7 L1075.4 1055.95 L1075.9 1056.2 L1076.4 1056.21 L1076.9 1055.78 L1077.4 1055.74 L1077.9 1056.34 L1078.4 1056.24 L1078.9 1056.4 L1079.4 1056.45 L1079.9 1056.23 L1080.4 1056.4 L1080.9 1055.72 L1081.4 1056.57 L1081.9 1055.78 L1082.4 1055.87 L1082.9 1055.76 L1083.4 1056.38 L1083.9 1055.85 L1084.4 1055.62 L1084.9 1055.73 L1085.4 1056.34 L1085.9 1056.51 L1086.4 1055.95 L1086.9 1056.12 L1087.4 1056.29 L1087.9 1056.43 L1088.4 1055.31 L1088.9 1056.42 L1089.4 1056.53 L1089.9 1056.42 L1090.4 1056.07 L1090.9 1054.91 L1091.4 1056.01 L1091.9 1056.55 L1092.4 1055.87 L1092.9 1056.2 L1093.4 1055.9 L1093.9 1055.89 L1094.4 1056.25 L1094.9 1056.09 L1095.4 1056.4 L1095.9 1056.25 L1096.4 1056.52 L1096.9 1056.03 L1097.4 1056.26 L1097.9 1055.52 L1098.4 1055.58 L1098.9 1056.31 L1099.4 1056.35 L1099.9 1056.18 L1100.4 1056.55 L1100.9 1055.97 L1101.4 1056.39 L1101.9 1056.41 L1102.4 1056.25 L1102.9 1056.29 L1103.4 1055.9 L1103.9 1056.03 L1104.4 1056.27 L1104.9 1056.48 L1105.4 1056.04 L1105.9 1056.09 L1106.4 1056.38 L1106.9 1056.44 L1107.4 1056.04 L1107.9 1056.6 L1108.4 1055.5 L1108.9 1056 L1109.4 1056.52 L1109.9 1056.25 L1110.4 1056.06 L1110.9 1056.28 L1111.4 1056.31 L1111.9 1056.49 L1112.4 1056.41 L1112.9 1056.47 L1113.4 1056.66 L1113.9 1056.15 L1114.4 1056.33 L1114.9 1056.4 L1115.4 1056.66 L1115.9 1056.69 L1116.4 1055.97 L1116.9 1056.19 L1117.4 1056.24 L1117.9 1055.85 L1118.4 1056.23 L1118.9 1056.62 L1119.4 1056.66 L1119.9 1056.49 L1120.4 1056.52 L1120.9 1056.12 L1121.4 1056.52 L1121.9 1056.62 L1122.4 1056.61 L1122.9 1055.75 L1123.4 1056.27 L1123.9 1056.24 L1124.4 1056.57 L1124.9 1056.36 L1125.4 1056.76 L1125.9 1056.68 L1126.4 1055.54 L1126.9 1055.75 L1127.4 1056.24 L1127.9 1056.57 L1128.4 1056.38 L1128.9 1056.68 L1129.4 1056.49 L1129.9 1056.78 L1130.4 1056.26 L1130.9 1055.94 L1131.4 1056.09 L1131.9 1056.57 L1132.4 1055.99 L1132.9 1056.59 L1133.4 1056.14 L1133.9 1056.51 L1134.4 1056.23 L1134.9 1056.79 L1135.4 1056.33 L1135.9 1056.46 L1136.4 1056.44 L1136.9 1055.68 L1137.4 1055.7 L1137.9 1056.69 L1138.4 1056.25 L1138.9 1056.11 L1139.4 1056.68 L1139.9 1055.68 L1140.4 1056.07 L1140.9 1056.32 L1141.4 1056.07 L1141.9 1055.66 L1142.4 1056.42 L1142.9 1056.64 L1143.4 1056.72 L1143.9 1056.34 L1144.4 1056.54 L1144.9 1056.45 L1145.4 1056.78 L1145.9 1055.85 L1146.4 1056.64 L1146.9 1055.52 L1147.4 1056.64 L1147.9 1056.71 L1148.4 1056.65 L1148.9 1056.83 L1149.4 1056.39 L1149.9 1056.06 L1150.4 1056.48 L1150.9 1056.48 L1151.4 1056.68 L1151.9 1056.19 L1152.4 1056.11 L1152.9 1055.49 L1153.4 1056.39 L1153.9 1056.64 L1154.4 1056.66 L1154.9 1056.47 L1155.4 1056.8 L1155.9 1056.61 L1156.4 1055.72 L1156.9 1056.74 L1157.4 1056.77 L1157.9 1056.28 L1158.4 1056.46 L1158.9 1056.54 L1159.4 1056.59 L1159.9 1056.87 L1160.4 1056.49 L1160.9 1056.53 L1161.4 1055.96 L1161.9 1056.69 L1162.4 1056.74 L1162.9 1056.43 L1163.4 1056.82 L1163.9 1056.52 L1164.4 1056.45 L1164.9 1055.94 L1165.4 1056.51 L1165.9 1056.27 L1166.4 1056.88 L1166.9 1056.39 L1167.4 1056.49 L1167.9 1056.26 L1168.4 1055.65 L1168.9 1056.78 L1169.4 1056.78 L1169.9 1056.88 L1170.4 1055.04 L1170.9 1056.16 L1171.4 1056.91 L1171.9 1056.58 L1172.4 1056.61 L1172.9 1056.32 L1173.4 1056.24 L1173.9 1056.7 L1174.4 1056.17 L1174.9 1056 L1175.4 1056.68 L1175.9 1056.41 L1176.4 1056.15 L1176.9 1056.84 L1177.4 1056.73 L1177.9 1056.87 L1178.4 1056.65 L1178.9 1056.37 L1179.4 1056.53 L1179.9 1056.3 L1180.4 1056.63 L1180.9 1056.52 L1181.4 1056.86 L1181.9 1056.48 L1182.4 1056.73 L1182.9 1055.41 L1183.4 1056.82 L1183.9 1056.64 L1184.4 1055.22 L1184.9 1056.56 L1185.4 1056.94 L1185.9 1056.84 L1186.4 1056.74 L1186.9 1056.52 L1187.4 1056.56 L1187.9 1056.81 L1188.4 1056.74 L1188.9 1056.52 L1189.4 1056.57 L1189.9 1055.35 L1190.4 1056.5 L1190.9 1056.57 L1191.4 1056.85 L1191.9 1056.88 L1192.4 1056.5 L1192.9 1056.66 L1193.4 1056.91 L1193.9 1056.97 L1194.4 1056.06 L1194.9 1056.66 L1195.4 1056.83 L1195.9 1056.17 L1196.4 1056.81 L1196.9 1055.93 L1197.4 1056.8 L1197.9 1056.79 L1198.4 1056.94 L1198.9 1056.45 L1199.4 1056.75 L1199.9 1056.4 L1200.4 1056.54 L1200.9 1056.78 L1201.4 1056.95 L1201.9 1056.85 L1202.4 1056.87 L1202.9 1056.83 L1203.4 1056.77 L1203.9 1057 L1204.4 1056.52 L1204.9 1056.36 L1205.4 1056.34 L1205.9 1056.89 L1206.4 1057 L1206.9 1056.95 L1207.4 1057.01 L1207.9 1057.01 L1208.4 1056.99 L1208.9 1056.61 L1209.4 1056.54 L1209.9 1056.67 L1210.4 1056.49 L1210.9 1056.04 L1211.4 1056.48 L1211.9 1056.52 L1212.4 1056.95 L1212.9 1056.69 L1213.4 1056.84 L1213.9 1056.5 L1214.4 1057 L1214.9 1055.9 L1215.4 1056.81 L1215.9 1056.71 L1216.4 1056.76 L1216.9 1056.59 L1217.4 1056.61 L1217.9 1056.22 L1218.4 1056.74 L1218.9 1055.99 L1219.4 1055.83 L1219.9 1056.26 L1220.4 1057.01 L1220.9 1056.72 L1221.4 1056.67 L1221.9 1056.5 L1222.4 1056.36 L1222.9 1057.01 L1223.4 1056.14 L1223.9 1056.96 L1224.4 1055.86 L1224.9 1056.63 L1225.4 1056.09 L1225.9 1056.94 L1226.4 1056.27 L1226.9 1056.93 L1227.4 1056.48 L1227.9 1057.07 L1228.4 1056.69 L1228.9 1056.81 L1229.4 1056.77 L1229.9 1056.45 L1230.4 1056.59 L1230.9 1057.05 L1231.4 1056.77 L1231.9 1056.79 L1232.4 1056.94 L1232.9 1056.63 L1233.4 1056.97 L1233.9 1056.77 L1234.4 1056.6 L1234.9 1057.04 L1235.4 1056.88 L1235.9 1056.69 L1236.4 1056.88 L1236.9 1056.82 L1237.4 1056.72 L1237.9 1056.73 L1238.4 1056.87 L1238.9 1056.33 L1239.4 1056.92 L1239.9 1056.29 L1240.4 1057.03 L1240.9 1056.58 L1241.4 1056.96 L1241.9 1056.54 L1242.4 1056.79 L1242.9 1056.89 L1243.4 1056.98 L1243.9 1056.86 L1244.4 1056.99 L1244.9 1057.08 L1245.4 1056.85 L1245.9 1056.9 L1246.4 1056.97 L1246.9 1057.08 L1247.4 1056.92 L1247.9 1056.31 L1248.4 1056.74 L1248.9 1056.73 L1249.4 1057.03 L1249.9 1056.99 L1250.4 1057 L1250.9 1056.7 L1251.4 1056.79 L1251.9 1056.98 L1252.4 1056.32 L1252.9 1057.12 L1253.4 1056.58 L1253.9 1056.28 L1254.4 1056.92 L1254.9 1056.95 L1255.4 1057.09 L1255.9 1057.05 L1256.4 1057.12 L1256.9 1056.36 L1257.4 1057.02 L1257.9 1056.72 L1258.4 1056.58 L1258.9 1056.67 L1259.4 1056.3 L1259.9 1056.8 L1260.4 1056.67 L1260.9 1056.73 L1261.4 1056.74 L1261.9 1056.94 L1262.4 1056.9 L1262.9 1056.02 L1263.4 1056.87 L1263.9 1057.05 L1264.4 1057.06 L1264.9 1056.7 L1265.4 1056.6 L1265.9 1056.87 L1266.4 1056.56 L1266.9 1056.43 L1267.4 1056.57 L1267.9 1056.94 L1268.4 1056.08 L1268.9 1057.11 L1269.4 1056.45 L1269.9 1056.84 L1270.4 1056.67 L1270.9 1057.04 L1271.4 1056.66 L1271.9 1056.93 L1272.4 1057.14 L1272.9 1057.02 L1273.4 1056.3 L1273.9 1056.79 L1274.4 1057.01 L1274.9 1056.9 L1275.4 1056.72 L1275.9 1056.82 L1276.4 1056.91 L1276.9 1056.37 L1277.4 1057.15 L1277.9 1057.12 L1278.4 1056.31 L1278.9 1056.55 L1279.4 1056.86 L1279.9 1056.89 L1280.4 1056.35 L1280.9 1057.06 L1281.4 1056.52 L1281.9 1056.42 L1282.4 1056.95 L1282.9 1057.09 L1283.4 1057.16 L1283.9 1056.8 L1284.4 1056.75 L1284.9 1057.03 L1285.4 1056.79 L1285.9 1057.01 L1286.4 1057.13 L1286.9 1057 L1287.4 1056.57 L1287.9 1056.49 L1288.4 1056.1 L1288.9 1056.92 L1289.4 1056.94 L1289.9 1056.56 L1290.4 1056.92 L1290.9 1056.61 L1291.4 1056.82 L1291.9 1057.12 L1292.4 1056.7 L1292.9 1056.98 L1293.4 1057.18 L1293.9 1057.12 L1294.4 1056.57 L1294.9 1057 L1295.4 1056.58 L1295.9 1056.92 L1296.4 1056.67 L1296.9 1057.11 L1297.4 1057 L1297.9 1056.56 L1298.4 1056.6 L1298.9 1057.21 L1299.4 1057.06 L1299.9 1056.83 L1300.4 1056.73 L1300.9 1057.1 L1301.4 1057.11 L1301.9 1057.21 L1302.4 1056.25 L1302.9 1056.59 L1303.4 1056.73 L1303.9 1056.22 L1304.4 1056.81 L1304.9 1056.87 L1305.4 1056.99 L1305.9 1056.84 L1306.4 1057.12 L1306.9 1056.82 L1307.4 1056.2 L1307.9 1057 L1308.4 1056.33 L1308.9 1056.8 L1309.4 1056.95 L1309.9 1056.83 L1310.4 1056.99 L1310.9 1056.94 L1311.4 1056.52 L1311.9 1056.74 L1312.4 1056.73 L1312.9 1056.57 L1313.4 1056.94 L1313.9 1056.83 L1314.4 1056.6 L1314.9 1057.23 L1315.4 1057.02 L1315.9 1056.67 L1316.4 1057.03 L1316.9 1057.28 L1317.4 1057.19 L1317.9 1056.97 L1318.4 1056.9 L1318.9 1056.89 L1319.4 1056.25 L1319.9 1057.21 L1320.4 1056.35 L1320.9 1056.47 L1321.4 1057.12 L1321.9 1057.25 L1322.4 1056.73 L1322.9 1056.93 L1323.4 1057.11 L1323.9 1057.28 L1324.4 1056.98 L1324.9 1057.21 L1325.4 1056.57 L1325.9 1057.06 L1326.4 1056.37 L1326.9 1056.23 L1327.4 1056.6 L1327.9 1056.73 L1328.4 1057.17 L1328.9 1056.84 L1329.4 1056.71 L1329.9 1056.84 L1330.4 1056.89 L1330.9 1056.9 L1331.4 1057.12 L1331.9 1057.08 L1332.4 1056.77 L1332.9 1056.79 L1333.4 1057.13 L1333.9 1056.83 L1334.4 1056.69 L1334.9 1056.51 L1335.4 1056.64 L1335.9 1057.16 L1336.4 1057.12 L1336.9 1057.31 L1337.4 1056.88 L1337.9 1057.16 L1338.4 1056.82 L1338.9 1057.18 L1339.4 1056.37 L1339.9 1057.28 L1340.4 1056.8 L1340.9 1057.21 L1341.4 1056.98 L1341.9 1057.12 L1342.4 1057.01 L1342.9 1057.29 L1343.4 1056.97 L1343.9 1057.25 L1344.4 1057.33 L1344.9 1056.77 L1345.4 1056.59 L1345.9 1057.17 L1346.4 1057.01 L1346.9 1057.02 L1347.4 1057.28 L1347.9 1056.71 L1348.4 1057.21 L1348.9 1057.35 L1349.4 1057.01 L1349.9 1056.96 L1350.4 1057.24 L1350.9 1057.35 L1351.4 1056.34 L1351.9 1056.58 L1352.4 1057.31 L1352.9 1056.58 L1353.4 1056.8 L1353.9 1057.36 L1354.4 1056.97 L1354.9 1057.33 L1355.4 1057 L1355.9 1057.26 L1356.4 1056.96 L1356.9 1057.15 L1357.4 1057.39 L1357.9 1057.13 L1358.4 1057.01 L1358.9 1055.92 L1359.4 1057.25 L1359.9 1056.55 L1360.4 1057.32 L1360.9 1056.99 L1361.4 1057.35 L1361.9 1056.76 L1362.4 1056.6 L1362.9 1057.32 L1363.4 1057.37 L1363.9 1056.52 L1364.4 1057.11 L1364.9 1057.4 L1365.4 1057.17 L1365.9 1057.07 L1366.4 1055.9 L1366.9 1057.23 L1367.4 1055.77 L1367.9 1056.98 L1368.4 1057.25 L1368.9 1057.24 L1369.4 1057.39 L1369.9 1056.93 L1370.4 1057.17 L1370.9 1057.2 L1371.4 1056.79 L1371.9 1057.05 L1372.4 1057.25 L1372.9 1057.03 L1373.4 1057.21 L1373.9 1057.28 L1374.4 1057.43 L1374.9 1057.34 L1375.4 1056.48 L1375.9 1057.15 L1376.4 1057.22 L1376.9 1057.1 L1377.4 1057 L1377.9 1057.36 L1378.4 1057.37 L1378.9 1057.23 L1379.4 1057.18 L1379.9 1056.97 L1380.4 1056.92 L1380.9 1057.36 L1381.4 1057.36 L1381.9 1056.35 L1382.4 1056.94 L1382.9 1057.35 L1383.4 1057.04 L1383.9 1057.39 L1384.4 1057.15 L1384.9 1057.38 L1385.4 1057.11 L1385.9 1056.86 L1386.4 1057.36 L1386.9 1057.37 L1387.4 1056.95 L1387.9 1057.28 L1388.4 1057.46 L1388.9 1056.94 L1389.4 1057.13 L1389.9 1056.68 L1390.4 1056.68 L1390.9 1056.88 L1391.4 1057.03 L1391.9 1056.77 L1392.4 1056.13 L1392.9 1056.39 L1393.4 1056.62 L1393.9 1056.98 L1394.4 1057.09 L1394.9 1057.36 L1395.4 1057.42 L1395.9 1057.08 L1396.4 1057.29 L1396.9 1057.28 L1397.4 1057.01 L1397.9 1056.92 L1398.4 1056.85 L1398.9 1057.26 L1399.4 1057.35 L1399.9 1056.95 L1400.4 1056.98 L1400.9 1057.46 L1401.4 1057.4 L1401.9 1056.73 L1402.4 1057.25 L1402.9 1057.26 L1403.4 1056.94 L1403.9 1057.07 L1404.4 1056.77 L1404.9 1056.89 L1405.4 1056.75 L1405.9 1056.88 L1406.4 1057.33 L1406.9 1056.95 L1407.4 1057.39 L1407.9 1057.3 L1408.4 1057.25 L1408.9 1056.33 L1409.4 1056.49 L1409.9 1056.94 L1410.4 1057.04 L1410.9 1057.44 L1411.4 1056.72 L1411.9 1057.29 L1412.4 1057.19 L1412.9 1057.4 L1413.4 1057.36 L1413.9 1057.31 L1414.4 1056.96 L1414.9 1057.45 L1415.4 1057.27 L1415.9 1057.5 L1416.4 1057.34 L1416.9 1057.1 L1417.4 1057.4 L1417.9 1057.38 L1418.4 1057.41 L1418.9 1057.09 L1419.4 1057.3 L1419.9 1057.12 L1420.4 1056.79 L1420.9 1057.27 L1421.4 1057.25 L1421.9 1057.15 L1422.4 1057.13 L1422.9 1056.97 L1423.4 1057.14 L1423.9 1057.2 L1424.4 1057 L1424.9 1057.52 L1425.4 1057.32 L1425.9 1056.76 L1426.4 1056.86 L1426.9 1056.69 L1427.4 1057.41 L1427.9 1057.53 L1428.4 1057.47 L1428.9 1057.19 L1429.4 1056.58 L1429.9 1057.38 L1430.4 1057.28 L1430.9 1056.72 L1431.4 1057.43 L1431.9 1057.14 L1432.4 1057.42 L1432.9 1056.99 L1433.4 1057.53 L1433.9 1056.84 L1434.4 1057.39 L1434.9 1057.05 L1435.4 1057.25 L1435.9 1056.84 L1436.4 1056.74 L1436.9 1057.42 L1437.4 1057.14 L1437.9 1056.64 L1438.4 1057.52 L1438.9 1057.44 L1439.4 1057.04 L1439.9 1057.09 L1440.4 1057.37 L1440.9 1057.27 L1441.4 1057.23 L1441.9 1057.29 L1442.4 1056.69 L1442.9 1057.21 L1443.4 1057.49 L1443.9 1057.37 L1444.4 1057.36 L1444.9 1056.75 L1445.4 1056.85 L1445.9 1056.72 L1446.4 1057.03 L1446.9 1057.26 L1447.4 1056.41 L1447.9 1057 L1448.4 1057.23 L1448.9 1056.73 L1449.4 1056.71 L1449.9 1057.07 L1450.4 1057.35 L1450.9 1057.46 L1451.4 1057.37 L1451.9 1057.38 L1452.4 1057.28 L1452.9 1057.24 L1453.4 1057 L1453.9 1057.34 L1454.4 1057.16 L1454.9 1056.97 L1455.4 1057.5 L1455.9 1057.31 L1456.4 1057.38 L1456.9 1056.54 L1457.4 1057.32 L1457.9 1056.95 L1458.4 1057.07 L1458.9 1056.86 L1459.4 1056.72 L1459.9 1057.43 L1460.4 1057.38 L1460.9 1057.52 L1461.4 1057.02 L1461.9 1057.17 L1462.4 1056.9 L1462.9 1057.36 L1463.4 1057.22 L1463.9 1057.4 L1464.4 1057.19 L1464.9 1057.29 L1465.4 1057.32 L1465.9 1057.26 L1466.4 1056.8 L1466.9 1057.05 L1467.4 1057.41 L1467.9 1057.31 L1468.4 1057.44 L1468.9 1056.7 L1469.4 1057.25 L1469.9 1057.24 L1470.4 1057.51 L1470.9 1056.95 L1471.4 1057.58 L1471.9 1057.34 L1472.4 1057.33 L1472.9 1057.55 L1473.4 1057.26 L1473.9 1057.39 L1474.4 1056.93 L1474.9 1056.54 L1475.4 1057.13 L1475.9 1057.37 L1476.4 1056.9 L1476.9 1057.26 L1477.4 1057.04 L1477.9 1057.55 L1478.4 1057.18 L1478.9 1057.39 L1479.4 1057.52 L1479.9 1057.55 L1480.4 1057.42 L1480.9 1056.62 L1481.4 1057.59 L1481.9 1057.16 L1482.4 1057.18 L1482.9 1057.23 L1483.4 1057.04 L1483.9 1056.79 L1484.4 1057.17 L1484.9 1057.12 L1485.4 1057.08 L1485.9 1057.6 L1486.4 1057.49 L1486.9 1056.24 L1487.4 1057.34 L1487.9 1056.79 L1488.4 1056.79 L1488.9 1057.36 L1489.4 1057.48 L1489.9 1057.35 L1490.4 1056.87 L1490.9 1056.81 L1491.4 1057.59 L1491.9 1057.22 L1492.4 1057.02 L1492.9 1057.59 L1493.4 1056.76 L1493.9 1057.02 L1494.4 1057.37 L1494.9 1056.43 L1495.4 1057.56 L1495.9 1057.44 L1496.4 1057.48 L1496.9 1057.59 L1497.4 1056.22 L1497.9 1057.52 L1498.4 1057.18 L1498.9 1057.51 L1499.4 1057.48 L1499.9 1057.48 L1500.4 1057.58 L1500.9 1057.27 L1501.4 1057.51 L1501.9 1057.08 L1502.4 1057.56 L1502.9 1057.41 L1503.4 1057.41 L1503.9 1057.11 L1504.4 1057.27 L1504.9 1057.18 L1505.4 1057.48 L1505.9 1056.73 L1506.4 1056.92 L1506.9 1057.6 L1507.4 1057.22 L1507.9 1057.33 L1508.4 1056.98 L1508.9 1057.38 L1509.4 1057.52 L1509.9 1057.4 L1510.4 1057.62 L1510.9 1057.49 L1511.4 1057.4 L1511.9 1057.42 L1512.4 1057.26 L1512.9 1057.61 L1513.4 1056.62 L1513.9 1056.84 L1514.4 1057.28 L1514.9 1056.99 L1515.4 1056.85 L1515.9 1057.53 L1516.4 1057.59 L1516.9 1057.07 L1517.4 1057.48 L1517.9 1057.29 L1518.4 1056.98 L1518.9 1057.39 L1519.4 1057.03 L1519.9 1057.45 L1520.4 1057.14 L1520.9 1057.4 L1521.4 1056.97 L1521.9 1056.98 L1522.4 1057.59 L1522.9 1057.12 L1523.4 1057.04 L1523.9 1057.13 L1524.4 1057.36 L1524.9 1056.66 L1525.4 1057.2 L1525.9 1057.51 L1526.4 1057.12 L1526.9 1056.63 L1527.4 1057.2 L1527.9 1057.62 L1528.4 1057.65 L1528.9 1057.17 L1529.4 1057.51 L1529.9 1057.16 L1530.4 1057.22 L1530.9 1057.46 L1531.4 1057.11 L1531.9 1056.95 L1532.4 1057.06 L1532.9 1057.32 L1533.4 1057.52 L1533.9 1057.66 L1534.4 1057.31 L1534.9 1057.3 L1535.4 1057.53 L1535.9 1057.49 L1536.4 1057.65 L1536.9 1057.3 L1537.4 1057.35 L1537.9 1057.43 L1538.4 1056.75 L1538.9 1056.71 L1539.4 1057.24 L1539.9 1057.55 L1540.4 1057.52 L1540.9 1057.44 L1541.4 1057.22 L1541.9 1057.52 L1542.4 1057.57 L1542.9 1057.39 L1543.4 1057.02 L1543.9 1057.53 L1544.4 1057.42 L1544.9 1057.45 L1545.4 1057.66 L1545.9 1056.75 L1546.4 1057.58 L1546.9 1057.62 L1547.4 1057.13 L1547.9 1056.91 L1548.4 1057.49 L1548.9 1057.32 L1549.4 1057.46 L1549.9 1057.49 L1550.4 1057.4 L1550.9 1057.53 L1551.4 1057.01 L1551.9 1057.64 L1552.4 1057.54 L1552.9 1057.39 L1553.4 1057.48 L1553.9 1057.51 L1554.4 1056.88 L1554.9 1057.17 L1555.4 1057.35 L1555.9 1057.23 L1556.4 1056.84 L1556.9 1057.35 L1557.4 1057.3 L1557.9 1057.51 L1558.4 1057.66 L1558.9 1057.63 L1559.4 1056.62 L1559.9 1057.69 L1560.4 1057.59 L1560.9 1057.53 L1561.4 1057.68 L1561.9 1057.59 L1562.4 1057.19 L1562.9 1056.82 L1563.4 1057.56 L1563.9 1056.98 L1564.4 1057.58 L1564.9 1057.64 L1565.4 1057.19 L1565.9 1056.96 L1566.4 1057.54 L1566.9 1057.45 L1567.4 1057.18 L1567.9 1057.35 L1568.4 1057.68 L1568.9 1056.79 L1569.4 1057.67 L1569.9 1057.7 L1570.4 1057.42 L1570.9 1057.56 L1571.4 1057.66 L1571.9 1057.38 L1572.4 1057.5 L1572.9 1056.92 L1573.4 1057.65 L1573.9 1057.02 L1574.4 1057.64 L1574.9 1057.55 L1575.4 1057.28 L1575.9 1057.08 L1576.4 1057.37 L1576.9 1057.36 L1577.4 1057.67 L1577.9 1057.29 L1578.4 1057.26 L1578.9 1057.71 L1579.4 1057.64 L1579.9 1057.52 L1580.4 1057.71 L1580.9 1057.55 L1581.4 1057.51 L1581.9 1057.54 L1582.4 1057.69 L1582.9 1057.42 L1583.4 1057.06 L1583.9 1057.42 L1584.4 1057.5 L1584.9 1057.71 L1585.4 1057.2 L1585.9 1056.98 L1586.4 1057.22 L1586.9 1056.75 L1587.4 1057.26 L1587.9 1057.5 L1588.4 1056.73 L1588.9 1056.91 L1589.4 1057.66 L1589.9 1057.69 L1590.4 1057.68 L1590.9 1057.38 L1591.4 1056.78 L1591.9 1057.66 L1592.4 1057.35 L1592.9 1055.92 L1593.4 1057.46 L1593.9 1057.57 L1594.4 1057.21 L1594.9 1057.66 L1595.4 1057.45 L1595.9 1057.63 L1596.4 1057.28 L1596.9 1057.31 L1597.4 1057.67 L1597.9 1057.29 L1598.4 1057.4 L1598.9 1057.32 L1599.4 1057.58 L1599.9 1057.72 L1600.4 1057.45 L1600.9 1057.68 L1601.4 1057.07 L1601.9 1057.46 L1602.4 1057.33 L1602.9 1057.36 L1603.4 1057.04 L1603.9 1057.58 L1604.4 1057.4 L1604.9 1057.05 L1605.4 1057.62 L1605.9 1056.99 L1606.4 1056.99 L1606.9 1057.41 L1607.4 1056.94 L1607.9 1057.38 L1608.4 1057.36 L1608.9 1057.25 L1609.4 1057.61 L1609.9 1057.57 L1610.4 1057.68 L1610.9 1057.16 L1611.4 1057.51 L1611.9 1057.45 L1612.4 1057.54 L1612.9 1057.44 L1613.4 1057.44 L1613.9 1057.57 L1614.4 1057.59 L1614.9 1057.49 L1615.4 1057.61 L1615.9 1057.31 L1616.4 1056.93 L1616.9 1057.24 L1617.4 1057.31 L1617.9 1057.26 L1618.4 1057.18 L1618.9 1057.6 L1619.4 1057.46 L1619.9 1057.62 L1620.4 1057.71 L1620.9 1057.57 L1621.4 1057.55 L1621.9 1057.65 L1622.4 1057.23 L1622.9 1057.54 L1623.4 1057.76 L1623.9 1057.72 L1624.4 1057.62 L1624.9 1057.45 L1625.4 1057.51 L1625.9 1057.72 L1626.4 1057.07 L1626.9 1056.81 L1627.4 1056.93 L1627.9 1057.1 L1628.4 1056.98 L1628.9 1057.57 L1629.4 1057.13 L1629.9 1057.58 L1630.4 1057.07 L1630.9 1056.97 L1631.4 1057.37 L1631.9 1056.75 L1632.4 1057.51 L1632.9 1057.46 L1633.4 1057.55 L1633.9 1057.59 L1634.4 1057.22 L1634.9 1057.23 L1635.4 1056.78 L1635.9 1057.55 L1636.4 1057.78 L1636.9 1057.5 L1637.4 1057.72 L1637.9 1056.86 L1638.4 1057.61 L1638.9 1057.27 L1639.4 1057.18 L1639.9 1057.47 L1640.4 1057.66 L1640.9 1056.88 L1641.4 1057.33 L1641.9 1056.99 L1642.4 1057.57 L1642.9 1057.76 L1643.4 1057.23 L1643.9 1057.78 L1644.4 1056.87 L1644.9 1057.67 L1645.4 1057.08 L1645.9 1057.06 L1646.4 1057.3 L1646.9 1057.64 L1647.4 1057.21 L1647.9 1057.6 L1648.4 1056.85 L1648.9 1057.27 L1649.4 1056.94 L1649.9 1057.49 L1650.4 1057.65 L1650.9 1057.75 L1651.4 1057.66 L1651.9 1057.28 L1652.4 1057.27 L1652.9 1057.64 L1653.4 1057.63 L1653.9 1057.29 L1654.4 1057.77 L1654.9 1057.07 L1655.4 1057.4 L1655.9 1057.38 L1656.4 1057.7 L1656.9 1057.63 L1657.4 1057.57 L1657.9 1057.36 L1658.4 1057.06 L1658.9 1057.05 L1659.4 1057.69 L1659.9 1057.68 L1660.4 1056.9 L1660.9 1057.78 L1661.4 1057.56 L1661.9 1057.79 L1662.4 1057.29 L1662.9 1057.59 L1663.4 1057.67 L1663.9 1057.72 L1664.4 1057.68 L1664.9 1057.3 L1665.4 1056.94 L1665.9 1057.78 L1666.4 1057.65 L1666.9 1057.7 L1667.4 1056.99 L1667.9 1057.49 L1668.4 1057.47 L1668.9 1057.74 L1669.4 1057.62 L1669.9 1057.12 L1670.4 1057.65 L1670.9 1057.05 L1671.4 1057.44 L1671.9 1057.7 L1672.4 1057.81 L1672.9 1057.79 L1673.4 1057.78 L1673.9 1056.9 L1674.4 1057.63 L1674.9 1057.32 L1675.4 1057.58 L1675.9 1057.56 L1676.4 1057.77 L1676.9 1057.59 L1677.4 1057.48 L1677.9 1057.11 L1678.4 1057.8 L1678.9 1057.7 L1679.4 1057.74 L1679.9 1057.76 L1680.4 1057.23 L1680.9 1057.62 L1681.4 1057.34 L1681.9 1056.52 L1682.4 1057.68 L1682.9 1057.37 L1683.4 1056.98 L1683.9 1057.81 L1684.4 1057.12 L1684.9 1057.57 L1685.4 1057.6 L1685.9 1057.09 L1686.4 1057.59 L1686.9 1057.38 L1687.4 1057.32 L1687.9 1057.52 L1688.4 1057.41 L1688.9 1056.76 L1689.4 1057.36 L1689.9 1057.83 L1690.4 1057.25 L1690.9 1057.27 L1691.4 1057.64 L1691.9 1057.46 L1692.4 1057.8 L1692.9 1057.84 L1693.4 1057.76 L1693.9 1057.06 L1694.4 1057.41 L1694.9 1057.45 L1695.4 1057.7 L1695.9 1057.84 L1696.4 1057.71 L1696.9 1057.17 L1697.4 1057.66 L1697.9 1057.82 L1698.4 1057.66 L1698.9 1057.24 L1699.4 1057.62 L1699.9 1057.81 L1700.4 1057.77 L1700.9 1057.81 L1701.4 1057.53 L1701.9 1057.66 L1702.4 1057.73 L1702.9 1057.57 L1703.4 1057.77 L1703.9 1057.86 L1704.4 1057.65 L1704.9 1057.15 L1705.4 1057.32 L1705.9 1057.34 L1706.4 1057.49 L1706.9 1057.84 L1707.4 1057.38 L1707.9 1057.83 L1708.4 1057.49 L1708.9 1057.39 L1709.4 1057.77 L1709.9 1057.8 L1710.4 1057.82 L1710.9 1057.43 L1711.4 1057.51 L1711.9 1057.75 L1712.4 1057.24 L1712.9 1057.73 L1713.4 1056.81 L1713.9 1057.1 L1714.4 1057.69 L1714.9 1057.86 L1715.4 1057.35 L1715.9 1057.85 L1716.4 1057.87 L1716.9 1057.79 L1717.4 1057.27 L1717.9 1057.45 L1718.4 1057.68 L1718.9 1057.79 L1719.4 1057.42 L1719.9 1057.77 L1720.4 1057.27 L1720.9 1057.64 L1721.4 1057.46 L1721.9 1057.69 L1722.4 1057.24 L1722.9 1056.97 L1723.4 1057.72 L1723.9 1057.62 L1724.4 1057.8 L1724.9 1057.68 L1725.4 1057.73 L1725.9 1057.82 L1726.4 1057.66 L1726.9 1057.72 L1727.4 1057.6 L1727.9 1056.76 L1728.4 1057.49 L1728.9 1057.58 L1729.4 1056.53 L1729.9 1057.5 L1730.4 1057.79 L1730.9 1057.79 L1731.4 1057.24 L1731.9 1057.28 L1732.4 1057.75 L1732.4 1060.18 L1731.9 1060.22 L1731.4 1060.19 L1730.9 1060.35 L1730.4 1060.23 L1729.9 1060.4 L1729.4 1060.07 L1728.9 1060.17 L1728.4 1060.41 L1727.9 1060.34 L1727.4 1060.35 L1726.9 1060.09 L1726.4 1060.3 L1725.9 1060.25 L1725.4 1060.22 L1724.9 1060.3 L1724.4 1060.21 L1723.9 1060.26 L1723.4 1060.53 L1722.9 1060.26 L1722.4 1060.37 L1721.9 1060.47 L1721.4 1060.3 L1720.9 1060.08 L1720.4 1060.45 L1719.9 1060.41 L1719.4 1060.07 L1718.9 1060.15 L1718.4 1060.19 L1717.9 1060.26 L1717.4 1060.48 L1716.9 1060.52 L1716.4 1060.34 L1715.9 1060.48 L1715.4 1060.2 L1714.9 1060.07 L1714.4 1060.42 L1713.9 1060.09 L1713.4 1060.45 L1712.9 1060.38 L1712.4 1060.35 L1711.9 1060.38 L1711.4 1060.12 L1710.9 1060.52 L1710.4 1060.23 L1709.9 1060.51 L1709.4 1060.08 L1708.9 1060.25 L1708.4 1060.13 L1707.9 1060.29 L1707.4 1060.23 L1706.9 1060.53 L1706.4 1060.32 L1705.9 1060.27 L1705.4 1060.31 L1704.9 1060.36 L1704.4 1060.37 L1703.9 1060.12 L1703.4 1060.38 L1702.9 1060.06 L1702.4 1060.47 L1701.9 1060.36 L1701.4 1060.25 L1700.9 1060.16 L1700.4 1060.44 L1699.9 1060.12 L1699.4 1060.28 L1698.9 1060.52 L1698.4 1060.25 L1697.9 1060.29 L1697.4 1060.42 L1696.9 1060.4 L1696.4 1060.55 L1695.9 1060.31 L1695.4 1060.21 L1694.9 1060.18 L1694.4 1060.25 L1693.9 1060.51 L1693.4 1060.32 L1692.9 1060.36 L1692.4 1060.15 L1691.9 1060.45 L1691.4 1060.42 L1690.9 1060.46 L1690.4 1060.44 L1689.9 1060.18 L1689.4 1060.23 L1688.9 1060.53 L1688.4 1060.27 L1687.9 1060.37 L1687.4 1060.17 L1686.9 1060.52 L1686.4 1060.34 L1685.9 1060.42 L1685.4 1060.44 L1684.9 1060.46 L1684.4 1060.17 L1683.9 1060.13 L1683.4 1060.23 L1682.9 1060.12 L1682.4 1060.06 L1681.9 1060.31 L1681.4 1060.26 L1680.9 1060.34 L1680.4 1060.44 L1679.9 1060.47 L1679.4 1060.21 L1678.9 1060.1 L1678.4 1060.48 L1677.9 1060.46 L1677.4 1060.35 L1676.9 1060.5 L1676.4 1060.27 L1675.9 1060.2 L1675.4 1060.11 L1674.9 1060.3 L1674.4 1060.24 L1673.9 1060.52 L1673.4 1060.26 L1672.9 1060.46 L1672.4 1060.16 L1671.9 1060.45 L1671.4 1060.17 L1670.9 1060.33 L1670.4 1060.12 L1669.9 1060.52 L1669.4 1060.31 L1668.9 1060.21 L1668.4 1060.38 L1667.9 1060.25 L1667.4 1060.19 L1666.9 1060.51 L1666.4 1060.38 L1665.9 1060.13 L1665.4 1060.16 L1664.9 1060.24 L1664.4 1060.14 L1663.9 1060.15 L1663.4 1060.51 L1662.9 1060.09 L1662.4 1060.39 L1661.9 1060.56 L1661.4 1060.48 L1660.9 1060.51 L1660.4 1060.32 L1659.9 1060.5 L1659.4 1060.25 L1658.9 1060.15 L1658.4 1060.53 L1657.9 1060.43 L1657.4 1060.31 L1656.9 1060.53 L1656.4 1060.08 L1655.9 1060.52 L1655.4 1060.5 L1654.9 1060.28 L1654.4 1060.22 L1653.9 1060.35 L1653.4 1060.22 L1652.9 1060.36 L1652.4 1060.08 L1651.9 1060.1 L1651.4 1060.18 L1650.9 1060.46 L1650.4 1060.18 L1649.9 1060.4 L1649.4 1060.21 L1648.9 1060.42 L1648.4 1060.34 L1647.9 1060.31 L1647.4 1060.25 L1646.9 1060.38 L1646.4 1060.23 L1645.9 1060.39 L1645.4 1060.09 L1644.9 1060.28 L1644.4 1060.49 L1643.9 1060.23 L1643.4 1060.45 L1642.9 1060.39 L1642.4 1060.38 L1641.9 1060.38 L1641.4 1060.34 L1640.9 1060.07 L1640.4 1060.41 L1639.9 1060.39 L1639.4 1060.17 L1638.9 1060.07 L1638.4 1060.25 L1637.9 1060.4 L1637.4 1060.16 L1636.9 1060.21 L1636.4 1060.23 L1635.9 1060.17 L1635.4 1060.53 L1634.9 1060.52 L1634.4 1060.07 L1633.9 1060.37 L1633.4 1060.17 L1632.9 1060.48 L1632.4 1060.53 L1631.9 1060.26 L1631.4 1060.14 L1630.9 1060.22 L1630.4 1060.39 L1629.9 1060.5 L1629.4 1060.22 L1628.9 1060.25 L1628.4 1060.4 L1627.9 1060.32 L1627.4 1060.2 L1626.9 1060.28 L1626.4 1060.33 L1625.9 1060.13 L1625.4 1060.55 L1624.9 1060.55 L1624.4 1060.22 L1623.9 1060.27 L1623.4 1060.5 L1622.9 1060.45 L1622.4 1060.13 L1621.9 1060.36 L1621.4 1060.32 L1620.9 1060.4 L1620.4 1060.17 L1619.9 1060.22 L1619.4 1060.43 L1618.9 1060.54 L1618.4 1060.22 L1617.9 1060.45 L1617.4 1060.52 L1616.9 1060.33 L1616.4 1060.32 L1615.9 1060.45 L1615.4 1060.33 L1614.9 1060.1 L1614.4 1060.27 L1613.9 1060.24 L1613.4 1060.51 L1612.9 1060.36 L1612.4 1060.45 L1611.9 1060.15 L1611.4 1060.46 L1610.9 1060.26 L1610.4 1060.14 L1609.9 1060.1 L1609.4 1060.51 L1608.9 1060.53 L1608.4 1060.35 L1607.9 1060.32 L1607.4 1060.08 L1606.9 1060.33 L1606.4 1060.33 L1605.9 1060.54 L1605.4 1060.48 L1604.9 1060.49 L1604.4 1060.34 L1603.9 1060.07 L1603.4 1060.42 L1602.9 1060.47 L1602.4 1060.44 L1601.9 1060.35 L1601.4 1060.35 L1600.9 1060.45 L1600.4 1060.13 L1599.9 1060.1 L1599.4 1060.35 L1598.9 1060.35 L1598.4 1060.57 L1597.9 1060.54 L1597.4 1060.49 L1596.9 1060.14 L1596.4 1060.13 L1595.9 1060.2 L1595.4 1060.12 L1594.9 1060.16 L1594.4 1060.32 L1593.9 1060.43 L1593.4 1060.12 L1592.9 1060.39 L1592.4 1060.49 L1591.9 1060.42 L1591.4 1060.51 L1590.9 1060.19 L1590.4 1060.49 L1589.9 1060.23 L1589.4 1060.27 L1588.9 1060.51 L1588.4 1060.45 L1587.9 1060.35 L1587.4 1060.35 L1586.9 1060.36 L1586.4 1060.13 L1585.9 1060.11 L1585.4 1060.48 L1584.9 1060.25 L1584.4 1060.27 L1583.9 1060.5 L1583.4 1060.56 L1582.9 1060.27 L1582.4 1060.16 L1581.9 1060.51 L1581.4 1060.4 L1580.9 1060.25 L1580.4 1060.31 L1579.9 1060.5 L1579.4 1060.11 L1578.9 1060.37 L1578.4 1060.09 L1577.9 1060.27 L1577.4 1060.27 L1576.9 1060.38 L1576.4 1060.24 L1575.9 1060.31 L1575.4 1060.33 L1574.9 1060.27 L1574.4 1060.08 L1573.9 1060.11 L1573.4 1060.54 L1572.9 1060.55 L1572.4 1060.12 L1571.9 1060.32 L1571.4 1060.2 L1570.9 1060.36 L1570.4 1060.31 L1569.9 1060.47 L1569.4 1060.42 L1568.9 1060.42 L1568.4 1060.35 L1567.9 1060.42 L1567.4 1060.16 L1566.9 1060.42 L1566.4 1060.1 L1565.9 1060.28 L1565.4 1060.13 L1564.9 1060.16 L1564.4 1060.14 L1563.9 1060.52 L1563.4 1060.29 L1562.9 1060.45 L1562.4 1060.44 L1561.9 1060.55 L1561.4 1060.53 L1560.9 1060.53 L1560.4 1060.3 L1559.9 1060.14 L1559.4 1060.3 L1558.9 1060.14 L1558.4 1060.36 L1557.9 1060.24 L1557.4 1060.23 L1556.9 1060.53 L1556.4 1060.23 L1555.9 1060.34 L1555.4 1060.57 L1554.9 1060.56 L1554.4 1060.45 L1553.9 1060.53 L1553.4 1060.14 L1552.9 1060.55 L1552.4 1060.17 L1551.9 1060.49 L1551.4 1060.53 L1550.9 1060.52 L1550.4 1060.26 L1549.9 1060.13 L1549.4 1060.39 L1548.9 1060.1 L1548.4 1060.22 L1547.9 1060.3 L1547.4 1060.42 L1546.9 1060.48 L1546.4 1060.45 L1545.9 1060.37 L1545.4 1060.56 L1544.9 1060.14 L1544.4 1060.33 L1543.9 1060.54 L1543.4 1060.14 L1542.9 1060.31 L1542.4 1060.17 L1541.9 1060.41 L1541.4 1060.35 L1540.9 1060.36 L1540.4 1060.56 L1539.9 1060.12 L1539.4 1060.47 L1538.9 1060.45 L1538.4 1060.52 L1537.9 1060.55 L1537.4 1060.46 L1536.9 1060.24 L1536.4 1060.39 L1535.9 1060.13 L1535.4 1060.27 L1534.9 1060.12 L1534.4 1060.2 L1533.9 1060.22 L1533.4 1060.27 L1532.9 1060.35 L1532.4 1060.12 L1531.9 1060.53 L1531.4 1060.15 L1530.9 1060.41 L1530.4 1060.57 L1529.9 1060.14 L1529.4 1060.08 L1528.9 1060.52 L1528.4 1060.55 L1527.9 1060.38 L1527.4 1060.48 L1526.9 1060.48 L1526.4 1060.48 L1525.9 1060.42 L1525.4 1060.55 L1524.9 1060.49 L1524.4 1060.4 L1523.9 1060.27 L1523.4 1060.11 L1522.9 1060.26 L1522.4 1060.55 L1521.9 1060.34 L1521.4 1060.31 L1520.9 1060.35 L1520.4 1060.54 L1519.9 1060.49 L1519.4 1060.52 L1518.9 1060.41 L1518.4 1060.28 L1517.9 1060.21 L1517.4 1060.33 L1516.9 1060.54 L1516.4 1060.35 L1515.9 1060.58 L1515.4 1060.44 L1514.9 1060.49 L1514.4 1060.11 L1513.9 1060.28 L1513.4 1060.51 L1512.9 1060.15 L1512.4 1060.51 L1511.9 1060.09 L1511.4 1060.12 L1510.9 1060.29 L1510.4 1060.31 L1509.9 1060.44 L1509.4 1060.51 L1508.9 1060.46 L1508.4 1060.47 L1507.9 1060.46 L1507.4 1060.41 L1506.9 1060.24 L1506.4 1060.22 L1505.9 1060.19 L1505.4 1060.09 L1504.9 1060.1 L1504.4 1060.09 L1503.9 1060.26 L1503.4 1060.5 L1502.9 1060.39 L1502.4 1060.58 L1501.9 1060.4 L1501.4 1060.23 L1500.9 1060.39 L1500.4 1060.13 L1499.9 1060.37 L1499.4 1060.51 L1498.9 1060.37 L1498.4 1060.38 L1497.9 1060.56 L1497.4 1060.37 L1496.9 1060.52 L1496.4 1060.16 L1495.9 1060.43 L1495.4 1060.24 L1494.9 1060.4 L1494.4 1060.47 L1493.9 1060.16 L1493.4 1060.14 L1492.9 1060.51 L1492.4 1060.13 L1491.9 1060.55 L1491.4 1060.22 L1490.9 1060.14 L1490.4 1060.24 L1489.9 1060.52 L1489.4 1060.34 L1488.9 1060.14 L1488.4 1060.47 L1487.9 1060.11 L1487.4 1060.21 L1486.9 1060.12 L1486.4 1060.49 L1485.9 1060.29 L1485.4 1060.22 L1484.9 1060.25 L1484.4 1060.22 L1483.9 1060.18 L1483.4 1060.55 L1482.9 1060.18 L1482.4 1060.52 L1481.9 1060.27 L1481.4 1060.43 L1480.9 1060.14 L1480.4 1060.12 L1479.9 1060.17 L1479.4 1060.21 L1478.9 1060.32 L1478.4 1060.58 L1477.9 1060.31 L1477.4 1060.53 L1476.9 1060.34 L1476.4 1060.56 L1475.9 1060.29 L1475.4 1060.58 L1474.9 1060.17 L1474.4 1060.13 L1473.9 1060.26 L1473.4 1060.35 L1472.9 1060.26 L1472.4 1060.43 L1471.9 1060.11 L1471.4 1060.53 L1470.9 1060.22 L1470.4 1060.53 L1469.9 1060.42 L1469.4 1060.25 L1468.9 1060.3 L1468.4 1060.36 L1467.9 1060.33 L1467.4 1060.21 L1466.9 1060.32 L1466.4 1060.49 L1465.9 1060.44 L1465.4 1060.1 L1464.9 1060.49 L1464.4 1060.42 L1463.9 1060.56 L1463.4 1060.22 L1462.9 1060.36 L1462.4 1060.1 L1461.9 1060.31 L1461.4 1060.33 L1460.9 1060.22 L1460.4 1060.45 L1459.9 1060.51 L1459.4 1060.5 L1458.9 1060.5 L1458.4 1060.13 L1457.9 1060.47 L1457.4 1060.56 L1456.9 1060.45 L1456.4 1060.21 L1455.9 1060.1 L1455.4 1060.11 L1454.9 1060.31 L1454.4 1060.23 L1453.9 1060.23 L1453.4 1060.26 L1452.9 1060.12 L1452.4 1060.32 L1451.9 1060.33 L1451.4 1060.16 L1450.9 1060.1 L1450.4 1060.36 L1449.9 1060.13 L1449.4 1060.37 L1448.9 1060.56 L1448.4 1060.32 L1447.9 1060.38 L1447.4 1060.28 L1446.9 1060.48 L1446.4 1060.53 L1445.9 1060.23 L1445.4 1060.48 L1444.9 1060.17 L1444.4 1060.55 L1443.9 1060.5 L1443.4 1060.55 L1442.9 1060.38 L1442.4 1060.14 L1441.9 1060.49 L1441.4 1060.45 L1440.9 1060.37 L1440.4 1060.57 L1439.9 1060.39 L1439.4 1060.36 L1438.9 1060.27 L1438.4 1060.49 L1437.9 1060.57 L1437.4 1060.11 L1436.9 1060.25 L1436.4 1060.38 L1435.9 1060.34 L1435.4 1060.21 L1434.9 1060.42 L1434.4 1060.39 L1433.9 1060.53 L1433.4 1060.53 L1432.9 1060.21 L1432.4 1060.53 L1431.9 1060.39 L1431.4 1060.47 L1430.9 1060.47 L1430.4 1060.57 L1429.9 1060.2 L1429.4 1060.58 L1428.9 1060.26 L1428.4 1060.45 L1427.9 1060.11 L1427.4 1060.18 L1426.9 1060.12 L1426.4 1060.51 L1425.9 1060.54 L1425.4 1060.41 L1424.9 1060.41 L1424.4 1060.26 L1423.9 1060.32 L1423.4 1060.18 L1422.9 1060.46 L1422.4 1060.2 L1421.9 1060.55 L1421.4 1060.47 L1420.9 1060.42 L1420.4 1060.48 L1419.9 1060.53 L1419.4 1060.45 L1418.9 1060.56 L1418.4 1060.56 L1417.9 1060.19 L1417.4 1060.39 L1416.9 1060.14 L1416.4 1060.53 L1415.9 1060.23 L1415.4 1060.35 L1414.9 1060.4 L1414.4 1060.31 L1413.9 1060.23 L1413.4 1060.46 L1412.9 1060.12 L1412.4 1060.4 L1411.9 1060.42 L1411.4 1060.28 L1410.9 1060.56 L1410.4 1060.55 L1409.9 1060.45 L1409.4 1060.45 L1408.9 1060.11 L1408.4 1060.32 L1407.9 1060.36 L1407.4 1060.21 L1406.9 1060.35 L1406.4 1060.44 L1405.9 1060.16 L1405.4 1060.38 L1404.9 1060.24 L1404.4 1060.13 L1403.9 1060.38 L1403.4 1060.11 L1402.9 1060.53 L1402.4 1060.27 L1401.9 1060.48 L1401.4 1060.13 L1400.9 1060.55 L1400.4 1060.3 L1399.9 1060.52 L1399.4 1060.55 L1398.9 1060.56 L1398.4 1060.3 L1397.9 1060.43 L1397.4 1060.2 L1396.9 1060.22 L1396.4 1060.35 L1395.9 1060.13 L1395.4 1060.38 L1394.9 1060.48 L1394.4 1060.16 L1393.9 1060.36 L1393.4 1060.12 L1392.9 1060.48 L1392.4 1060.39 L1391.9 1060.15 L1391.4 1060.28 L1390.9 1060.29 L1390.4 1060.14 L1389.9 1060.43 L1389.4 1060.46 L1388.9 1060.39 L1388.4 1060.38 L1387.9 1060.27 L1387.4 1060.14 L1386.9 1060.17 L1386.4 1060.27 L1385.9 1060.56 L1385.4 1060.34 L1384.9 1060.33 L1384.4 1060.29 L1383.9 1060.38 L1383.4 1060.42 L1382.9 1060.37 L1382.4 1060.46 L1381.9 1060.1 L1381.4 1060.24 L1380.9 1060.23 L1380.4 1060.27 L1379.9 1060.36 L1379.4 1060.11 L1378.9 1060.29 L1378.4 1060.5 L1377.9 1060.26 L1377.4 1060.44 L1376.9 1060.26 L1376.4 1060.6 L1375.9 1060.33 L1375.4 1060.31 L1374.9 1060.24 L1374.4 1060.5 L1373.9 1060.23 L1373.4 1060.28 L1372.9 1060.29 L1372.4 1060.28 L1371.9 1060.24 L1371.4 1060.57 L1370.9 1060.44 L1370.4 1060.55 L1369.9 1060.42 L1369.4 1060.18 L1368.9 1060.17 L1368.4 1060.44 L1367.9 1060.28 L1367.4 1060.24 L1366.9 1060.3 L1366.4 1060.53 L1365.9 1060.17 L1365.4 1060.18 L1364.9 1060.38 L1364.4 1060.49 L1363.9 1060.18 L1363.4 1060.49 L1362.9 1060.45 L1362.4 1060.52 L1361.9 1060.11 L1361.4 1060.47 L1360.9 1060.35 L1360.4 1060.21 L1359.9 1060.55 L1359.4 1060.44 L1358.9 1060.55 L1358.4 1060.11 L1357.9 1060.43 L1357.4 1060.26 L1356.9 1060.53 L1356.4 1060.48 L1355.9 1060.35 L1355.4 1060.23 L1354.9 1060.17 L1354.4 1060.42 L1353.9 1060.2 L1353.4 1060.11 L1352.9 1060.59 L1352.4 1060.19 L1351.9 1060.45 L1351.4 1060.32 L1350.9 1060.39 L1350.4 1060.11 L1349.9 1060.24 L1349.4 1060.27 L1348.9 1060.36 L1348.4 1060.19 L1347.9 1060.42 L1347.4 1060.15 L1346.9 1060.54 L1346.4 1060.35 L1345.9 1060.15 L1345.4 1060.3 L1344.9 1060.4 L1344.4 1060.11 L1343.9 1060.17 L1343.4 1060.15 L1342.9 1060.59 L1342.4 1060.21 L1341.9 1060.5 L1341.4 1060.6 L1340.9 1060.17 L1340.4 1060.46 L1339.9 1060.59 L1339.4 1060.53 L1338.9 1060.15 L1338.4 1060.57 L1337.9 1060.33 L1337.4 1060.55 L1336.9 1060.21 L1336.4 1060.55 L1335.9 1060.14 L1335.4 1060.2 L1334.9 1060.27 L1334.4 1060.57 L1333.9 1060.27 L1333.4 1060.46 L1332.9 1060.38 L1332.4 1060.19 L1331.9 1060.56 L1331.4 1060.12 L1330.9 1060.18 L1330.4 1060.52 L1329.9 1060.26 L1329.4 1060.34 L1328.9 1060.23 L1328.4 1060.36 L1327.9 1060.29 L1327.4 1060.54 L1326.9 1060.38 L1326.4 1060.2 L1325.9 1060.54 L1325.4 1060.53 L1324.9 1060.13 L1324.4 1060.28 L1323.9 1060.29 L1323.4 1060.18 L1322.9 1060.26 L1322.4 1060.59 L1321.9 1060.2 L1321.4 1060.52 L1320.9 1060.47 L1320.4 1060.58 L1319.9 1060.16 L1319.4 1060.13 L1318.9 1060.45 L1318.4 1060.44 L1317.9 1060.27 L1317.4 1060.38 L1316.9 1060.58 L1316.4 1060.5 L1315.9 1060.59 L1315.4 1060.35 L1314.9 1060.27 L1314.4 1060.58 L1313.9 1060.21 L1313.4 1060.59 L1312.9 1060.29 L1312.4 1060.37 L1311.9 1060.23 L1311.4 1060.24 L1310.9 1060.2 L1310.4 1060.22 L1309.9 1060.27 L1309.4 1060.55 L1308.9 1060.31 L1308.4 1060.43 L1307.9 1060.18 L1307.4 1060.29 L1306.9 1060.45 L1306.4 1060.35 L1305.9 1060.42 L1305.4 1060.11 L1304.9 1060.28 L1304.4 1060.55 L1303.9 1060.12 L1303.4 1060.21 L1302.9 1060.3 L1302.4 1060.15 L1301.9 1060.22 L1301.4 1060.29 L1300.9 1060.31 L1300.4 1060.21 L1299.9 1060.6 L1299.4 1060.27 L1298.9 1060.41 L1298.4 1060.27 L1297.9 1060.56 L1297.4 1060.21 L1296.9 1060.14 L1296.4 1060.11 L1295.9 1060.23 L1295.4 1060.15 L1294.9 1060.59 L1294.4 1060.45 L1293.9 1060.4 L1293.4 1060.39 L1292.9 1060.4 L1292.4 1060.38 L1291.9 1060.38 L1291.4 1060.57 L1290.9 1060.43 L1290.4 1060.11 L1289.9 1060.58 L1289.4 1060.59 L1288.9 1060.18 L1288.4 1060.51 L1287.9 1060.25 L1287.4 1060.19 L1286.9 1060.56 L1286.4 1060.2 L1285.9 1060.57 L1285.4 1060.56 L1284.9 1060.49 L1284.4 1060.49 L1283.9 1060.56 L1283.4 1060.53 L1282.9 1060.28 L1282.4 1060.29 L1281.9 1060.33 L1281.4 1060.18 L1280.9 1060.3 L1280.4 1060.16 L1279.9 1060.38 L1279.4 1060.54 L1278.9 1060.31 L1278.4 1060.49 L1277.9 1060.33 L1277.4 1060.23 L1276.9 1060.55 L1276.4 1060.33 L1275.9 1060.33 L1275.4 1060.29 L1274.9 1060.56 L1274.4 1060.4 L1273.9 1060.32 L1273.4 1060.4 L1272.9 1060.37 L1272.4 1060.4 L1271.9 1060.5 L1271.4 1060.52 L1270.9 1060.43 L1270.4 1060.19 L1269.9 1060.57 L1269.4 1060.56 L1268.9 1060.38 L1268.4 1060.42 L1267.9 1060.17 L1267.4 1060.13 L1266.9 1060.39 L1266.4 1060.15 L1265.9 1060.6 L1265.4 1060.58 L1264.9 1060.31 L1264.4 1060.22 L1263.9 1060.13 L1263.4 1060.26 L1262.9 1060.31 L1262.4 1060.57 L1261.9 1060.16 L1261.4 1060.61 L1260.9 1060.2 L1260.4 1060.51 L1259.9 1060.12 L1259.4 1060.59 L1258.9 1060.26 L1258.4 1060.46 L1257.9 1060.34 L1257.4 1060.17 L1256.9 1060.21 L1256.4 1060.24 L1255.9 1060.46 L1255.4 1060.53 L1254.9 1060.29 L1254.4 1060.55 L1253.9 1060.29 L1253.4 1060.19 L1252.9 1060.29 L1252.4 1060.57 L1251.9 1060.35 L1251.4 1060.51 L1250.9 1060.27 L1250.4 1060.33 L1249.9 1060.31 L1249.4 1060.31 L1248.9 1060.18 L1248.4 1060.33 L1247.9 1060.13 L1247.4 1060.41 L1246.9 1060.43 L1246.4 1060.55 L1245.9 1060.27 L1245.4 1060.14 L1244.9 1060.36 L1244.4 1060.25 L1243.9 1060.13 L1243.4 1060.61 L1242.9 1060.17 L1242.4 1060.29 L1241.9 1060.54 L1241.4 1060.46 L1240.9 1060.45 L1240.4 1060.48 L1239.9 1060.6 L1239.4 1060.21 L1238.9 1060.41 L1238.4 1060.44 L1237.9 1060.6 L1237.4 1060.57 L1236.9 1060.53 L1236.4 1060.15 L1235.9 1060.34 L1235.4 1060.42 L1234.9 1060.18 L1234.4 1060.37 L1233.9 1060.61 L1233.4 1060.39 L1232.9 1060.57 L1232.4 1060.22 L1231.9 1060.55 L1231.4 1060.2 L1230.9 1060.16 L1230.4 1060.49 L1229.9 1060.54 L1229.4 1060.13 L1228.9 1060.6 L1228.4 1060.54 L1227.9 1060.28 L1227.4 1060.19 L1226.9 1060.26 L1226.4 1060.22 L1225.9 1060.48 L1225.4 1060.34 L1224.9 1060.39 L1224.4 1060.26 L1223.9 1060.43 L1223.4 1060.22 L1222.9 1060.59 L1222.4 1060.13 L1221.9 1060.24 L1221.4 1060.22 L1220.9 1060.25 L1220.4 1060.58 L1219.9 1060.51 L1219.4 1060.59 L1218.9 1060.55 L1218.4 1060.29 L1217.9 1060.55 L1217.4 1060.23 L1216.9 1060.18 L1216.4 1060.18 L1215.9 1060.31 L1215.4 1060.56 L1214.9 1060.35 L1214.4 1060.13 L1213.9 1060.17 L1213.4 1060.56 L1212.9 1060.46 L1212.4 1060.59 L1211.9 1060.52 L1211.4 1060.51 L1210.9 1060.42 L1210.4 1060.33 L1209.9 1060.33 L1209.4 1060.32 L1208.9 1060.13 L1208.4 1060.16 L1207.9 1060.56 L1207.4 1060.56 L1206.9 1060.58 L1206.4 1060.62 L1205.9 1060.24 L1205.4 1060.51 L1204.9 1060.14 L1204.4 1060.31 L1203.9 1060.54 L1203.4 1060.17 L1202.9 1060.47 L1202.4 1060.21 L1201.9 1060.13 L1201.4 1060.46 L1200.9 1060.35 L1200.4 1060.31 L1199.9 1060.31 L1199.4 1060.2 L1198.9 1060.45 L1198.4 1060.51 L1197.9 1060.18 L1197.4 1060.52 L1196.9 1060.23 L1196.4 1060.36 L1195.9 1060.23 L1195.4 1060.36 L1194.9 1060.15 L1194.4 1060.21 L1193.9 1060.26 L1193.4 1060.17 L1192.9 1060.45 L1192.4 1060.29 L1191.9 1060.28 L1191.4 1060.13 L1190.9 1060.49 L1190.4 1060.45 L1189.9 1060.46 L1189.4 1060.46 L1188.9 1060.17 L1188.4 1060.6 L1187.9 1060.61 L1187.4 1060.18 L1186.9 1060.43 L1186.4 1060.61 L1185.9 1060.58 L1185.4 1060.38 L1184.9 1060.28 L1184.4 1060.25 L1183.9 1060.2 L1183.4 1060.47 L1182.9 1060.55 L1182.4 1060.13 L1181.9 1060.51 L1181.4 1060.31 L1180.9 1060.49 L1180.4 1060.28 L1179.9 1060.53 L1179.4 1060.55 L1178.9 1060.47 L1178.4 1060.4 L1177.9 1060.32 L1177.4 1060.33 L1176.9 1060.56 L1176.4 1060.62 L1175.9 1060.59 L1175.4 1060.4 L1174.9 1060.57 L1174.4 1060.31 L1173.9 1060.32 L1173.4 1060.21 L1172.9 1060.31 L1172.4 1060.52 L1171.9 1060.61 L1171.4 1060.32 L1170.9 1060.28 L1170.4 1060.6 L1169.9 1060.28 L1169.4 1060.13 L1168.9 1060.33 L1168.4 1060.61 L1167.9 1060.19 L1167.4 1060.41 L1166.9 1060.27 L1166.4 1060.38 L1165.9 1060.35 L1165.4 1060.57 L1164.9 1060.58 L1164.4 1060.35 L1163.9 1060.38 L1163.4 1060.27 L1162.9 1060.42 L1162.4 1060.42 L1161.9 1060.5 L1161.4 1060.33 L1160.9 1060.18 L1160.4 1060.34 L1159.9 1060.43 L1159.4 1060.15 L1158.9 1060.58 L1158.4 1060.43 L1157.9 1060.58 L1157.4 1060.27 L1156.9 1060.48 L1156.4 1060.16 L1155.9 1060.62 L1155.4 1060.38 L1154.9 1060.2 L1154.4 1060.58 L1153.9 1060.55 L1153.4 1060.45 L1152.9 1060.17 L1152.4 1060.37 L1151.9 1060.29 L1151.4 1060.14 L1150.9 1060.57 L1150.4 1060.38 L1149.9 1060.46 L1149.4 1060.15 L1148.9 1060.62 L1148.4 1060.32 L1147.9 1060.53 L1147.4 1060.6 L1146.9 1060.33 L1146.4 1060.29 L1145.9 1060.6 L1145.4 1060.13 L1144.9 1060.59 L1144.4 1060.45 L1143.9 1060.2 L1143.4 1060.47 L1142.9 1060.34 L1142.4 1060.48 L1141.9 1060.6 L1141.4 1060.16 L1140.9 1060.51 L1140.4 1060.17 L1139.9 1060.24 L1139.4 1060.54 L1138.9 1060.54 L1138.4 1060.44 L1137.9 1060.57 L1137.4 1060.34 L1136.9 1060.46 L1136.4 1060.21 L1135.9 1060.5 L1135.4 1060.46 L1134.9 1060.45 L1134.4 1060.34 L1133.9 1060.45 L1133.4 1060.45 L1132.9 1060.32 L1132.4 1060.37 L1131.9 1060.63 L1131.4 1060.47 L1130.9 1060.34 L1130.4 1060.33 L1129.9 1060.37 L1129.4 1060.44 L1128.9 1060.26 L1128.4 1060.54 L1127.9 1060.55 L1127.4 1060.52 L1126.9 1060.55 L1126.4 1060.18 L1125.9 1060.32 L1125.4 1060.51 L1124.9 1060.53 L1124.4 1060.17 L1123.9 1060.33 L1123.4 1060.48 L1122.9 1060.42 L1122.4 1060.14 L1121.9 1060.59 L1121.4 1060.38 L1120.9 1060.62 L1120.4 1060.4 L1119.9 1060.33 L1119.4 1060.47 L1118.9 1060.49 L1118.4 1060.39 L1117.9 1060.6 L1117.4 1060.19 L1116.9 1060.61 L1116.4 1060.45 L1115.9 1060.49 L1115.4 1060.55 L1114.9 1060.39 L1114.4 1060.54 L1113.9 1060.38 L1113.4 1060.53 L1112.9 1060.14 L1112.4 1060.63 L1111.9 1060.26 L1111.4 1060.57 L1110.9 1060.26 L1110.4 1060.51 L1109.9 1060.37 L1109.4 1060.55 L1108.9 1060.62 L1108.4 1060.63 L1107.9 1060.44 L1107.4 1060.48 L1106.9 1060.45 L1106.4 1060.24 L1105.9 1060.16 L1105.4 1060.38 L1104.9 1060.26 L1104.4 1060.42 L1103.9 1060.6 L1103.4 1060.21 L1102.9 1060.22 L1102.4 1060.2 L1101.9 1060.2 L1101.4 1060.38 L1100.9 1060.16 L1100.4 1060.52 L1099.9 1060.48 L1099.4 1060.46 L1098.9 1060.24 L1098.4 1060.54 L1097.9 1060.18 L1097.4 1060.59 L1096.9 1060.25 L1096.4 1060.39 L1095.9 1060.17 L1095.4 1060.61 L1094.9 1060.53 L1094.4 1060.23 L1093.9 1060.4 L1093.4 1060.61 L1092.9 1060.41 L1092.4 1060.5 L1091.9 1060.61 L1091.4 1060.15 L1090.9 1060.43 L1090.4 1060.45 L1089.9 1060.17 L1089.4 1060.27 L1088.9 1060.16 L1088.4 1060.23 L1087.9 1060.28 L1087.4 1060.61 L1086.9 1060.3 L1086.4 1060.49 L1085.9 1060.45 L1085.4 1060.35 L1084.9 1060.62 L1084.4 1060.25 L1083.9 1060.25 L1083.4 1060.32 L1082.9 1060.32 L1082.4 1060.27 L1081.9 1060.29 L1081.4 1060.38 L1080.9 1060.55 L1080.4 1060.2 L1079.9 1060.61 L1079.4 1060.3 L1078.9 1060.48 L1078.4 1060.21 L1077.9 1060.18 L1077.4 1060.32 L1076.9 1060.5 L1076.4 1060.5 L1075.9 1060.54 L1075.4 1060.2 L1074.9 1060.62 L1074.4 1060.44 L1073.9 1060.5 L1073.4 1060.64 L1072.9 1060.57 L1072.4 1060.49 L1071.9 1060.19 L1071.4 1060.51 L1070.9 1060.43 L1070.4 1060.6 L1069.9 1060.37 L1069.4 1060.24 L1068.9 1060.23 L1068.4 1060.23 L1067.9 1060.16 L1067.4 1060.31 L1066.9 1060.45 L1066.4 1060.21 L1065.9 1060.22 L1065.4 1060.34 L1064.9 1060.34 L1064.4 1060.48 L1063.9 1060.46 L1063.4 1060.57 L1062.9 1060.16 L1062.4 1060.59 L1061.9 1060.24 L1061.4 1060.62 L1060.9 1060.14 L1060.4 1060.62 L1059.9 1060.44 L1059.4 1060.59 L1058.9 1060.36 L1058.4 1060.36 L1057.9 1060.32 L1057.4 1060.57 L1056.9 1060.31 L1056.4 1060.47 L1055.9 1060.33 L1055.4 1060.31 L1054.9 1060.37 L1054.4 1060.3 L1053.9 1060.15 L1053.4 1060.32 L1052.9 1060.41 L1052.4 1060.49 L1051.9 1060.34 L1051.4 1060.42 L1050.9 1060.15 L1050.4 1060.57 L1049.9 1060.5 L1049.4 1060.44 L1048.9 1060.46 L1048.4 1060.31 L1047.9 1060.28 L1047.4 1060.16 L1046.9 1060.63 L1046.4 1060.32 L1045.9 1060.47 L1045.4 1060.5 L1044.9 1060.18 L1044.4 1060.63 L1043.9 1060.23 L1043.4 1060.4 L1042.9 1060.35 L1042.4 1060.52 L1041.9 1060.32 L1041.4 1060.42 L1040.9 1060.38 L1040.4 1060.39 L1039.9 1060.49 L1039.4 1060.51 L1038.9 1060.35 L1038.4 1060.63 L1037.9 1060.58 L1037.4 1060.23 L1036.9 1060.24 L1036.4 1060.35 L1035.9 1060.41 L1035.4 1060.59 L1034.9 1060.25 L1034.4 1060.53 L1033.9 1060.48 L1033.4 1060.6 L1032.9 1060.21 L1032.4 1060.63 L1031.9 1060.18 L1031.4 1060.43 L1030.9 1060.32 L1030.4 1060.31 L1029.9 1060.55 L1029.4 1060.36 L1028.9 1060.56 L1028.4 1060.2 L1027.9 1060.29 L1027.4 1060.5 L1026.9 1060.23 L1026.4 1060.27 L1025.9 1060.19 L1025.4 1060.44 L1024.9 1060.24 L1024.4 1060.3 L1023.9 1060.3 L1023.4 1060.29 L1022.9 1060.36 L1022.4 1060.38 L1021.9 1060.32 L1021.4 1060.29 L1020.9 1060.39 L1020.4 1060.31 L1019.9 1060.47 L1019.4 1060.56 L1018.9 1060.6 L1018.4 1060.52 L1017.9 1060.52 L1017.4 1060.45 L1016.9 1060.56 L1016.4 1060.29 L1015.9 1060.61 L1015.4 1060.15 L1014.9 1060.39 L1014.4 1060.64 L1013.9 1060.37 L1013.4 1060.52 L1012.9 1060.3 L1012.4 1060.53 L1011.9 1060.63 L1011.4 1060.46 L1010.9 1060.45 L1010.4 1060.41 L1009.9 1060.47 L1009.4 1060.22 L1008.9 1060.27 L1008.4 1060.64 L1007.9 1060.64 L1007.4 1060.25 L1006.9 1060.49 L1006.4 1060.42 L1005.9 1060.18 L1005.4 1060.61 L1004.9 1060.17 L1004.4 1060.29 L1003.9 1060.21 L1003.4 1060.57 L1002.9 1060.4 L1002.4 1060.54 L1001.9 1060.36 L1001.4 1060.28 L1000.9 1060.28 L1000.4 1060.36 L999.9 1060.32 L999.4 1060.55 L998.9 1060.48 L998.4 1060.61 L997.9 1060.25 L997.4 1060.48 L996.9 1060.3 L996.4 1060.32 L995.9 1060.57 L995.4 1060.22 L994.9 1060.43 L994.4 1060.48 L993.9 1060.47 L993.4 1060.26 L992.9 1060.35 L992.4 1060.38 L991.9 1060.59 L991.4 1060.28 L990.9 1060.6 L990.4 1060.6 L989.9 1060.29 L989.4 1060.62 L988.9 1060.68 L988.4 1060.25 L987.9 1060.31 L987.4 1060.56 L986.9 1060.5 L986.4 1060.44 L985.9 1060.26 L985.4 1060.55 L984.9 1060.47 L984.4 1060.67 L983.9 1060.7 L983.4 1060.24 L982.9 1060.35 L982.4 1060.56 L981.9 1060.58 L981.4 1060.57 L980.9 1060.5 L980.4 1060.59 L979.9 1060.33 L979.4 1060.66 L978.9 1060.43 L978.4 1060.43 L977.9 1060.67 L977.4 1060.65 L976.9 1060.65 L976.4 1060.63 L975.9 1060.45 L975.4 1060.48 L974.9 1060.4 L974.4 1060.42 L973.9 1060.5 L973.4 1060.62 L972.9 1060.48 L972.4 1060.51 L971.9 1060.68 L971.4 1060.58 L970.9 1060.69 L970.4 1060.66 L969.9 1060.74 L969.4 1060.72 L968.9 1060.31 L968.4 1060.65 L967.9 1060.44 L967.4 1060.3 L966.9 1060.66 L966.4 1060.75 L965.9 1060.46 L965.4 1060.81 L964.9 1060.54 L964.4 1060.55 L963.9 1060.79 L963.4 1060.68 L962.9 1060.42 L962.4 1060.65 L961.9 1060.33 L961.4 1060.49 L960.9 1060.38 L960.4 1060.35 L959.9 1060.76 L959.4 1060.41 L958.9 1060.68 L958.4 1060.36 L957.9 1060.83 L957.4 1060.81 L956.9 1060.62 L956.4 1060.38 L955.9 1060.58 L955.4 1060.41 L954.9 1060.46 L954.4 1060.4 L953.9 1060.75 L953.4 1060.8 L952.9 1060.78 L952.4 1060.74 L951.9 1060.74 L951.4 1060.85 L950.9 1060.78 L950.4 1060.54 L949.9 1060.79 L949.4 1060.85 L948.9 1060.47 L948.4 1060.83 L947.9 1060.82 L947.4 1060.85 L946.9 1060.74 L946.4 1060.63 L945.9 1060.58 L945.4 1060.88 L944.9 1060.61 L944.4 1060.66 L943.9 1060.67 L943.4 1060.78 L942.9 1060.42 L942.4 1060.47 L941.9 1060.48 L941.4 1060.56 L940.9 1060.83 L940.4 1060.48 L939.9 1060.6 L939.4 1060.62 L938.9 1060.44 L938.4 1060.67 L937.9 1060.61 L937.4 1060.93 L936.9 1060.88 L936.4 1060.89 L935.9 1060.68 L935.4 1060.93 L934.9 1060.76 L934.4 1060.66 L933.9 1060.55 L933.4 1060.56 L932.9 1060.94 L932.4 1060.48 L931.9 1060.93 L931.4 1060.53 L930.9 1060.75 L930.4 1060.56 L929.9 1060.47 L929.4 1060.88 L928.9 1060.76 L928.4 1060.72 L927.9 1060.68 L927.4 1060.88 L926.9 1060.92 L926.4 1060.95 L925.9 1060.58 L925.4 1060.5 L924.9 1060.56 L924.4 1060.59 L923.9 1060.89 L923.4 1060.98 L922.9 1060.65 L922.4 1060.75 L921.9 1060.55 L921.4 1060.96 L920.9 1060.69 L920.4 1060.77 L919.9 1060.83 L919.4 1060.53 L918.9 1060.96 L918.4 1060.8 L917.9 1061.01 L917.4 1060.76 L916.9 1060.94 L916.4 1060.76 L915.9 1060.56 L915.4 1060.73 L914.9 1060.89 L914.4 1060.78 L913.9 1060.63 L913.4 1060.89Z" fill="#000"/>
<path d="M1469.2 1058 L1470.3 1053.9 L1471.4 1058" fill="none" stroke="#000" stroke-width="1.3" stroke-linejoin="round" />
<path d="M1464.7 1057.5 L1465.6 744.1 L1466.5 1057.5" fill="none" stroke="#000" stroke-width="1.3" stroke-linejoin="round" />
<line x1="1465.9" y1="916.8" x2="1465.9" y2="1057.5" stroke="#000" stroke-width="2.0"/>
<text y="123.7" font-family="'DejaVu Serif', serif" font-stretch="normal" font-size="27.4" font-weight="normal" text-anchor="middle" stroke-width="2.0" stroke-linejoin="round"><tspan x="951.5" textLength="20.01" lengthAdjust="spacingAndGlyphs" fill="#138a45" stroke="#138a45">E</tspan></text>
<text y="87.3" font-family="'DejaVu Serif', serif" font-stretch="normal" font-size="27.4" font-weight="normal" text-anchor="middle" stroke-width="2.0" stroke-linejoin="round"><tspan x="983.6" textLength="19.99" lengthAdjust="spacingAndGlyphs" fill="#c8282a" stroke="#c8282a">S</tspan><tspan x="1005.97" textLength="20.01" lengthAdjust="spacingAndGlyphs" fill="#138a45" stroke="#138a45">E</tspan></text>
<text y="122.4" font-family="'DejaVu Serif', serif" font-stretch="normal" font-size="27.4" font-weight="normal" text-anchor="middle" stroke-width="2.0" stroke-linejoin="round"><tspan x="1023.6" textLength="19.99" lengthAdjust="spacingAndGlyphs" fill="#c8282a" stroke="#c8282a">S</tspan><tspan x="1045.97" textLength="20.01" lengthAdjust="spacingAndGlyphs" fill="#138a45" stroke="#138a45">E</tspan><tspan x="1069.14" textLength="21.42" lengthAdjust="spacingAndGlyphs" fill="#2466b6" stroke="#2466b6">Q</tspan><tspan x="1091.01" textLength="21.43" lengthAdjust="spacingAndGlyphs" fill="#e06a26" stroke="#e06a26">U</tspan></text>
<text y="122.4" font-family="'DejaVu Serif', serif" font-stretch="normal" font-size="27.4" font-weight="normal" text-anchor="middle" stroke-width="2.0" stroke-linejoin="round"><tspan x="1125.4" textLength="20.01" lengthAdjust="spacingAndGlyphs" fill="#138a45" stroke="#138a45">E</tspan><tspan x="1147.97" textLength="20.36" lengthAdjust="spacingAndGlyphs" fill="#6f3d98" stroke="#6f3d98">N</tspan><tspan x="1169.64" textLength="20.52" lengthAdjust="spacingAndGlyphs" fill="#dcbd2a" stroke="#dcbd2a">C</tspan><tspan x="1192.51" textLength="20.01" lengthAdjust="spacingAndGlyphs" fill="#138a45" stroke="#138a45">E</tspan></text>
<text y="119.5" font-family="'DejaVu Serif', serif" font-stretch="normal" font-size="27.4" font-weight="normal" text-anchor="middle" stroke-width="2.0" stroke-linejoin="round"><tspan x="1235.7" textLength="19.99" lengthAdjust="spacingAndGlyphs" fill="#c8282a" stroke="#c8282a">S</tspan><tspan x="1258.07" textLength="20.01" lengthAdjust="spacingAndGlyphs" fill="#138a45" stroke="#138a45">E</tspan><tspan x="1281.24" textLength="21.42" lengthAdjust="spacingAndGlyphs" fill="#2466b6" stroke="#2466b6">Q</tspan><tspan x="1303.11" textLength="21.43" lengthAdjust="spacingAndGlyphs" fill="#e06a26" stroke="#e06a26">U</tspan><tspan x="1325.18" textLength="20.01" lengthAdjust="spacingAndGlyphs" fill="#138a45" stroke="#138a45">E</tspan><tspan x="1347.75" textLength="20.36" lengthAdjust="spacingAndGlyphs" fill="#6f3d98" stroke="#6f3d98">N</tspan><tspan x="1369.42" textLength="20.52" lengthAdjust="spacingAndGlyphs" fill="#dcbd2a" stroke="#dcbd2a">C</tspan><tspan x="1392.29" textLength="20.01" lengthAdjust="spacingAndGlyphs" fill="#138a45" stroke="#138a45">E</tspan></text>
<text y="302.7" font-family="'DejaVu Serif', serif" font-stretch="normal" font-size="27.4" font-weight="normal" text-anchor="middle" stroke-width="2.0" stroke-linejoin="round"><tspan x="1417.6" textLength="19.99" lengthAdjust="spacingAndGlyphs" fill="#c8282a" stroke="#c8282a">S</tspan><tspan x="1439.97" textLength="20.01" lengthAdjust="spacingAndGlyphs" fill="#138a45" stroke="#138a45">E</tspan><tspan x="1463.14" textLength="21.42" lengthAdjust="spacingAndGlyphs" fill="#2466b6" stroke="#2466b6">Q</tspan><tspan x="1485.01" textLength="21.43" lengthAdjust="spacingAndGlyphs" fill="#e06a26" stroke="#e06a26">U</tspan><tspan x="1507.08" textLength="20.01" lengthAdjust="spacingAndGlyphs" fill="#138a45" stroke="#138a45">E</tspan><tspan x="1529.65" textLength="20.36" lengthAdjust="spacingAndGlyphs" fill="#6f3d98" stroke="#6f3d98">N</tspan><tspan x="1551.32" textLength="20.52" lengthAdjust="spacingAndGlyphs" fill="#dcbd2a" stroke="#dcbd2a">C</tspan><tspan x="1574.19" textLength="20.01" lengthAdjust="spacingAndGlyphs" fill="#138a45" stroke="#138a45">E</tspan><tspan x="1596.56" textLength="19.99" lengthAdjust="spacingAndGlyphs" fill="#c8282a" stroke="#c8282a">S</tspan><tspan x="1618.93" textLength="20.01" lengthAdjust="spacingAndGlyphs" fill="#138a45" stroke="#138a45">E</tspan><tspan x="1642.1" textLength="21.42" lengthAdjust="spacingAndGlyphs" fill="#2466b6" stroke="#2466b6">Q</tspan><tspan x="1663.97" textLength="21.43" lengthAdjust="spacingAndGlyphs" fill="#e06a26" stroke="#e06a26">U</tspan><tspan x="1686.04" textLength="20.01" lengthAdjust="spacingAndGlyphs" fill="#138a45" stroke="#138a45">E</tspan><tspan x="1708.61" textLength="20.36" lengthAdjust="spacingAndGlyphs" fill="#6f3d98" stroke="#6f3d98">N</tspan><tspan x="1730.28" textLength="20.52" lengthAdjust="spacingAndGlyphs" fill="#dcbd2a" stroke="#dcbd2a">C</tspan><tspan x="1753.15" textLength="20.01" lengthAdjust="spacingAndGlyphs" fill="#138a45" stroke="#138a45">E</tspan></text>
<text y="777.5" font-family="'DejaVu Serif', serif" font-stretch="normal" font-size="27.4" font-weight="normal" text-anchor="middle" stroke-width="2.0" stroke-linejoin="round"><tspan x="441.3" textLength="19.99" lengthAdjust="spacingAndGlyphs" fill="#c8282a" stroke="#c8282a">S</tspan><tspan x="463.67" textLength="20.01" lengthAdjust="spacingAndGlyphs" fill="#138a45" stroke="#138a45">E</tspan><tspan x="486.84" textLength="21.42" lengthAdjust="spacingAndGlyphs" fill="#2466b6" stroke="#2466b6">Q</tspan><tspan x="508.71" textLength="21.43" lengthAdjust="spacingAndGlyphs" fill="#e06a26" stroke="#e06a26">U</tspan><tspan x="530.78" textLength="20.01" lengthAdjust="spacingAndGlyphs" fill="#138a45" stroke="#138a45">E</tspan><tspan x="553.35" textLength="20.36" lengthAdjust="spacingAndGlyphs" fill="#6f3d98" stroke="#6f3d98">N</tspan><tspan x="575.02" textLength="20.52" lengthAdjust="spacingAndGlyphs" fill="#dcbd2a" stroke="#dcbd2a">C</tspan><tspan x="597.89" textLength="20.01" lengthAdjust="spacingAndGlyphs" fill="#138a45" stroke="#138a45">E</tspan></text>
<text y="772.3" font-family="'DejaVu Serif', serif" font-stretch="normal" font-size="27.4" font-weight="normal" text-anchor="middle" stroke-width="2.0" stroke-linejoin="round"><tspan x="1108.1" textLength="19.99" lengthAdjust="spacingAndGlyphs" fill="#c8282a" stroke="#c8282a">S</tspan><tspan x="1130.47" textLength="20.01" lengthAdjust="spacingAndGlyphs" fill="#138a45" stroke="#138a45">E</tspan><tspan x="1153.64" textLength="21.42" lengthAdjust="spacingAndGlyphs" fill="#2466b6" stroke="#2466b6">Q</tspan><tspan x="1175.51" textLength="21.43" lengthAdjust="spacingAndGlyphs" fill="#e06a26" stroke="#e06a26">U</tspan><tspan x="1197.58" textLength="20.01" lengthAdjust="spacingAndGlyphs" fill="#138a45" stroke="#138a45">E</tspan><tspan x="1220.15" textLength="20.36" lengthAdjust="spacingAndGlyphs" fill="#6f3d98" stroke="#6f3d98">N</tspan><tspan x="1241.82" textLength="20.52" lengthAdjust="spacingAndGlyphs" fill="#dcbd2a" stroke="#dcbd2a">C</tspan><tspan x="1264.69" textLength="20.01" lengthAdjust="spacingAndGlyphs" fill="#138a45" stroke="#138a45">E</tspan><tspan x="1287.06" textLength="19.99" lengthAdjust="spacingAndGlyphs" fill="#c8282a" stroke="#c8282a">S</tspan><tspan x="1309.43" textLength="20.01" lengthAdjust="spacingAndGlyphs" fill="#138a45" stroke="#138a45">E</tspan><tspan x="1332.6" textLength="21.42" lengthAdjust="spacingAndGlyphs" fill="#2466b6" stroke="#2466b6">Q</tspan><tspan x="1354.47" textLength="21.43" lengthAdjust="spacingAndGlyphs" fill="#e06a26" stroke="#e06a26">U</tspan><tspan x="1376.54" textLength="20.01" lengthAdjust="spacingAndGlyphs" fill="#138a45" stroke="#138a45">E</tspan><tspan x="1399.11" textLength="20.36" lengthAdjust="spacingAndGlyphs" fill="#6f3d98" stroke="#6f3d98">N</tspan><tspan x="1420.78" textLength="20.52" lengthAdjust="spacingAndGlyphs" fill="#dcbd2a" stroke="#dcbd2a">C</tspan><tspan x="1443.65" textLength="20.01" lengthAdjust="spacingAndGlyphs" fill="#138a45" stroke="#138a45">E</tspan></text></svg>
</body></html>
